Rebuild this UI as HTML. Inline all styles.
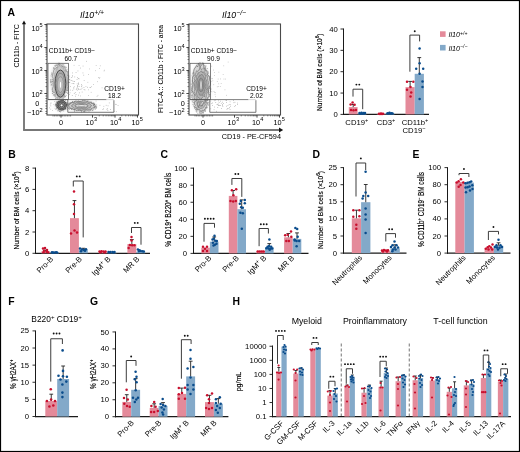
<!DOCTYPE html>
<html><head><meta charset="utf-8"><style>
html,body{margin:0;padding:0;background:#fff;}
svg{display:block;will-change:transform;}
text{font-family:"Liberation Sans", sans-serif;}
</style></head><body>
<svg width="520" height="452" viewBox="0 0 520 452">
<defs><filter id="blur1" x="-50%" y="-50%" width="200%" height="200%"><feGaussianBlur stdDeviation="1.4"/></filter></defs>
<rect x="0" y="0" width="520" height="452" fill="#fff"/>
<text x="7.60" y="16.20" font-size="10.4" text-anchor="start" font-weight="bold" font-style="normal" fill="#000" >A</text>
<line x1="24.00" y1="130.00" x2="24.00" y2="23.50" stroke="#777" stroke-width="1.9" />
<polygon points="24,20.6 21.9,24.2 26.1,24.2" fill="#111"/>
<line x1="23.10" y1="130.00" x2="279.50" y2="130.00" stroke="#777" stroke-width="1.9" />
<polygon points="283.2,130 279,127.5 279,132.5" fill="#111"/>
<text x="18.70" y="45.80" font-size="7.4" font-weight="normal" text-anchor="middle" fill="#000" stroke="#000" stroke-width="0" transform="rotate(-90 18.70 45.80)" textLength="43.5" lengthAdjust="spacingAndGlyphs">CD11b - FITC</text>
<text x="163.30" y="69.00" font-size="7.4" font-weight="normal" text-anchor="middle" fill="#000" stroke="#000" stroke-width="0.05" transform="rotate(-90 163.30 69.00)" textLength="88" lengthAdjust="spacingAndGlyphs">FITC-A :: CD11b : FITC - area</text>
<text x="281.00" y="139.20" font-size="7.3" text-anchor="end" font-weight="normal" font-style="normal" fill="#000" >CD19 - PE-CF594</text>
<rect x="47" y="24.0" width="91.5" height="91.0" fill="none" stroke="#4a4a4a" stroke-width="1.1"/>
<line x1="44.40" y1="24.50" x2="47.00" y2="24.50" stroke="#333" stroke-width="0.9" />
<line x1="45.50" y1="40.58" x2="47.00" y2="40.58" stroke="#333" stroke-width="0.6" />
<line x1="45.50" y1="36.53" x2="47.00" y2="36.53" stroke="#333" stroke-width="0.6" />
<line x1="45.50" y1="33.65" x2="47.00" y2="33.65" stroke="#333" stroke-width="0.6" />
<line x1="45.50" y1="31.42" x2="47.00" y2="31.42" stroke="#333" stroke-width="0.6" />
<line x1="45.50" y1="29.60" x2="47.00" y2="29.60" stroke="#333" stroke-width="0.6" />
<line x1="45.50" y1="28.06" x2="47.00" y2="28.06" stroke="#333" stroke-width="0.6" />
<line x1="45.50" y1="26.73" x2="47.00" y2="26.73" stroke="#333" stroke-width="0.6" />
<line x1="45.50" y1="25.55" x2="47.00" y2="25.55" stroke="#333" stroke-width="0.6" />
<line x1="44.40" y1="47.50" x2="47.00" y2="47.50" stroke="#333" stroke-width="0.9" />
<line x1="45.50" y1="63.58" x2="47.00" y2="63.58" stroke="#333" stroke-width="0.6" />
<line x1="45.50" y1="59.53" x2="47.00" y2="59.53" stroke="#333" stroke-width="0.6" />
<line x1="45.50" y1="56.65" x2="47.00" y2="56.65" stroke="#333" stroke-width="0.6" />
<line x1="45.50" y1="54.42" x2="47.00" y2="54.42" stroke="#333" stroke-width="0.6" />
<line x1="45.50" y1="52.60" x2="47.00" y2="52.60" stroke="#333" stroke-width="0.6" />
<line x1="45.50" y1="51.06" x2="47.00" y2="51.06" stroke="#333" stroke-width="0.6" />
<line x1="45.50" y1="49.73" x2="47.00" y2="49.73" stroke="#333" stroke-width="0.6" />
<line x1="45.50" y1="48.55" x2="47.00" y2="48.55" stroke="#333" stroke-width="0.6" />
<line x1="44.40" y1="70.50" x2="47.00" y2="70.50" stroke="#333" stroke-width="0.9" />
<line x1="45.50" y1="86.58" x2="47.00" y2="86.58" stroke="#333" stroke-width="0.6" />
<line x1="45.50" y1="82.53" x2="47.00" y2="82.53" stroke="#333" stroke-width="0.6" />
<line x1="45.50" y1="79.65" x2="47.00" y2="79.65" stroke="#333" stroke-width="0.6" />
<line x1="45.50" y1="77.42" x2="47.00" y2="77.42" stroke="#333" stroke-width="0.6" />
<line x1="45.50" y1="75.60" x2="47.00" y2="75.60" stroke="#333" stroke-width="0.6" />
<line x1="45.50" y1="74.06" x2="47.00" y2="74.06" stroke="#333" stroke-width="0.6" />
<line x1="45.50" y1="72.73" x2="47.00" y2="72.73" stroke="#333" stroke-width="0.6" />
<line x1="45.50" y1="71.55" x2="47.00" y2="71.55" stroke="#333" stroke-width="0.6" />
<line x1="44.40" y1="93.50" x2="47.00" y2="93.50" stroke="#333" stroke-width="0.9" />
<line x1="45.40" y1="96.00" x2="47.00" y2="96.00" stroke="#333" stroke-width="0.6" />
<line x1="45.40" y1="98.50" x2="47.00" y2="98.50" stroke="#333" stroke-width="0.6" />
<line x1="45.40" y1="101.00" x2="47.00" y2="101.00" stroke="#333" stroke-width="0.6" />
<line x1="45.40" y1="103.50" x2="47.00" y2="103.50" stroke="#333" stroke-width="0.6" />
<line x1="45.40" y1="106.00" x2="47.00" y2="106.00" stroke="#333" stroke-width="0.6" />
<line x1="45.40" y1="108.50" x2="47.00" y2="108.50" stroke="#333" stroke-width="0.6" />
<line x1="45.40" y1="111.50" x2="47.00" y2="111.50" stroke="#333" stroke-width="0.6" />
<line x1="45.40" y1="113.50" x2="47.00" y2="113.50" stroke="#333" stroke-width="0.6" />
<text x="31.4" y="30.5" font-size="7.3" fill="#000">10</text>
<text x="39.4" y="27.299999999999997" font-size="5.6" fill="#000">5</text>
<text x="31.4" y="50.7" font-size="7.3" fill="#000">10</text>
<text x="39.4" y="47.5" font-size="5.6" fill="#000">4</text>
<text x="31.4" y="73.8" font-size="7.3" fill="#000">10</text>
<text x="39.4" y="70.60000000000001" font-size="5.6" fill="#000">3</text>
<text x="31.4" y="96.89999999999999" font-size="7.3" fill="#000">10</text>
<text x="39.4" y="93.7" font-size="5.6" fill="#000">2</text>
<text x="37.4" y="106.19999999999999" font-size="7.3" text-anchor="middle" fill="#000">0</text>
<text x="31.4" y="115.0" font-size="7.3" fill="#000">10</text>
<text x="31.2" y="115.0" font-size="7.3" text-anchor="end" fill="#000">−</text>
<text x="39.4" y="111.80000000000001" font-size="5.6" fill="#000">2</text>
<line x1="61.00" y1="115.00" x2="61.00" y2="117.60" stroke="#333" stroke-width="0.9" />
<line x1="92.50" y1="115.00" x2="92.50" y2="117.60" stroke="#333" stroke-width="0.9" />
<line x1="115.00" y1="115.00" x2="115.00" y2="117.60" stroke="#333" stroke-width="0.9" />
<line x1="137.50" y1="115.00" x2="137.50" y2="117.60" stroke="#333" stroke-width="0.9" />
<line x1="53.00" y1="115.00" x2="53.00" y2="116.50" stroke="#333" stroke-width="0.55" />
<line x1="54.60" y1="115.00" x2="54.60" y2="116.50" stroke="#333" stroke-width="0.55" />
<line x1="56.20" y1="115.00" x2="56.20" y2="116.50" stroke="#333" stroke-width="0.55" />
<line x1="57.80" y1="115.00" x2="57.80" y2="116.50" stroke="#333" stroke-width="0.55" />
<line x1="59.40" y1="115.00" x2="59.40" y2="116.50" stroke="#333" stroke-width="0.55" />
<line x1="61.00" y1="115.00" x2="61.00" y2="116.50" stroke="#333" stroke-width="0.55" />
<line x1="62.60" y1="115.00" x2="62.60" y2="116.50" stroke="#333" stroke-width="0.55" />
<line x1="64.20" y1="115.00" x2="64.20" y2="116.50" stroke="#333" stroke-width="0.55" />
<line x1="65.80" y1="115.00" x2="65.80" y2="116.50" stroke="#333" stroke-width="0.55" />
<line x1="67.40" y1="115.00" x2="67.40" y2="116.50" stroke="#333" stroke-width="0.55" />
<line x1="69.00" y1="115.00" x2="69.00" y2="116.50" stroke="#333" stroke-width="0.55" />
<line x1="70.60" y1="115.00" x2="70.60" y2="116.50" stroke="#333" stroke-width="0.55" />
<line x1="99.27" y1="115.00" x2="99.27" y2="116.40" stroke="#333" stroke-width="0.55" />
<line x1="103.24" y1="115.00" x2="103.24" y2="116.40" stroke="#333" stroke-width="0.55" />
<line x1="106.05" y1="115.00" x2="106.05" y2="116.40" stroke="#333" stroke-width="0.55" />
<line x1="108.23" y1="115.00" x2="108.23" y2="116.40" stroke="#333" stroke-width="0.55" />
<line x1="110.01" y1="115.00" x2="110.01" y2="116.40" stroke="#333" stroke-width="0.55" />
<line x1="111.51" y1="115.00" x2="111.51" y2="116.40" stroke="#333" stroke-width="0.55" />
<line x1="112.82" y1="115.00" x2="112.82" y2="116.40" stroke="#333" stroke-width="0.55" />
<line x1="113.97" y1="115.00" x2="113.97" y2="116.40" stroke="#333" stroke-width="0.55" />
<line x1="121.77" y1="115.00" x2="121.77" y2="116.40" stroke="#333" stroke-width="0.55" />
<line x1="125.74" y1="115.00" x2="125.74" y2="116.40" stroke="#333" stroke-width="0.55" />
<line x1="128.55" y1="115.00" x2="128.55" y2="116.40" stroke="#333" stroke-width="0.55" />
<line x1="130.73" y1="115.00" x2="130.73" y2="116.40" stroke="#333" stroke-width="0.55" />
<line x1="132.51" y1="115.00" x2="132.51" y2="116.40" stroke="#333" stroke-width="0.55" />
<line x1="134.01" y1="115.00" x2="134.01" y2="116.40" stroke="#333" stroke-width="0.55" />
<line x1="135.32" y1="115.00" x2="135.32" y2="116.40" stroke="#333" stroke-width="0.55" />
<line x1="136.47" y1="115.00" x2="136.47" y2="116.40" stroke="#333" stroke-width="0.55" />
<text x="61" y="124.8" font-size="7.3" text-anchor="middle" fill="#000">0</text>
<text x="85.6" y="124.8" font-size="7.3" fill="#000">10</text>
<text x="93.89999999999999" y="121.3" font-size="5.6" fill="#000">3</text>
<text x="110" y="124.8" font-size="7.3" fill="#000">10</text>
<text x="118.3" y="121.3" font-size="5.6" fill="#000">4</text>
<text x="131.4" y="124.8" font-size="7.3" fill="#000">10</text>
<text x="139.70000000000002" y="121.3" font-size="5.6" fill="#000">5</text>
<text x="80" y="18.3" font-size="8.8" font-style="italic" fill="#000">Il10<tspan font-size="6.8" dy="-3.2">+/+</tspan></text>
<rect x="189" y="24.0" width="91.5" height="91.0" fill="none" stroke="#4a4a4a" stroke-width="1.1"/>
<line x1="186.40" y1="24.50" x2="189.00" y2="24.50" stroke="#333" stroke-width="0.9" />
<line x1="187.50" y1="40.58" x2="189.00" y2="40.58" stroke="#333" stroke-width="0.6" />
<line x1="187.50" y1="36.53" x2="189.00" y2="36.53" stroke="#333" stroke-width="0.6" />
<line x1="187.50" y1="33.65" x2="189.00" y2="33.65" stroke="#333" stroke-width="0.6" />
<line x1="187.50" y1="31.42" x2="189.00" y2="31.42" stroke="#333" stroke-width="0.6" />
<line x1="187.50" y1="29.60" x2="189.00" y2="29.60" stroke="#333" stroke-width="0.6" />
<line x1="187.50" y1="28.06" x2="189.00" y2="28.06" stroke="#333" stroke-width="0.6" />
<line x1="187.50" y1="26.73" x2="189.00" y2="26.73" stroke="#333" stroke-width="0.6" />
<line x1="187.50" y1="25.55" x2="189.00" y2="25.55" stroke="#333" stroke-width="0.6" />
<line x1="186.40" y1="47.50" x2="189.00" y2="47.50" stroke="#333" stroke-width="0.9" />
<line x1="187.50" y1="63.58" x2="189.00" y2="63.58" stroke="#333" stroke-width="0.6" />
<line x1="187.50" y1="59.53" x2="189.00" y2="59.53" stroke="#333" stroke-width="0.6" />
<line x1="187.50" y1="56.65" x2="189.00" y2="56.65" stroke="#333" stroke-width="0.6" />
<line x1="187.50" y1="54.42" x2="189.00" y2="54.42" stroke="#333" stroke-width="0.6" />
<line x1="187.50" y1="52.60" x2="189.00" y2="52.60" stroke="#333" stroke-width="0.6" />
<line x1="187.50" y1="51.06" x2="189.00" y2="51.06" stroke="#333" stroke-width="0.6" />
<line x1="187.50" y1="49.73" x2="189.00" y2="49.73" stroke="#333" stroke-width="0.6" />
<line x1="187.50" y1="48.55" x2="189.00" y2="48.55" stroke="#333" stroke-width="0.6" />
<line x1="186.40" y1="70.50" x2="189.00" y2="70.50" stroke="#333" stroke-width="0.9" />
<line x1="187.50" y1="86.58" x2="189.00" y2="86.58" stroke="#333" stroke-width="0.6" />
<line x1="187.50" y1="82.53" x2="189.00" y2="82.53" stroke="#333" stroke-width="0.6" />
<line x1="187.50" y1="79.65" x2="189.00" y2="79.65" stroke="#333" stroke-width="0.6" />
<line x1="187.50" y1="77.42" x2="189.00" y2="77.42" stroke="#333" stroke-width="0.6" />
<line x1="187.50" y1="75.60" x2="189.00" y2="75.60" stroke="#333" stroke-width="0.6" />
<line x1="187.50" y1="74.06" x2="189.00" y2="74.06" stroke="#333" stroke-width="0.6" />
<line x1="187.50" y1="72.73" x2="189.00" y2="72.73" stroke="#333" stroke-width="0.6" />
<line x1="187.50" y1="71.55" x2="189.00" y2="71.55" stroke="#333" stroke-width="0.6" />
<line x1="186.40" y1="93.50" x2="189.00" y2="93.50" stroke="#333" stroke-width="0.9" />
<line x1="187.40" y1="96.00" x2="189.00" y2="96.00" stroke="#333" stroke-width="0.6" />
<line x1="187.40" y1="98.50" x2="189.00" y2="98.50" stroke="#333" stroke-width="0.6" />
<line x1="187.40" y1="101.00" x2="189.00" y2="101.00" stroke="#333" stroke-width="0.6" />
<line x1="187.40" y1="103.50" x2="189.00" y2="103.50" stroke="#333" stroke-width="0.6" />
<line x1="187.40" y1="106.00" x2="189.00" y2="106.00" stroke="#333" stroke-width="0.6" />
<line x1="187.40" y1="108.50" x2="189.00" y2="108.50" stroke="#333" stroke-width="0.6" />
<line x1="187.40" y1="111.50" x2="189.00" y2="111.50" stroke="#333" stroke-width="0.6" />
<line x1="187.40" y1="113.50" x2="189.00" y2="113.50" stroke="#333" stroke-width="0.6" />
<text x="173.4" y="30.5" font-size="7.3" fill="#000">10</text>
<text x="181.4" y="27.299999999999997" font-size="5.6" fill="#000">5</text>
<text x="173.4" y="50.7" font-size="7.3" fill="#000">10</text>
<text x="181.4" y="47.5" font-size="5.6" fill="#000">4</text>
<text x="173.4" y="73.8" font-size="7.3" fill="#000">10</text>
<text x="181.4" y="70.60000000000001" font-size="5.6" fill="#000">3</text>
<text x="173.4" y="96.89999999999999" font-size="7.3" fill="#000">10</text>
<text x="181.4" y="93.7" font-size="5.6" fill="#000">2</text>
<text x="182.8" y="106.19999999999999" font-size="7.3" text-anchor="middle" fill="#000">0</text>
<text x="173.4" y="115.0" font-size="7.3" fill="#000">10</text>
<text x="173.2" y="115.0" font-size="7.3" text-anchor="end" fill="#000">−</text>
<text x="181.4" y="111.80000000000001" font-size="5.6" fill="#000">2</text>
<line x1="203.00" y1="115.00" x2="203.00" y2="117.60" stroke="#333" stroke-width="0.9" />
<line x1="234.50" y1="115.00" x2="234.50" y2="117.60" stroke="#333" stroke-width="0.9" />
<line x1="257.00" y1="115.00" x2="257.00" y2="117.60" stroke="#333" stroke-width="0.9" />
<line x1="279.50" y1="115.00" x2="279.50" y2="117.60" stroke="#333" stroke-width="0.9" />
<line x1="195.00" y1="115.00" x2="195.00" y2="116.50" stroke="#333" stroke-width="0.55" />
<line x1="196.60" y1="115.00" x2="196.60" y2="116.50" stroke="#333" stroke-width="0.55" />
<line x1="198.20" y1="115.00" x2="198.20" y2="116.50" stroke="#333" stroke-width="0.55" />
<line x1="199.80" y1="115.00" x2="199.80" y2="116.50" stroke="#333" stroke-width="0.55" />
<line x1="201.40" y1="115.00" x2="201.40" y2="116.50" stroke="#333" stroke-width="0.55" />
<line x1="203.00" y1="115.00" x2="203.00" y2="116.50" stroke="#333" stroke-width="0.55" />
<line x1="204.60" y1="115.00" x2="204.60" y2="116.50" stroke="#333" stroke-width="0.55" />
<line x1="206.20" y1="115.00" x2="206.20" y2="116.50" stroke="#333" stroke-width="0.55" />
<line x1="207.80" y1="115.00" x2="207.80" y2="116.50" stroke="#333" stroke-width="0.55" />
<line x1="209.40" y1="115.00" x2="209.40" y2="116.50" stroke="#333" stroke-width="0.55" />
<line x1="211.00" y1="115.00" x2="211.00" y2="116.50" stroke="#333" stroke-width="0.55" />
<line x1="212.60" y1="115.00" x2="212.60" y2="116.50" stroke="#333" stroke-width="0.55" />
<line x1="241.27" y1="115.00" x2="241.27" y2="116.40" stroke="#333" stroke-width="0.55" />
<line x1="245.24" y1="115.00" x2="245.24" y2="116.40" stroke="#333" stroke-width="0.55" />
<line x1="248.05" y1="115.00" x2="248.05" y2="116.40" stroke="#333" stroke-width="0.55" />
<line x1="250.23" y1="115.00" x2="250.23" y2="116.40" stroke="#333" stroke-width="0.55" />
<line x1="252.01" y1="115.00" x2="252.01" y2="116.40" stroke="#333" stroke-width="0.55" />
<line x1="253.51" y1="115.00" x2="253.51" y2="116.40" stroke="#333" stroke-width="0.55" />
<line x1="254.82" y1="115.00" x2="254.82" y2="116.40" stroke="#333" stroke-width="0.55" />
<line x1="255.97" y1="115.00" x2="255.97" y2="116.40" stroke="#333" stroke-width="0.55" />
<line x1="263.77" y1="115.00" x2="263.77" y2="116.40" stroke="#333" stroke-width="0.55" />
<line x1="267.74" y1="115.00" x2="267.74" y2="116.40" stroke="#333" stroke-width="0.55" />
<line x1="270.55" y1="115.00" x2="270.55" y2="116.40" stroke="#333" stroke-width="0.55" />
<line x1="272.73" y1="115.00" x2="272.73" y2="116.40" stroke="#333" stroke-width="0.55" />
<line x1="274.51" y1="115.00" x2="274.51" y2="116.40" stroke="#333" stroke-width="0.55" />
<line x1="276.01" y1="115.00" x2="276.01" y2="116.40" stroke="#333" stroke-width="0.55" />
<line x1="277.32" y1="115.00" x2="277.32" y2="116.40" stroke="#333" stroke-width="0.55" />
<line x1="278.47" y1="115.00" x2="278.47" y2="116.40" stroke="#333" stroke-width="0.55" />
<text x="203" y="124.8" font-size="7.3" text-anchor="middle" fill="#000">0</text>
<text x="227.6" y="124.8" font-size="7.3" fill="#000">10</text>
<text x="235.9" y="121.3" font-size="5.6" fill="#000">3</text>
<text x="252" y="124.8" font-size="7.3" fill="#000">10</text>
<text x="260.3" y="121.3" font-size="5.6" fill="#000">4</text>
<text x="273.4" y="124.8" font-size="7.3" fill="#000">10</text>
<text x="281.7" y="121.3" font-size="5.6" fill="#000">5</text>
<text x="222" y="18.3" font-size="8.8" font-style="italic" fill="#000">Il10<tspan font-size="6.8" dy="-3.2">−/−</tspan></text>
<rect x="73.5" y="88.6" width="0.7" height="0.7" fill="#9a9a9a"/>
<rect x="73.6" y="81.2" width="0.7" height="0.7" fill="#9a9a9a"/>
<rect x="69.4" y="82.1" width="0.7" height="0.7" fill="#9a9a9a"/>
<rect x="81.7" y="87.8" width="0.7" height="0.7" fill="#9a9a9a"/>
<rect x="81.2" y="86.2" width="0.7" height="0.7" fill="#9a9a9a"/>
<rect x="77.4" y="85.7" width="0.7" height="0.7" fill="#9a9a9a"/>
<rect x="78.0" y="88.5" width="0.7" height="0.7" fill="#9a9a9a"/>
<rect x="69.7" y="79.8" width="0.7" height="0.7" fill="#9a9a9a"/>
<rect x="76.8" y="83.6" width="0.7" height="0.7" fill="#9a9a9a"/>
<rect x="78.1" y="78.2" width="0.7" height="0.7" fill="#9a9a9a"/>
<rect x="76.9" y="87.5" width="0.7" height="0.7" fill="#9a9a9a"/>
<rect x="78.3" y="94.8" width="0.7" height="0.7" fill="#9a9a9a"/>
<rect x="71.3" y="77.3" width="0.7" height="0.7" fill="#9a9a9a"/>
<rect x="72.9" y="83.0" width="0.7" height="0.7" fill="#9a9a9a"/>
<rect x="78.8" y="86.2" width="0.7" height="0.7" fill="#9a9a9a"/>
<rect x="72.3" y="75.4" width="0.7" height="0.7" fill="#9a9a9a"/>
<rect x="71.9" y="95.0" width="0.7" height="0.7" fill="#9a9a9a"/>
<rect x="70.2" y="86.2" width="0.7" height="0.7" fill="#9a9a9a"/>
<rect x="77.6" y="70.6" width="0.7" height="0.7" fill="#9a9a9a"/>
<rect x="75.3" y="95.8" width="0.7" height="0.7" fill="#9a9a9a"/>
<rect x="74.4" y="76.6" width="0.7" height="0.7" fill="#9a9a9a"/>
<rect x="78.0" y="83.4" width="0.7" height="0.7" fill="#9a9a9a"/>
<rect x="79.0" y="92.5" width="0.7" height="0.7" fill="#9a9a9a"/>
<rect x="83.6" y="87.3" width="0.7" height="0.7" fill="#9a9a9a"/>
<rect x="75.7" y="72.3" width="0.7" height="0.7" fill="#9a9a9a"/>
<rect x="78.7" y="78.5" width="0.7" height="0.7" fill="#9a9a9a"/>
<rect x="72.3" y="72.6" width="0.7" height="0.7" fill="#9a9a9a"/>
<rect x="69.2" y="79.2" width="0.7" height="0.7" fill="#9a9a9a"/>
<rect x="82.7" y="65.7" width="0.7" height="0.7" fill="#9a9a9a"/>
<rect x="83.7" y="89.2" width="0.7" height="0.7" fill="#9a9a9a"/>
<rect x="77.1" y="77.4" width="0.7" height="0.7" fill="#9a9a9a"/>
<rect x="81.6" y="85.4" width="0.7" height="0.7" fill="#9a9a9a"/>
<rect x="76.5" y="87.9" width="0.7" height="0.7" fill="#9a9a9a"/>
<rect x="84.6" y="89.6" width="0.7" height="0.7" fill="#9a9a9a"/>
<rect x="78.1" y="88.9" width="0.7" height="0.7" fill="#9a9a9a"/>
<rect x="80.7" y="88.8" width="0.7" height="0.7" fill="#9a9a9a"/>
<rect x="80.1" y="67.7" width="0.7" height="0.7" fill="#9a9a9a"/>
<rect x="73.9" y="93.2" width="0.7" height="0.7" fill="#9a9a9a"/>
<rect x="78.3" y="82.6" width="0.7" height="0.7" fill="#9a9a9a"/>
<rect x="76.9" y="89.8" width="0.7" height="0.7" fill="#9a9a9a"/>
<rect x="75.7" y="94.3" width="0.7" height="0.7" fill="#9a9a9a"/>
<rect x="71.0" y="80.3" width="0.7" height="0.7" fill="#9a9a9a"/>
<rect x="81.3" y="84.2" width="0.7" height="0.7" fill="#9a9a9a"/>
<rect x="69.7" y="92.5" width="0.7" height="0.7" fill="#9a9a9a"/>
<rect x="83.8" y="80.0" width="0.7" height="0.7" fill="#9a9a9a"/>
<rect x="74.1" y="81.3" width="0.7" height="0.7" fill="#9a9a9a"/>
<rect x="83.4" y="74.8" width="0.7" height="0.7" fill="#9a9a9a"/>
<rect x="82.6" y="72.6" width="0.7" height="0.7" fill="#9a9a9a"/>
<rect x="70.3" y="89.7" width="0.7" height="0.7" fill="#9a9a9a"/>
<rect x="81.8" y="91.7" width="0.7" height="0.7" fill="#9a9a9a"/>
<rect x="77.1" y="85.3" width="0.7" height="0.7" fill="#9a9a9a"/>
<rect x="75.9" y="89.2" width="0.7" height="0.7" fill="#9a9a9a"/>
<rect x="73.9" y="86.5" width="0.7" height="0.7" fill="#9a9a9a"/>
<rect x="78.4" y="84.0" width="0.7" height="0.7" fill="#9a9a9a"/>
<rect x="79.6" y="89.1" width="0.7" height="0.7" fill="#9a9a9a"/>
<rect x="87.1" y="86.9" width="0.7" height="0.7" fill="#9a9a9a"/>
<rect x="72.4" y="80.6" width="0.7" height="0.7" fill="#9a9a9a"/>
<rect x="74.9" y="92.3" width="0.7" height="0.7" fill="#9a9a9a"/>
<rect x="73.0" y="87.5" width="0.7" height="0.7" fill="#9a9a9a"/>
<rect x="86.0" y="60.9" width="0.7" height="0.7" fill="#9a9a9a"/>
<rect x="77.4" y="86.1" width="0.7" height="0.7" fill="#9a9a9a"/>
<rect x="72.4" y="89.9" width="0.7" height="0.7" fill="#9a9a9a"/>
<rect x="76.7" y="79.3" width="0.7" height="0.7" fill="#9a9a9a"/>
<rect x="89.6" y="87.2" width="0.7" height="0.7" fill="#9a9a9a"/>
<rect x="71.7" y="83.1" width="0.7" height="0.7" fill="#9a9a9a"/>
<rect x="73.6" y="83.4" width="0.7" height="0.7" fill="#9a9a9a"/>
<rect x="99.1" y="68.3" width="0.7" height="0.7" fill="#a5a5a5"/>
<rect x="88.3" y="89.5" width="0.7" height="0.7" fill="#a5a5a5"/>
<rect x="97.6" y="94.9" width="0.7" height="0.7" fill="#a5a5a5"/>
<rect x="72.0" y="76.5" width="0.7" height="0.7" fill="#a5a5a5"/>
<rect x="85.6" y="86.2" width="0.7" height="0.7" fill="#a5a5a5"/>
<rect x="99.9" y="65.5" width="0.7" height="0.7" fill="#a5a5a5"/>
<rect x="95.8" y="65.1" width="0.7" height="0.7" fill="#a5a5a5"/>
<rect x="90.8" y="91.9" width="0.7" height="0.7" fill="#a5a5a5"/>
<rect x="87.5" y="81.9" width="0.7" height="0.7" fill="#a5a5a5"/>
<rect x="97.0" y="81.4" width="0.7" height="0.7" fill="#a5a5a5"/>
<rect x="88.1" y="95.3" width="0.7" height="0.7" fill="#a5a5a5"/>
<rect x="99.5" y="77.1" width="0.7" height="0.7" fill="#a5a5a5"/>
<rect x="98.1" y="77.3" width="0.7" height="0.7" fill="#a5a5a5"/>
<rect x="90.3" y="87.1" width="0.7" height="0.7" fill="#a5a5a5"/>
<rect x="91.2" y="86.4" width="0.7" height="0.7" fill="#a5a5a5"/>
<rect x="73.7" y="64.9" width="0.7" height="0.7" fill="#a5a5a5"/>
<rect x="95.1" y="70.4" width="0.7" height="0.7" fill="#a5a5a5"/>
<rect x="78.7" y="65.3" width="0.7" height="0.7" fill="#a5a5a5"/>
<rect x="101.7" y="87.5" width="0.7" height="0.7" fill="#a5a5a5"/>
<rect x="103.7" y="70.6" width="0.7" height="0.7" fill="#a5a5a5"/>
<rect x="89.0" y="68.6" width="0.7" height="0.7" fill="#a5a5a5"/>
<rect x="96.7" y="95.9" width="0.7" height="0.7" fill="#a5a5a5"/>
<rect x="80.1" y="95.6" width="0.7" height="0.7" fill="#a5a5a5"/>
<rect x="98.9" y="78.2" width="0.7" height="0.7" fill="#a5a5a5"/>
<rect x="69.3" y="94.1" width="0.7" height="0.7" fill="#a5a5a5"/>
<rect x="88.0" y="74.0" width="0.7" height="0.7" fill="#a5a5a5"/>
<rect x="93.0" y="84.1" width="0.7" height="0.7" fill="#a5a5a5"/>
<rect x="104.0" y="69.8" width="0.7" height="0.7" fill="#a5a5a5"/>
<rect x="113.8" y="110.9" width="0.7" height="0.7" fill="#999"/>
<rect x="115.7" y="104.3" width="0.7" height="0.7" fill="#999"/>
<rect x="102.5" y="109.1" width="0.7" height="0.7" fill="#999"/>
<rect x="107.7" y="105.5" width="0.7" height="0.7" fill="#999"/>
<rect x="115.5" y="103.9" width="0.7" height="0.7" fill="#999"/>
<rect x="93.2" y="103.5" width="0.7" height="0.7" fill="#999"/>
<rect x="95.9" y="108.3" width="0.7" height="0.7" fill="#999"/>
<rect x="108.9" y="102.6" width="0.7" height="0.7" fill="#999"/>
<rect x="106.9" y="108.3" width="0.7" height="0.7" fill="#999"/>
<rect x="107.5" y="110.3" width="0.7" height="0.7" fill="#999"/>
<rect x="106.6" y="109.2" width="0.7" height="0.7" fill="#999"/>
<rect x="115.9" y="111.4" width="0.7" height="0.7" fill="#999"/>
<rect x="103.0" y="108.5" width="0.7" height="0.7" fill="#999"/>
<rect x="95.7" y="100.7" width="0.7" height="0.7" fill="#999"/>
<rect x="95.2" y="109.3" width="0.7" height="0.7" fill="#999"/>
<rect x="99.6" y="104.9" width="0.7" height="0.7" fill="#999"/>
<rect x="105.8" y="104.9" width="0.7" height="0.7" fill="#999"/>
<rect x="103.5" y="105.9" width="0.7" height="0.7" fill="#999"/>
<rect x="117.7" y="105.2" width="0.7" height="0.7" fill="#999"/>
<rect x="110.2" y="109.0" width="0.7" height="0.7" fill="#999"/>
<rect x="54.0" y="101.0" width="0.7" height="0.7" fill="#aaa"/>
<rect x="52.2" y="110.3" width="0.7" height="0.7" fill="#aaa"/>
<rect x="60.0" y="109.2" width="0.7" height="0.7" fill="#aaa"/>
<rect x="55.0" y="109.2" width="0.7" height="0.7" fill="#aaa"/>
<rect x="55.8" y="101.3" width="0.7" height="0.7" fill="#aaa"/>
<rect x="59.6" y="103.7" width="0.7" height="0.7" fill="#aaa"/>
<rect x="50.5" y="102.9" width="0.7" height="0.7" fill="#aaa"/>
<rect x="49.1" y="107.5" width="0.7" height="0.7" fill="#aaa"/>
<rect x="58.6" y="104.9" width="0.7" height="0.7" fill="#aaa"/>
<rect x="56.5" y="104.2" width="0.7" height="0.7" fill="#aaa"/>
<rect x="58.9" y="109.0" width="0.7" height="0.7" fill="#aaa"/>
<rect x="58.3" y="107.3" width="0.7" height="0.7" fill="#aaa"/>
<rect x="61.7" y="108.6" width="0.7" height="0.7" fill="#aaa"/>
<rect x="59.5" y="111.2" width="0.7" height="0.7" fill="#aaa"/>
<rect x="53.5" y="104.1" width="0.7" height="0.7" fill="#aaa"/>
<rect x="50.4" y="108.8" width="0.7" height="0.7" fill="#aaa"/>
<rect x="64.4" y="105.5" width="0.7" height="0.7" fill="#aaa"/>
<rect x="57.8" y="109.6" width="0.7" height="0.7" fill="#aaa"/>
<rect x="50.5" y="105.6" width="0.7" height="0.7" fill="#aaa"/>
<rect x="56.5" y="109.3" width="0.7" height="0.7" fill="#aaa"/>
<rect x="54.8" y="105.2" width="0.7" height="0.7" fill="#aaa"/>
<rect x="49.9" y="104.6" width="0.7" height="0.7" fill="#aaa"/>
<rect x="59.5" y="106.4" width="0.7" height="0.7" fill="#aaa"/>
<rect x="50.7" y="102.6" width="0.7" height="0.7" fill="#aaa"/>
<rect x="58.1" y="107.9" width="0.7" height="0.7" fill="#aaa"/>
<rect x="63.4" y="107.7" width="0.7" height="0.7" fill="#aaa"/>
<rect x="54.7" y="108.1" width="0.7" height="0.7" fill="#aaa"/>
<rect x="56.6" y="103.2" width="0.7" height="0.7" fill="#aaa"/>
<ellipse cx="59.5" cy="81.5" rx="9.20" ry="18.00" fill="#dedede" filter="url(#blur1)"/>
<rect x="65.0" y="96.1" width="0.75" height="0.75" fill="#8c8c8c"/>
<rect x="52.2" y="74.7" width="0.75" height="0.75" fill="#8c8c8c"/>
<rect x="61.5" y="83.9" width="0.75" height="0.75" fill="#8c8c8c"/>
<rect x="57.1" y="70.1" width="0.75" height="0.75" fill="#8c8c8c"/>
<rect x="67.9" y="89.5" width="0.75" height="0.75" fill="#8c8c8c"/>
<rect x="53.8" y="68.8" width="0.75" height="0.75" fill="#8c8c8c"/>
<rect x="67.2" y="90.3" width="0.75" height="0.75" fill="#8c8c8c"/>
<rect x="67.7" y="88.6" width="0.75" height="0.75" fill="#8c8c8c"/>
<rect x="54.1" y="84.7" width="0.75" height="0.75" fill="#8c8c8c"/>
<rect x="50.7" y="75.5" width="0.75" height="0.75" fill="#8c8c8c"/>
<rect x="59.1" y="88.3" width="0.75" height="0.75" fill="#8c8c8c"/>
<rect x="54.9" y="79.9" width="0.75" height="0.75" fill="#8c8c8c"/>
<rect x="62.5" y="86.3" width="0.75" height="0.75" fill="#8c8c8c"/>
<rect x="63.6" y="84.1" width="0.75" height="0.75" fill="#8c8c8c"/>
<rect x="57.5" y="91.2" width="0.75" height="0.75" fill="#8c8c8c"/>
<rect x="59.8" y="71.3" width="0.75" height="0.75" fill="#8c8c8c"/>
<rect x="55.4" y="81.5" width="0.75" height="0.75" fill="#8c8c8c"/>
<rect x="58.8" y="83.6" width="0.75" height="0.75" fill="#8c8c8c"/>
<rect x="59.5" y="83.8" width="0.75" height="0.75" fill="#8c8c8c"/>
<rect x="58.7" y="67.5" width="0.75" height="0.75" fill="#8c8c8c"/>
<rect x="62.0" y="93.6" width="0.75" height="0.75" fill="#8c8c8c"/>
<rect x="62.4" y="79.0" width="0.75" height="0.75" fill="#8c8c8c"/>
<rect x="62.2" y="70.2" width="0.75" height="0.75" fill="#8c8c8c"/>
<rect x="50.7" y="82.0" width="0.75" height="0.75" fill="#8c8c8c"/>
<rect x="54.1" y="89.9" width="0.75" height="0.75" fill="#8c8c8c"/>
<rect x="55.8" y="64.2" width="0.75" height="0.75" fill="#8c8c8c"/>
<rect x="54.7" y="95.9" width="0.75" height="0.75" fill="#8c8c8c"/>
<rect x="57.4" y="67.0" width="0.75" height="0.75" fill="#8c8c8c"/>
<rect x="54.8" y="87.8" width="0.75" height="0.75" fill="#8c8c8c"/>
<rect x="62.8" y="83.8" width="0.75" height="0.75" fill="#8c8c8c"/>
<rect x="67.0" y="88.5" width="0.75" height="0.75" fill="#8c8c8c"/>
<rect x="59.4" y="89.1" width="0.75" height="0.75" fill="#8c8c8c"/>
<rect x="67.1" y="90.3" width="0.75" height="0.75" fill="#8c8c8c"/>
<rect x="64.9" y="70.3" width="0.75" height="0.75" fill="#8c8c8c"/>
<rect x="58.6" y="90.6" width="0.75" height="0.75" fill="#8c8c8c"/>
<rect x="57.8" y="93.8" width="0.75" height="0.75" fill="#8c8c8c"/>
<rect x="63.0" y="92.0" width="0.75" height="0.75" fill="#8c8c8c"/>
<rect x="58.7" y="100.0" width="0.75" height="0.75" fill="#8c8c8c"/>
<rect x="66.5" y="79.1" width="0.75" height="0.75" fill="#8c8c8c"/>
<rect x="59.8" y="100.1" width="0.75" height="0.75" fill="#8c8c8c"/>
<rect x="57.4" y="92.0" width="0.75" height="0.75" fill="#8c8c8c"/>
<rect x="65.5" y="81.6" width="0.75" height="0.75" fill="#8c8c8c"/>
<rect x="52.7" y="83.6" width="0.75" height="0.75" fill="#8c8c8c"/>
<rect x="61.6" y="94.3" width="0.75" height="0.75" fill="#8c8c8c"/>
<rect x="64.5" y="81.8" width="0.75" height="0.75" fill="#8c8c8c"/>
<rect x="64.7" y="87.9" width="0.75" height="0.75" fill="#8c8c8c"/>
<rect x="60.9" y="82.2" width="0.75" height="0.75" fill="#8c8c8c"/>
<rect x="57.9" y="90.1" width="0.75" height="0.75" fill="#8c8c8c"/>
<rect x="53.5" y="74.5" width="0.75" height="0.75" fill="#8c8c8c"/>
<rect x="59.5" y="66.2" width="0.75" height="0.75" fill="#8c8c8c"/>
<rect x="57.6" y="64.2" width="0.75" height="0.75" fill="#8c8c8c"/>
<rect x="55.3" y="88.4" width="0.75" height="0.75" fill="#8c8c8c"/>
<rect x="63.2" y="80.8" width="0.75" height="0.75" fill="#8c8c8c"/>
<rect x="58.2" y="66.5" width="0.75" height="0.75" fill="#8c8c8c"/>
<rect x="68.0" y="86.2" width="0.75" height="0.75" fill="#8c8c8c"/>
<rect x="65.5" y="72.1" width="0.75" height="0.75" fill="#8c8c8c"/>
<rect x="58.6" y="64.6" width="0.75" height="0.75" fill="#8c8c8c"/>
<rect x="64.0" y="92.0" width="0.75" height="0.75" fill="#8c8c8c"/>
<rect x="50.7" y="81.0" width="0.75" height="0.75" fill="#8c8c8c"/>
<rect x="62.5" y="65.3" width="0.75" height="0.75" fill="#8c8c8c"/>
<rect x="51.6" y="72.5" width="0.75" height="0.75" fill="#8c8c8c"/>
<rect x="56.2" y="67.1" width="0.75" height="0.75" fill="#8c8c8c"/>
<rect x="59.7" y="84.8" width="0.75" height="0.75" fill="#8c8c8c"/>
<rect x="63.4" y="89.9" width="0.75" height="0.75" fill="#8c8c8c"/>
<rect x="66.5" y="92.1" width="0.75" height="0.75" fill="#8c8c8c"/>
<rect x="52.4" y="76.1" width="0.75" height="0.75" fill="#8c8c8c"/>
<rect x="53.9" y="70.4" width="0.75" height="0.75" fill="#8c8c8c"/>
<rect x="58.9" y="81.6" width="0.75" height="0.75" fill="#8c8c8c"/>
<rect x="62.0" y="65.9" width="0.75" height="0.75" fill="#8c8c8c"/>
<rect x="52.4" y="81.2" width="0.75" height="0.75" fill="#8c8c8c"/>
<rect x="58.2" y="77.4" width="0.75" height="0.75" fill="#8c8c8c"/>
<rect x="59.1" y="72.0" width="0.75" height="0.75" fill="#8c8c8c"/>
<rect x="63.9" y="85.9" width="0.75" height="0.75" fill="#8c8c8c"/>
<rect x="58.9" y="73.0" width="0.75" height="0.75" fill="#8c8c8c"/>
<rect x="58.9" y="62.9" width="0.75" height="0.75" fill="#8c8c8c"/>
<rect x="53.5" y="81.9" width="0.75" height="0.75" fill="#8c8c8c"/>
<rect x="51.6" y="83.6" width="0.75" height="0.75" fill="#8c8c8c"/>
<rect x="60.3" y="66.7" width="0.75" height="0.75" fill="#8c8c8c"/>
<rect x="57.8" y="77.4" width="0.75" height="0.75" fill="#8c8c8c"/>
<rect x="62.4" y="89.1" width="0.75" height="0.75" fill="#8c8c8c"/>
<rect x="59.3" y="71.1" width="0.75" height="0.75" fill="#8c8c8c"/>
<rect x="58.5" y="80.6" width="0.75" height="0.75" fill="#8c8c8c"/>
<rect x="64.1" y="85.1" width="0.75" height="0.75" fill="#8c8c8c"/>
<rect x="55.7" y="67.6" width="0.75" height="0.75" fill="#8c8c8c"/>
<rect x="57.2" y="72.4" width="0.75" height="0.75" fill="#8c8c8c"/>
<rect x="53.0" y="80.2" width="0.75" height="0.75" fill="#8c8c8c"/>
<rect x="56.2" y="82.9" width="0.75" height="0.75" fill="#8c8c8c"/>
<rect x="62.9" y="76.3" width="0.75" height="0.75" fill="#8c8c8c"/>
<rect x="68.8" y="79.0" width="0.75" height="0.75" fill="#8c8c8c"/>
<rect x="66.0" y="82.9" width="0.75" height="0.75" fill="#8c8c8c"/>
<rect x="63.5" y="64.7" width="0.75" height="0.75" fill="#8c8c8c"/>
<rect x="54.7" y="84.6" width="0.75" height="0.75" fill="#8c8c8c"/>
<rect x="61.8" y="99.3" width="0.75" height="0.75" fill="#8c8c8c"/>
<rect x="61.3" y="95.5" width="0.75" height="0.75" fill="#8c8c8c"/>
<rect x="63.9" y="92.1" width="0.75" height="0.75" fill="#8c8c8c"/>
<rect x="62.9" y="79.5" width="0.75" height="0.75" fill="#8c8c8c"/>
<rect x="62.4" y="69.3" width="0.75" height="0.75" fill="#8c8c8c"/>
<rect x="65.6" y="71.2" width="0.75" height="0.75" fill="#8c8c8c"/>
<rect x="60.6" y="99.3" width="0.75" height="0.75" fill="#8c8c8c"/>
<rect x="58.0" y="81.8" width="0.75" height="0.75" fill="#8c8c8c"/>
<rect x="66.3" y="81.8" width="0.75" height="0.75" fill="#8c8c8c"/>
<rect x="54.4" y="84.7" width="0.75" height="0.75" fill="#8c8c8c"/>
<rect x="63.1" y="90.1" width="0.75" height="0.75" fill="#8c8c8c"/>
<rect x="55.9" y="97.4" width="0.75" height="0.75" fill="#8c8c8c"/>
<rect x="67.9" y="81.7" width="0.75" height="0.75" fill="#8c8c8c"/>
<rect x="61.3" y="76.0" width="0.75" height="0.75" fill="#8c8c8c"/>
<rect x="66.8" y="74.4" width="0.75" height="0.75" fill="#8c8c8c"/>
<rect x="63.7" y="75.6" width="0.75" height="0.75" fill="#8c8c8c"/>
<rect x="55.3" y="90.0" width="0.75" height="0.75" fill="#8c8c8c"/>
<rect x="66.9" y="81.4" width="0.75" height="0.75" fill="#8c8c8c"/>
<rect x="55.4" y="91.0" width="0.75" height="0.75" fill="#8c8c8c"/>
<rect x="59.2" y="85.6" width="0.75" height="0.75" fill="#8c8c8c"/>
<rect x="66.6" y="91.8" width="0.75" height="0.75" fill="#8c8c8c"/>
<rect x="57.4" y="99.3" width="0.75" height="0.75" fill="#8c8c8c"/>
<rect x="59.5" y="91.2" width="0.75" height="0.75" fill="#8c8c8c"/>
<rect x="55.3" y="80.9" width="0.75" height="0.75" fill="#8c8c8c"/>
<rect x="52.9" y="94.7" width="0.75" height="0.75" fill="#8c8c8c"/>
<rect x="66.0" y="70.2" width="0.75" height="0.75" fill="#8c8c8c"/>
<rect x="53.2" y="68.3" width="0.75" height="0.75" fill="#8c8c8c"/>
<rect x="66.2" y="76.4" width="0.75" height="0.75" fill="#8c8c8c"/>
<rect x="59.1" y="77.4" width="0.75" height="0.75" fill="#8c8c8c"/>
<rect x="58.8" y="68.9" width="0.75" height="0.75" fill="#8c8c8c"/>
<rect x="59.6" y="66.3" width="0.75" height="0.75" fill="#8c8c8c"/>
<rect x="59.0" y="85.6" width="0.75" height="0.75" fill="#8c8c8c"/>
<rect x="62.6" y="78.5" width="0.75" height="0.75" fill="#8c8c8c"/>
<rect x="53.9" y="83.4" width="0.75" height="0.75" fill="#8c8c8c"/>
<rect x="57.0" y="97.0" width="0.75" height="0.75" fill="#8c8c8c"/>
<rect x="64.4" y="80.1" width="0.75" height="0.75" fill="#8c8c8c"/>
<rect x="56.5" y="72.9" width="0.75" height="0.75" fill="#8c8c8c"/>
<rect x="53.8" y="77.3" width="0.75" height="0.75" fill="#8c8c8c"/>
<rect x="61.4" y="88.1" width="0.75" height="0.75" fill="#8c8c8c"/>
<rect x="61.9" y="98.9" width="0.75" height="0.75" fill="#8c8c8c"/>
<rect x="55.0" y="81.7" width="0.75" height="0.75" fill="#8c8c8c"/>
<rect x="67.5" y="71.0" width="0.75" height="0.75" fill="#8c8c8c"/>
<rect x="56.1" y="83.7" width="0.75" height="0.75" fill="#8c8c8c"/>
<rect x="60.5" y="86.8" width="0.75" height="0.75" fill="#8c8c8c"/>
<rect x="57.9" y="86.3" width="0.75" height="0.75" fill="#8c8c8c"/>
<rect x="59.8" y="91.1" width="0.75" height="0.75" fill="#8c8c8c"/>
<rect x="51.3" y="74.0" width="0.75" height="0.75" fill="#8c8c8c"/>
<rect x="59.5" y="69.4" width="0.75" height="0.75" fill="#8c8c8c"/>
<rect x="53.5" y="88.5" width="0.75" height="0.75" fill="#8c8c8c"/>
<rect x="55.5" y="89.2" width="0.75" height="0.75" fill="#8c8c8c"/>
<rect x="64.2" y="85.3" width="0.75" height="0.75" fill="#8c8c8c"/>
<rect x="62.9" y="80.1" width="0.75" height="0.75" fill="#8c8c8c"/>
<rect x="51.8" y="81.2" width="0.75" height="0.75" fill="#8c8c8c"/>
<rect x="62.4" y="74.8" width="0.75" height="0.75" fill="#8c8c8c"/>
<rect x="58.9" y="90.8" width="0.75" height="0.75" fill="#8c8c8c"/>
<rect x="54.3" y="88.9" width="0.75" height="0.75" fill="#8c8c8c"/>
<rect x="68.0" y="76.5" width="0.75" height="0.75" fill="#8c8c8c"/>
<rect x="60.5" y="79.5" width="0.75" height="0.75" fill="#8c8c8c"/>
<rect x="67.5" y="84.7" width="0.75" height="0.75" fill="#8c8c8c"/>
<rect x="64.8" y="73.6" width="0.75" height="0.75" fill="#8c8c8c"/>
<rect x="59.4" y="81.4" width="0.75" height="0.75" fill="#8c8c8c"/>
<rect x="52.3" y="93.0" width="0.75" height="0.75" fill="#8c8c8c"/>
<rect x="63.6" y="66.0" width="0.75" height="0.75" fill="#8c8c8c"/>
<rect x="64.2" y="79.9" width="0.75" height="0.75" fill="#8c8c8c"/>
<rect x="62.4" y="86.2" width="0.75" height="0.75" fill="#8c8c8c"/>
<rect x="51.6" y="79.3" width="0.75" height="0.75" fill="#8c8c8c"/>
<rect x="67.2" y="75.7" width="0.75" height="0.75" fill="#8c8c8c"/>
<rect x="54.4" y="68.3" width="0.75" height="0.75" fill="#8c8c8c"/>
<rect x="52.6" y="85.2" width="0.75" height="0.75" fill="#8c8c8c"/>
<rect x="67.8" y="85.6" width="0.75" height="0.75" fill="#8c8c8c"/>
<rect x="60.5" y="99.5" width="0.75" height="0.75" fill="#8c8c8c"/>
<rect x="56.3" y="73.2" width="0.75" height="0.75" fill="#8c8c8c"/>
<rect x="62.9" y="88.3" width="0.75" height="0.75" fill="#8c8c8c"/>
<rect x="54.2" y="69.6" width="0.75" height="0.75" fill="#8c8c8c"/>
<rect x="61.5" y="84.7" width="0.75" height="0.75" fill="#8c8c8c"/>
<rect x="52.2" y="79.3" width="0.75" height="0.75" fill="#8c8c8c"/>
<rect x="56.0" y="87.3" width="0.75" height="0.75" fill="#8c8c8c"/>
<rect x="58.7" y="80.4" width="0.75" height="0.75" fill="#8c8c8c"/>
<rect x="57.4" y="93.7" width="0.75" height="0.75" fill="#8c8c8c"/>
<rect x="67.0" y="77.6" width="0.75" height="0.75" fill="#8c8c8c"/>
<rect x="64.5" y="72.8" width="0.75" height="0.75" fill="#8c8c8c"/>
<rect x="60.0" y="90.9" width="0.75" height="0.75" fill="#8c8c8c"/>
<rect x="67.4" y="77.6" width="0.75" height="0.75" fill="#8c8c8c"/>
<rect x="59.0" y="84.1" width="0.75" height="0.75" fill="#8c8c8c"/>
<rect x="51.6" y="81.7" width="0.75" height="0.75" fill="#8c8c8c"/>
<rect x="55.2" y="86.1" width="0.75" height="0.75" fill="#8c8c8c"/>
<rect x="54.9" y="65.7" width="0.75" height="0.75" fill="#8c8c8c"/>
<rect x="59.8" y="85.0" width="0.75" height="0.75" fill="#8c8c8c"/>
<rect x="56.2" y="91.9" width="0.75" height="0.75" fill="#8c8c8c"/>
<rect x="57.7" y="73.8" width="0.75" height="0.75" fill="#8c8c8c"/>
<rect x="61.9" y="66.0" width="0.75" height="0.75" fill="#8c8c8c"/>
<rect x="55.1" y="81.2" width="0.75" height="0.75" fill="#8c8c8c"/>
<rect x="64.8" y="79.5" width="0.75" height="0.75" fill="#8c8c8c"/>
<rect x="61.5" y="73.3" width="0.75" height="0.75" fill="#8c8c8c"/>
<rect x="61.0" y="97.7" width="0.75" height="0.75" fill="#8c8c8c"/>
<rect x="56.9" y="99.2" width="0.75" height="0.75" fill="#8c8c8c"/>
<rect x="55.3" y="81.7" width="0.75" height="0.75" fill="#8c8c8c"/>
<rect x="60.5" y="93.5" width="0.75" height="0.75" fill="#8c8c8c"/>
<rect x="54.7" y="65.6" width="0.75" height="0.75" fill="#8c8c8c"/>
<rect x="63.2" y="90.9" width="0.75" height="0.75" fill="#8c8c8c"/>
<rect x="61.7" y="99.7" width="0.75" height="0.75" fill="#8c8c8c"/>
<rect x="60.9" y="84.8" width="0.75" height="0.75" fill="#8c8c8c"/>
<rect x="65.1" y="85.9" width="0.75" height="0.75" fill="#8c8c8c"/>
<rect x="66.8" y="70.9" width="0.75" height="0.75" fill="#8c8c8c"/>
<rect x="58.5" y="62.7" width="0.75" height="0.75" fill="#8c8c8c"/>
<rect x="64.5" y="77.0" width="0.75" height="0.75" fill="#8c8c8c"/>
<rect x="63.2" y="98.3" width="0.75" height="0.75" fill="#8c8c8c"/>
<rect x="59.5" y="78.1" width="0.75" height="0.75" fill="#8c8c8c"/>
<rect x="56.5" y="71.5" width="0.75" height="0.75" fill="#8c8c8c"/>
<rect x="55.6" y="89.3" width="0.75" height="0.75" fill="#8c8c8c"/>
<rect x="59.8" y="82.4" width="0.75" height="0.75" fill="#8c8c8c"/>
<rect x="58.4" y="92.5" width="0.75" height="0.75" fill="#8c8c8c"/>
<rect x="62.8" y="79.7" width="0.75" height="0.75" fill="#8c8c8c"/>
<rect x="63.8" y="79.6" width="0.75" height="0.75" fill="#8c8c8c"/>
<rect x="54.1" y="94.9" width="0.75" height="0.75" fill="#8c8c8c"/>
<rect x="62.3" y="70.3" width="0.75" height="0.75" fill="#8c8c8c"/>
<rect x="65.8" y="85.5" width="0.75" height="0.75" fill="#8c8c8c"/>
<rect x="53.0" y="94.5" width="0.75" height="0.75" fill="#8c8c8c"/>
<rect x="61.5" y="92.2" width="0.75" height="0.75" fill="#8c8c8c"/>
<rect x="60.8" y="79.5" width="0.75" height="0.75" fill="#8c8c8c"/>
<rect x="52.1" y="90.6" width="0.75" height="0.75" fill="#8c8c8c"/>
<rect x="59.7" y="77.7" width="0.75" height="0.75" fill="#8c8c8c"/>
<rect x="61.9" y="82.5" width="0.75" height="0.75" fill="#8c8c8c"/>
<rect x="63.8" y="76.9" width="0.75" height="0.75" fill="#8c8c8c"/>
<rect x="59.3" y="63.6" width="0.75" height="0.75" fill="#8c8c8c"/>
<rect x="56.8" y="89.9" width="0.75" height="0.75" fill="#8c8c8c"/>
<rect x="66.8" y="77.6" width="0.75" height="0.75" fill="#8c8c8c"/>
<rect x="58.9" y="97.5" width="0.75" height="0.75" fill="#8c8c8c"/>
<rect x="57.4" y="90.6" width="0.75" height="0.75" fill="#8c8c8c"/>
<rect x="67.9" y="81.9" width="0.75" height="0.75" fill="#8c8c8c"/>
<rect x="66.2" y="74.0" width="0.75" height="0.75" fill="#8c8c8c"/>
<rect x="60.9" y="80.5" width="0.75" height="0.75" fill="#8c8c8c"/>
<rect x="60.2" y="94.5" width="0.75" height="0.75" fill="#8c8c8c"/>
<rect x="68.6" y="76.5" width="0.75" height="0.75" fill="#8c8c8c"/>
<rect x="55.8" y="87.7" width="0.75" height="0.75" fill="#8c8c8c"/>
<rect x="53.4" y="87.2" width="0.75" height="0.75" fill="#8c8c8c"/>
<rect x="63.2" y="78.0" width="0.75" height="0.75" fill="#8c8c8c"/>
<rect x="62.2" y="66.1" width="0.75" height="0.75" fill="#8c8c8c"/>
<rect x="63.2" y="66.6" width="0.75" height="0.75" fill="#8c8c8c"/>
<rect x="55.2" y="74.7" width="0.75" height="0.75" fill="#8c8c8c"/>
<rect x="57.0" y="91.8" width="0.75" height="0.75" fill="#8c8c8c"/>
<rect x="60.0" y="76.3" width="0.75" height="0.75" fill="#8c8c8c"/>
<rect x="62.2" y="97.0" width="0.75" height="0.75" fill="#8c8c8c"/>
<rect x="59.5" y="86.3" width="0.75" height="0.75" fill="#8c8c8c"/>
<rect x="66.5" y="84.5" width="0.75" height="0.75" fill="#8c8c8c"/>
<rect x="55.1" y="98.1" width="0.75" height="0.75" fill="#8c8c8c"/>
<rect x="66.6" y="68.9" width="0.75" height="0.75" fill="#8c8c8c"/>
<rect x="59.2" y="87.0" width="0.75" height="0.75" fill="#8c8c8c"/>
<rect x="65.1" y="89.1" width="0.75" height="0.75" fill="#8c8c8c"/>
<rect x="57.9" y="69.3" width="0.75" height="0.75" fill="#8c8c8c"/>
<rect x="60.1" y="93.6" width="0.75" height="0.75" fill="#8c8c8c"/>
<rect x="53.7" y="70.9" width="0.75" height="0.75" fill="#8c8c8c"/>
<rect x="59.4" y="64.1" width="0.75" height="0.75" fill="#8c8c8c"/>
<rect x="57.8" y="75.8" width="0.75" height="0.75" fill="#8c8c8c"/>
<rect x="62.3" y="72.9" width="0.75" height="0.75" fill="#8c8c8c"/>
<rect x="54.1" y="76.8" width="0.75" height="0.75" fill="#8c8c8c"/>
<rect x="59.2" y="73.1" width="0.75" height="0.75" fill="#8c8c8c"/>
<rect x="59.6" y="90.9" width="0.75" height="0.75" fill="#8c8c8c"/>
<rect x="64.7" y="96.1" width="0.75" height="0.75" fill="#8c8c8c"/>
<rect x="54.6" y="76.4" width="0.75" height="0.75" fill="#8c8c8c"/>
<rect x="51.9" y="92.9" width="0.75" height="0.75" fill="#8c8c8c"/>
<rect x="54.9" y="81.1" width="0.75" height="0.75" fill="#8c8c8c"/>
<rect x="62.3" y="67.2" width="0.75" height="0.75" fill="#8c8c8c"/>
<rect x="62.6" y="81.2" width="0.75" height="0.75" fill="#8c8c8c"/>
<rect x="50.9" y="84.2" width="0.75" height="0.75" fill="#8c8c8c"/>
<rect x="64.5" y="66.3" width="0.75" height="0.75" fill="#8c8c8c"/>
<rect x="64.6" y="84.1" width="0.75" height="0.75" fill="#8c8c8c"/>
<rect x="62.6" y="87.1" width="0.75" height="0.75" fill="#8c8c8c"/>
<rect x="66.8" y="79.1" width="0.75" height="0.75" fill="#8c8c8c"/>
<rect x="64.8" y="76.6" width="0.75" height="0.75" fill="#8c8c8c"/>
<rect x="63.8" y="72.1" width="0.75" height="0.75" fill="#8c8c8c"/>
<rect x="59.0" y="98.1" width="0.75" height="0.75" fill="#8c8c8c"/>
<rect x="62.5" y="79.4" width="0.75" height="0.75" fill="#8c8c8c"/>
<rect x="53.2" y="73.0" width="0.75" height="0.75" fill="#8c8c8c"/>
<rect x="60.7" y="92.7" width="0.75" height="0.75" fill="#8c8c8c"/>
<rect x="62.3" y="88.1" width="0.75" height="0.75" fill="#8c8c8c"/>
<rect x="59.3" y="96.1" width="0.75" height="0.75" fill="#8c8c8c"/>
<rect x="57.0" y="74.6" width="0.75" height="0.75" fill="#8c8c8c"/>
<rect x="65.0" y="82.3" width="0.75" height="0.75" fill="#8c8c8c"/>
<rect x="57.7" y="74.2" width="0.75" height="0.75" fill="#8c8c8c"/>
<rect x="57.8" y="89.4" width="0.75" height="0.75" fill="#8c8c8c"/>
<rect x="61.5" y="68.1" width="0.75" height="0.75" fill="#8c8c8c"/>
<rect x="62.3" y="83.8" width="0.75" height="0.75" fill="#8c8c8c"/>
<rect x="53.8" y="90.1" width="0.75" height="0.75" fill="#8c8c8c"/>
<rect x="57.6" y="77.1" width="0.75" height="0.75" fill="#8c8c8c"/>
<rect x="63.7" y="95.0" width="0.75" height="0.75" fill="#8c8c8c"/>
<rect x="55.2" y="86.9" width="0.75" height="0.75" fill="#8c8c8c"/>
<rect x="56.2" y="98.8" width="0.75" height="0.75" fill="#8c8c8c"/>
<rect x="56.7" y="94.6" width="0.75" height="0.75" fill="#8c8c8c"/>
<rect x="55.6" y="91.0" width="0.75" height="0.75" fill="#8c8c8c"/>
<rect x="65.8" y="67.3" width="0.75" height="0.75" fill="#8c8c8c"/>
<rect x="56.7" y="87.8" width="0.75" height="0.75" fill="#8c8c8c"/>
<rect x="58.9" y="73.1" width="0.75" height="0.75" fill="#8c8c8c"/>
<rect x="68.7" y="82.2" width="0.75" height="0.75" fill="#8c8c8c"/>
<rect x="51.7" y="89.4" width="0.75" height="0.75" fill="#8c8c8c"/>
<rect x="52.0" y="91.4" width="0.75" height="0.75" fill="#8c8c8c"/>
<rect x="55.7" y="83.4" width="0.75" height="0.75" fill="#8c8c8c"/>
<rect x="66.6" y="82.8" width="0.75" height="0.75" fill="#8c8c8c"/>
<rect x="53.7" y="67.6" width="0.75" height="0.75" fill="#8c8c8c"/>
<rect x="66.0" y="89.4" width="0.75" height="0.75" fill="#8c8c8c"/>
<rect x="54.8" y="91.2" width="0.75" height="0.75" fill="#8c8c8c"/>
<rect x="62.6" y="89.5" width="0.75" height="0.75" fill="#8c8c8c"/>
<rect x="50.3" y="79.1" width="0.75" height="0.75" fill="#8c8c8c"/>
<rect x="64.7" y="89.9" width="0.75" height="0.75" fill="#8c8c8c"/>
<rect x="62.7" y="64.0" width="0.75" height="0.75" fill="#8c8c8c"/>
<rect x="60.6" y="87.9" width="0.75" height="0.75" fill="#8c8c8c"/>
<rect x="68.4" y="75.0" width="0.75" height="0.75" fill="#8c8c8c"/>
<rect x="57.3" y="82.0" width="0.75" height="0.75" fill="#8c8c8c"/>
<rect x="64.9" y="76.2" width="0.75" height="0.75" fill="#8c8c8c"/>
<rect x="65.8" y="73.1" width="0.75" height="0.75" fill="#8c8c8c"/>
<rect x="61.2" y="74.7" width="0.75" height="0.75" fill="#8c8c8c"/>
<rect x="60.5" y="72.8" width="0.75" height="0.75" fill="#8c8c8c"/>
<rect x="52.2" y="91.3" width="0.75" height="0.75" fill="#8c8c8c"/>
<rect x="61.5" y="74.4" width="0.75" height="0.75" fill="#8c8c8c"/>
<rect x="60.7" y="93.2" width="0.75" height="0.75" fill="#8c8c8c"/>
<rect x="53.6" y="80.2" width="0.75" height="0.75" fill="#8c8c8c"/>
<rect x="62.9" y="88.1" width="0.75" height="0.75" fill="#8c8c8c"/>
<rect x="58.1" y="63.8" width="0.75" height="0.75" fill="#8c8c8c"/>
<rect x="66.5" y="85.1" width="0.75" height="0.75" fill="#8c8c8c"/>
<rect x="59.6" y="77.8" width="0.75" height="0.75" fill="#8c8c8c"/>
<rect x="61.2" y="76.0" width="0.75" height="0.75" fill="#8c8c8c"/>
<rect x="53.7" y="73.3" width="0.75" height="0.75" fill="#8c8c8c"/>
<rect x="55.8" y="74.0" width="0.75" height="0.75" fill="#8c8c8c"/>
<rect x="53.0" y="88.4" width="0.75" height="0.75" fill="#8c8c8c"/>
<rect x="52.5" y="88.4" width="0.75" height="0.75" fill="#8c8c8c"/>
<rect x="53.5" y="85.6" width="0.75" height="0.75" fill="#8c8c8c"/>
<rect x="67.0" y="83.7" width="0.75" height="0.75" fill="#8c8c8c"/>
<rect x="54.8" y="82.1" width="0.75" height="0.75" fill="#8c8c8c"/>
<rect x="60.2" y="64.9" width="0.75" height="0.75" fill="#8c8c8c"/>
<rect x="55.5" y="83.6" width="0.75" height="0.75" fill="#8c8c8c"/>
<rect x="56.4" y="82.5" width="0.75" height="0.75" fill="#8c8c8c"/>
<rect x="63.9" y="90.5" width="0.75" height="0.75" fill="#8c8c8c"/>
<rect x="64.9" y="88.3" width="0.75" height="0.75" fill="#8c8c8c"/>
<rect x="57.6" y="81.3" width="0.75" height="0.75" fill="#8c8c8c"/>
<rect x="57.7" y="77.4" width="0.75" height="0.75" fill="#8c8c8c"/>
<rect x="58.6" y="64.9" width="0.75" height="0.75" fill="#8c8c8c"/>
<rect x="57.3" y="81.2" width="0.75" height="0.75" fill="#8c8c8c"/>
<rect x="53.6" y="81.2" width="0.75" height="0.75" fill="#8c8c8c"/>
<rect x="62.9" y="79.4" width="0.75" height="0.75" fill="#8c8c8c"/>
<rect x="65.5" y="66.7" width="0.75" height="0.75" fill="#8c8c8c"/>
<rect x="58.5" y="64.5" width="0.75" height="0.75" fill="#8c8c8c"/>
<rect x="62.8" y="99.1" width="0.75" height="0.75" fill="#8c8c8c"/>
<rect x="50.1" y="82.4" width="0.75" height="0.75" fill="#8c8c8c"/>
<rect x="62.9" y="77.6" width="0.75" height="0.75" fill="#8c8c8c"/>
<rect x="61.7" y="63.8" width="0.75" height="0.75" fill="#8c8c8c"/>
<rect x="64.7" y="86.0" width="0.75" height="0.75" fill="#8c8c8c"/>
<rect x="59.6" y="74.0" width="0.75" height="0.75" fill="#8c8c8c"/>
<rect x="63.5" y="75.5" width="0.75" height="0.75" fill="#8c8c8c"/>
<rect x="61.0" y="74.9" width="0.75" height="0.75" fill="#8c8c8c"/>
<rect x="50.2" y="81.2" width="0.75" height="0.75" fill="#8c8c8c"/>
<rect x="60.8" y="90.9" width="0.75" height="0.75" fill="#8c8c8c"/>
<rect x="54.0" y="81.1" width="0.75" height="0.75" fill="#8c8c8c"/>
<rect x="63.5" y="83.3" width="0.75" height="0.75" fill="#8c8c8c"/>
<rect x="64.4" y="97.0" width="0.75" height="0.75" fill="#8c8c8c"/>
<rect x="55.6" y="65.3" width="0.75" height="0.75" fill="#8c8c8c"/>
<rect x="63.7" y="96.1" width="0.75" height="0.75" fill="#8c8c8c"/>
<rect x="64.8" y="90.6" width="0.75" height="0.75" fill="#8c8c8c"/>
<rect x="55.7" y="72.9" width="0.75" height="0.75" fill="#8c8c8c"/>
<rect x="64.5" y="71.4" width="0.75" height="0.75" fill="#8c8c8c"/>
<rect x="51.5" y="72.9" width="0.75" height="0.75" fill="#8c8c8c"/>
<rect x="67.1" y="93.0" width="0.75" height="0.75" fill="#8c8c8c"/>
<rect x="55.3" y="72.9" width="0.75" height="0.75" fill="#8c8c8c"/>
<rect x="61.0" y="72.2" width="0.75" height="0.75" fill="#8c8c8c"/>
<rect x="66.8" y="80.6" width="0.75" height="0.75" fill="#8c8c8c"/>
<rect x="54.1" y="94.2" width="0.75" height="0.75" fill="#8c8c8c"/>
<rect x="55.7" y="84.3" width="0.75" height="0.75" fill="#8c8c8c"/>
<rect x="59.4" y="77.4" width="0.75" height="0.75" fill="#8c8c8c"/>
<rect x="61.6" y="72.9" width="0.75" height="0.75" fill="#8c8c8c"/>
<rect x="53.4" y="67.1" width="0.75" height="0.75" fill="#8c8c8c"/>
<rect x="52.7" y="73.6" width="0.75" height="0.75" fill="#8c8c8c"/>
<rect x="59.3" y="82.2" width="0.75" height="0.75" fill="#8c8c8c"/>
<rect x="63.1" y="83.0" width="0.75" height="0.75" fill="#8c8c8c"/>
<rect x="54.8" y="73.2" width="0.75" height="0.75" fill="#8c8c8c"/>
<rect x="50.4" y="80.1" width="0.75" height="0.75" fill="#8c8c8c"/>
<rect x="62.6" y="88.1" width="0.75" height="0.75" fill="#8c8c8c"/>
<rect x="58.7" y="79.2" width="0.75" height="0.75" fill="#8c8c8c"/>
<rect x="65.3" y="81.7" width="0.75" height="0.75" fill="#8c8c8c"/>
<rect x="64.0" y="88.5" width="0.75" height="0.75" fill="#8c8c8c"/>
<rect x="60.7" y="95.7" width="0.75" height="0.75" fill="#8c8c8c"/>
<rect x="55.8" y="77.0" width="0.75" height="0.75" fill="#8c8c8c"/>
<rect x="54.8" y="72.4" width="0.75" height="0.75" fill="#8c8c8c"/>
<rect x="65.7" y="95.2" width="0.75" height="0.75" fill="#8c8c8c"/>
<rect x="59.7" y="88.8" width="0.75" height="0.75" fill="#8c8c8c"/>
<rect x="65.9" y="90.0" width="0.75" height="0.75" fill="#8c8c8c"/>
<rect x="65.4" y="69.4" width="0.75" height="0.75" fill="#8c8c8c"/>
<rect x="55.4" y="87.1" width="0.75" height="0.75" fill="#8c8c8c"/>
<rect x="67.2" y="82.6" width="0.75" height="0.75" fill="#8c8c8c"/>
<rect x="54.2" y="77.2" width="0.75" height="0.75" fill="#8c8c8c"/>
<rect x="55.6" y="71.5" width="0.75" height="0.75" fill="#8c8c8c"/>
<rect x="67.1" y="75.3" width="0.75" height="0.75" fill="#8c8c8c"/>
<rect x="59.6" y="99.5" width="0.75" height="0.75" fill="#8c8c8c"/>
<rect x="66.3" y="85.3" width="0.75" height="0.75" fill="#8c8c8c"/>
<rect x="55.6" y="86.6" width="0.75" height="0.75" fill="#8c8c8c"/>
<rect x="67.5" y="87.5" width="0.75" height="0.75" fill="#8c8c8c"/>
<rect x="66.6" y="82.6" width="0.75" height="0.75" fill="#8c8c8c"/>
<rect x="62.9" y="78.9" width="0.75" height="0.75" fill="#8c8c8c"/>
<rect x="61.8" y="95.5" width="0.75" height="0.75" fill="#8c8c8c"/>
<rect x="51.8" y="80.8" width="0.75" height="0.75" fill="#8c8c8c"/>
<rect x="61.1" y="74.2" width="0.75" height="0.75" fill="#8c8c8c"/>
<rect x="57.6" y="91.1" width="0.75" height="0.75" fill="#8c8c8c"/>
<rect x="68.2" y="86.8" width="0.75" height="0.75" fill="#8c8c8c"/>
<rect x="61.2" y="65.9" width="0.75" height="0.75" fill="#8c8c8c"/>
<rect x="68.4" y="82.2" width="0.75" height="0.75" fill="#8c8c8c"/>
<rect x="59.3" y="68.6" width="0.75" height="0.75" fill="#8c8c8c"/>
<rect x="59.2" y="68.8" width="0.75" height="0.75" fill="#8c8c8c"/>
<rect x="60.0" y="87.6" width="0.75" height="0.75" fill="#8c8c8c"/>
<rect x="59.7" y="85.2" width="0.75" height="0.75" fill="#8c8c8c"/>
<rect x="55.2" y="95.6" width="0.75" height="0.75" fill="#8c8c8c"/>
<rect x="56.5" y="65.1" width="0.75" height="0.75" fill="#8c8c8c"/>
<rect x="58.3" y="72.0" width="0.75" height="0.75" fill="#8c8c8c"/>
<rect x="53.5" y="77.4" width="0.75" height="0.75" fill="#8c8c8c"/>
<rect x="61.2" y="68.2" width="0.75" height="0.75" fill="#8c8c8c"/>
<rect x="58.8" y="96.6" width="0.75" height="0.75" fill="#8c8c8c"/>
<rect x="63.9" y="79.6" width="0.75" height="0.75" fill="#8c8c8c"/>
<rect x="60.4" y="79.9" width="0.75" height="0.75" fill="#8c8c8c"/>
<rect x="59.2" y="90.7" width="0.75" height="0.75" fill="#8c8c8c"/>
<rect x="59.1" y="63.1" width="0.75" height="0.75" fill="#8c8c8c"/>
<rect x="59.4" y="70.7" width="0.75" height="0.75" fill="#8c8c8c"/>
<rect x="63.5" y="74.1" width="0.75" height="0.75" fill="#8c8c8c"/>
<rect x="60.1" y="99.5" width="0.75" height="0.75" fill="#8c8c8c"/>
<rect x="54.0" y="70.0" width="0.75" height="0.75" fill="#8c8c8c"/>
<rect x="54.6" y="65.4" width="0.75" height="0.75" fill="#8c8c8c"/>
<rect x="50.8" y="84.8" width="0.75" height="0.75" fill="#8c8c8c"/>
<rect x="56.6" y="64.9" width="0.75" height="0.75" fill="#8c8c8c"/>
<rect x="51.9" y="87.7" width="0.75" height="0.75" fill="#8c8c8c"/>
<rect x="54.7" y="77.0" width="0.75" height="0.75" fill="#8c8c8c"/>
<rect x="61.3" y="96.0" width="0.75" height="0.75" fill="#8c8c8c"/>
<rect x="67.6" y="90.0" width="0.75" height="0.75" fill="#8c8c8c"/>
<polygon points="67.15,81.50 66.88,83.49 66.85,85.53 67.94,88.76 66.54,89.78 65.71,91.07 64.97,92.29 64.32,93.64 64.18,97.08 63.20,97.90 62.26,98.90 61.25,99.52 60.20,96.91 59.19,98.92 58.30,97.57 57.07,98.60 56.11,97.54 55.14,96.43 55.39,92.40 53.64,92.89 52.96,90.96 52.43,88.78 53.55,85.53 53.20,83.59 53.31,81.50 53.51,79.51 52.25,76.68 52.65,74.42 53.41,72.62 53.70,70.21 54.66,68.95 55.81,68.55 56.76,68.03 57.57,67.14 58.11,63.86 59.28,65.65 60.20,65.05 61.17,64.76 61.94,66.80 62.94,66.54 63.80,67.38 65.07,67.15 65.40,69.72 65.97,71.48 67.51,71.94 67.23,74.91 68.16,76.67 67.95,79.19" fill="#d4d4d4" stroke="#8a8a8a" stroke-width="0.6"/>
<polygon points="66.40,82.30 66.75,84.31 66.61,86.30 66.66,88.53 65.88,89.91 65.71,92.11 65.00,93.40 64.14,94.12 63.79,96.59 62.66,95.77 62.10,98.14 61.12,96.95 60.30,96.66 59.48,97.03 58.52,98.00 57.58,97.81 57.26,94.74 56.29,94.66 55.64,93.32 54.82,92.25 54.87,89.71 54.21,88.26 54.08,86.24 53.41,84.44 53.95,82.30 53.29,80.12 54.15,78.40 54.48,76.60 54.40,74.25 55.07,72.81 55.92,71.96 56.19,69.65 57.22,69.70 57.66,67.22 58.54,66.76 59.40,66.12 60.30,66.38 61.14,67.19 61.98,67.47 62.78,68.13 63.81,67.95 64.05,70.74 65.26,70.58 65.14,73.52 65.75,74.87 66.17,76.56 67.08,78.00 66.84,80.26" fill="#c8c8c8" stroke="#999" stroke-width="0.5"/>
<ellipse cx="60.4" cy="83.6" rx="5.4" ry="13.6" fill="#a9a9a9" stroke="#3c3c3c" stroke-width="0.9"/>
<polygon points="64.55,84.00 64.72,85.46 64.35,86.72 64.27,88.12 64.05,89.42 63.82,90.74 63.44,91.83 62.99,92.69 62.47,93.21 61.98,93.80 61.45,94.07 60.97,95.07 60.40,94.98 59.84,94.97 59.35,94.09 58.80,93.92 58.24,93.61 57.82,92.64 57.54,91.35 57.08,90.55 56.62,89.61 56.62,88.02 56.47,86.71 56.32,85.38 56.11,84.00 56.09,82.54 56.48,81.30 56.65,80.01 56.85,78.74 57.13,77.54 57.42,76.35 57.93,75.72 58.34,74.81 58.84,74.33 59.26,73.07 59.84,73.05 60.40,73.63 60.97,72.80 61.44,73.98 61.99,74.14 62.60,74.19 63.03,75.18 63.44,76.19 63.71,77.47 63.93,78.76 64.33,79.81 64.30,81.31 64.44,82.63" fill="#b0b0b0" stroke="#6f6f6f" stroke-width="0.5"/>
<polygon points="63.37,84.50 63.24,85.47 63.27,86.50 63.25,87.57 63.05,88.48 62.78,89.25 62.55,90.09 62.22,90.67 61.85,91.01 61.56,91.78 61.17,91.96 60.80,92.42 60.40,92.62 60.01,92.18 59.62,92.09 59.22,91.89 58.91,91.20 58.62,90.52 58.23,90.14 57.93,89.43 57.73,88.51 57.57,87.54 57.40,86.59 57.37,85.54 57.36,84.50 57.44,83.49 57.56,82.52 57.59,81.48 57.91,80.76 58.04,79.79 58.22,78.83 58.53,78.18 58.88,77.66 59.28,77.47 59.63,77.02 60.01,76.80 60.40,76.61 60.79,76.84 61.19,76.83 61.60,76.98 61.85,77.96 62.25,78.22 62.58,78.83 62.75,79.80 63.00,80.60 63.30,81.37 63.16,82.57 63.39,83.48" fill="#bdbdbd" stroke="#777" stroke-width="0.5"/>
<ellipse cx="60.5" cy="85" rx="0.65" ry="3.2" fill="#fff"/>
<ellipse cx="81.5" cy="105.8" rx="14.50" ry="5.60" fill="#dedede" filter="url(#blur1)"/>
<rect x="88.7" y="110.2" width="0.75" height="0.75" fill="#8c8c8c"/>
<rect x="91.7" y="104.3" width="0.75" height="0.75" fill="#8c8c8c"/>
<rect x="90.8" y="108.4" width="0.75" height="0.75" fill="#8c8c8c"/>
<rect x="69.0" y="104.5" width="0.75" height="0.75" fill="#8c8c8c"/>
<rect x="69.4" y="105.4" width="0.75" height="0.75" fill="#8c8c8c"/>
<rect x="86.7" y="102.1" width="0.75" height="0.75" fill="#8c8c8c"/>
<rect x="69.0" y="108.9" width="0.75" height="0.75" fill="#8c8c8c"/>
<rect x="84.6" y="110.5" width="0.75" height="0.75" fill="#8c8c8c"/>
<rect x="71.1" y="109.0" width="0.75" height="0.75" fill="#8c8c8c"/>
<rect x="92.4" y="109.9" width="0.75" height="0.75" fill="#8c8c8c"/>
<rect x="79.3" y="106.9" width="0.75" height="0.75" fill="#8c8c8c"/>
<rect x="80.0" y="109.5" width="0.75" height="0.75" fill="#8c8c8c"/>
<rect x="91.3" y="106.1" width="0.75" height="0.75" fill="#8c8c8c"/>
<rect x="70.3" y="108.2" width="0.75" height="0.75" fill="#8c8c8c"/>
<rect x="76.8" y="108.2" width="0.75" height="0.75" fill="#8c8c8c"/>
<rect x="83.6" y="110.8" width="0.75" height="0.75" fill="#8c8c8c"/>
<rect x="91.8" y="104.2" width="0.75" height="0.75" fill="#8c8c8c"/>
<rect x="84.1" y="111.0" width="0.75" height="0.75" fill="#8c8c8c"/>
<rect x="76.0" y="107.5" width="0.75" height="0.75" fill="#8c8c8c"/>
<rect x="90.7" y="109.6" width="0.75" height="0.75" fill="#8c8c8c"/>
<rect x="85.9" y="101.4" width="0.75" height="0.75" fill="#8c8c8c"/>
<rect x="70.3" y="106.6" width="0.75" height="0.75" fill="#8c8c8c"/>
<rect x="83.7" y="111.5" width="0.75" height="0.75" fill="#8c8c8c"/>
<rect x="74.2" y="109.5" width="0.75" height="0.75" fill="#8c8c8c"/>
<rect x="87.3" y="101.0" width="0.75" height="0.75" fill="#8c8c8c"/>
<rect x="73.4" y="106.4" width="0.75" height="0.75" fill="#8c8c8c"/>
<rect x="76.4" y="105.2" width="0.75" height="0.75" fill="#8c8c8c"/>
<rect x="86.1" y="102.8" width="0.75" height="0.75" fill="#8c8c8c"/>
<rect x="86.2" y="103.3" width="0.75" height="0.75" fill="#8c8c8c"/>
<rect x="76.0" y="107.9" width="0.75" height="0.75" fill="#8c8c8c"/>
<rect x="75.6" y="106.9" width="0.75" height="0.75" fill="#8c8c8c"/>
<rect x="94.4" y="105.9" width="0.75" height="0.75" fill="#8c8c8c"/>
<rect x="80.0" y="108.7" width="0.75" height="0.75" fill="#8c8c8c"/>
<rect x="78.1" y="109.7" width="0.75" height="0.75" fill="#8c8c8c"/>
<rect x="70.6" y="107.8" width="0.75" height="0.75" fill="#8c8c8c"/>
<rect x="76.6" y="102.8" width="0.75" height="0.75" fill="#8c8c8c"/>
<rect x="94.2" y="103.4" width="0.75" height="0.75" fill="#8c8c8c"/>
<rect x="94.5" y="107.7" width="0.75" height="0.75" fill="#8c8c8c"/>
<rect x="92.7" y="102.9" width="0.75" height="0.75" fill="#8c8c8c"/>
<rect x="90.3" y="109.9" width="0.75" height="0.75" fill="#8c8c8c"/>
<rect x="80.3" y="105.3" width="0.75" height="0.75" fill="#8c8c8c"/>
<rect x="96.3" y="106.2" width="0.75" height="0.75" fill="#8c8c8c"/>
<rect x="77.3" y="103.4" width="0.75" height="0.75" fill="#8c8c8c"/>
<rect x="86.1" y="107.1" width="0.75" height="0.75" fill="#8c8c8c"/>
<rect x="82.9" y="111.0" width="0.75" height="0.75" fill="#8c8c8c"/>
<rect x="78.1" y="107.7" width="0.75" height="0.75" fill="#8c8c8c"/>
<rect x="92.7" y="102.8" width="0.75" height="0.75" fill="#8c8c8c"/>
<rect x="88.6" y="110.6" width="0.75" height="0.75" fill="#8c8c8c"/>
<rect x="71.0" y="102.5" width="0.75" height="0.75" fill="#8c8c8c"/>
<rect x="74.4" y="101.0" width="0.75" height="0.75" fill="#8c8c8c"/>
<rect x="84.8" y="100.6" width="0.75" height="0.75" fill="#8c8c8c"/>
<rect x="85.6" y="110.4" width="0.75" height="0.75" fill="#8c8c8c"/>
<rect x="68.6" y="104.8" width="0.75" height="0.75" fill="#8c8c8c"/>
<rect x="68.2" y="107.9" width="0.75" height="0.75" fill="#8c8c8c"/>
<rect x="74.1" y="104.8" width="0.75" height="0.75" fill="#8c8c8c"/>
<rect x="82.1" y="108.0" width="0.75" height="0.75" fill="#8c8c8c"/>
<rect x="77.8" y="105.9" width="0.75" height="0.75" fill="#8c8c8c"/>
<rect x="75.8" y="106.3" width="0.75" height="0.75" fill="#8c8c8c"/>
<rect x="70.8" y="106.0" width="0.75" height="0.75" fill="#8c8c8c"/>
<rect x="67.8" y="104.5" width="0.75" height="0.75" fill="#8c8c8c"/>
<rect x="95.4" y="106.0" width="0.75" height="0.75" fill="#8c8c8c"/>
<rect x="70.3" y="106.7" width="0.75" height="0.75" fill="#8c8c8c"/>
<rect x="74.4" y="101.2" width="0.75" height="0.75" fill="#8c8c8c"/>
<rect x="74.5" y="108.5" width="0.75" height="0.75" fill="#8c8c8c"/>
<rect x="85.6" y="105.4" width="0.75" height="0.75" fill="#8c8c8c"/>
<rect x="73.6" y="102.2" width="0.75" height="0.75" fill="#8c8c8c"/>
<rect x="93.2" y="106.6" width="0.75" height="0.75" fill="#8c8c8c"/>
<rect x="75.5" y="100.6" width="0.75" height="0.75" fill="#8c8c8c"/>
<rect x="74.2" y="110.9" width="0.75" height="0.75" fill="#8c8c8c"/>
<rect x="70.9" y="105.5" width="0.75" height="0.75" fill="#8c8c8c"/>
<rect x="83.7" y="105.2" width="0.75" height="0.75" fill="#8c8c8c"/>
<rect x="79.1" y="101.2" width="0.75" height="0.75" fill="#8c8c8c"/>
<rect x="74.0" y="110.4" width="0.75" height="0.75" fill="#8c8c8c"/>
<rect x="74.5" y="108.8" width="0.75" height="0.75" fill="#8c8c8c"/>
<rect x="68.3" y="105.0" width="0.75" height="0.75" fill="#8c8c8c"/>
<rect x="84.0" y="109.6" width="0.75" height="0.75" fill="#8c8c8c"/>
<rect x="71.5" y="107.9" width="0.75" height="0.75" fill="#8c8c8c"/>
<rect x="85.3" y="103.0" width="0.75" height="0.75" fill="#8c8c8c"/>
<rect x="86.0" y="102.5" width="0.75" height="0.75" fill="#8c8c8c"/>
<rect x="73.6" y="105.7" width="0.75" height="0.75" fill="#8c8c8c"/>
<rect x="66.5" y="105.6" width="0.75" height="0.75" fill="#8c8c8c"/>
<rect x="73.9" y="101.5" width="0.75" height="0.75" fill="#8c8c8c"/>
<rect x="77.3" y="108.7" width="0.75" height="0.75" fill="#8c8c8c"/>
<rect x="78.0" y="110.1" width="0.75" height="0.75" fill="#8c8c8c"/>
<rect x="72.6" y="101.9" width="0.75" height="0.75" fill="#8c8c8c"/>
<rect x="94.0" y="107.0" width="0.75" height="0.75" fill="#8c8c8c"/>
<rect x="90.0" y="102.9" width="0.75" height="0.75" fill="#8c8c8c"/>
<rect x="89.4" y="106.8" width="0.75" height="0.75" fill="#8c8c8c"/>
<rect x="88.1" y="105.9" width="0.75" height="0.75" fill="#8c8c8c"/>
<rect x="92.0" y="103.6" width="0.75" height="0.75" fill="#8c8c8c"/>
<rect x="74.1" y="101.4" width="0.75" height="0.75" fill="#8c8c8c"/>
<rect x="91.5" y="103.3" width="0.75" height="0.75" fill="#8c8c8c"/>
<rect x="72.5" y="102.7" width="0.75" height="0.75" fill="#8c8c8c"/>
<rect x="77.6" y="101.5" width="0.75" height="0.75" fill="#8c8c8c"/>
<rect x="78.6" y="103.3" width="0.75" height="0.75" fill="#8c8c8c"/>
<rect x="76.4" y="102.4" width="0.75" height="0.75" fill="#8c8c8c"/>
<rect x="81.9" y="103.9" width="0.75" height="0.75" fill="#8c8c8c"/>
<rect x="82.7" y="106.8" width="0.75" height="0.75" fill="#8c8c8c"/>
<rect x="83.7" y="100.2" width="0.75" height="0.75" fill="#8c8c8c"/>
<rect x="76.3" y="102.8" width="0.75" height="0.75" fill="#8c8c8c"/>
<rect x="87.4" y="101.1" width="0.75" height="0.75" fill="#8c8c8c"/>
<rect x="74.3" y="104.7" width="0.75" height="0.75" fill="#8c8c8c"/>
<rect x="78.3" y="109.4" width="0.75" height="0.75" fill="#8c8c8c"/>
<rect x="77.3" y="109.3" width="0.75" height="0.75" fill="#8c8c8c"/>
<rect x="72.2" y="101.4" width="0.75" height="0.75" fill="#8c8c8c"/>
<rect x="92.3" y="107.3" width="0.75" height="0.75" fill="#8c8c8c"/>
<rect x="86.6" y="106.3" width="0.75" height="0.75" fill="#8c8c8c"/>
<rect x="85.8" y="101.7" width="0.75" height="0.75" fill="#8c8c8c"/>
<rect x="90.4" y="103.9" width="0.75" height="0.75" fill="#8c8c8c"/>
<rect x="90.9" y="106.1" width="0.75" height="0.75" fill="#8c8c8c"/>
<rect x="69.2" y="102.7" width="0.75" height="0.75" fill="#8c8c8c"/>
<rect x="91.9" y="105.3" width="0.75" height="0.75" fill="#8c8c8c"/>
<rect x="77.4" y="106.8" width="0.75" height="0.75" fill="#8c8c8c"/>
<rect x="77.2" y="103.7" width="0.75" height="0.75" fill="#8c8c8c"/>
<rect x="82.6" y="106.4" width="0.75" height="0.75" fill="#8c8c8c"/>
<rect x="94.1" y="105.9" width="0.75" height="0.75" fill="#8c8c8c"/>
<rect x="92.3" y="109.8" width="0.75" height="0.75" fill="#8c8c8c"/>
<rect x="93.6" y="108.7" width="0.75" height="0.75" fill="#8c8c8c"/>
<rect x="82.9" y="106.4" width="0.75" height="0.75" fill="#8c8c8c"/>
<rect x="80.1" y="103.0" width="0.75" height="0.75" fill="#8c8c8c"/>
<rect x="80.8" y="103.3" width="0.75" height="0.75" fill="#8c8c8c"/>
<rect x="94.2" y="107.4" width="0.75" height="0.75" fill="#8c8c8c"/>
<rect x="78.3" y="100.5" width="0.75" height="0.75" fill="#8c8c8c"/>
<rect x="80.9" y="104.1" width="0.75" height="0.75" fill="#8c8c8c"/>
<rect x="72.6" y="102.2" width="0.75" height="0.75" fill="#8c8c8c"/>
<rect x="67.2" y="107.2" width="0.75" height="0.75" fill="#8c8c8c"/>
<rect x="81.1" y="111.6" width="0.75" height="0.75" fill="#8c8c8c"/>
<rect x="81.2" y="105.2" width="0.75" height="0.75" fill="#8c8c8c"/>
<rect x="93.7" y="106.2" width="0.75" height="0.75" fill="#8c8c8c"/>
<rect x="83.3" y="104.3" width="0.75" height="0.75" fill="#8c8c8c"/>
<rect x="76.6" y="110.5" width="0.75" height="0.75" fill="#8c8c8c"/>
<rect x="88.6" y="110.5" width="0.75" height="0.75" fill="#8c8c8c"/>
<rect x="77.8" y="105.9" width="0.75" height="0.75" fill="#8c8c8c"/>
<rect x="73.7" y="109.1" width="0.75" height="0.75" fill="#8c8c8c"/>
<rect x="69.9" y="107.6" width="0.75" height="0.75" fill="#8c8c8c"/>
<rect x="89.8" y="109.9" width="0.75" height="0.75" fill="#8c8c8c"/>
<rect x="73.5" y="109.4" width="0.75" height="0.75" fill="#8c8c8c"/>
<rect x="74.7" y="103.0" width="0.75" height="0.75" fill="#8c8c8c"/>
<rect x="71.3" y="109.2" width="0.75" height="0.75" fill="#8c8c8c"/>
<rect x="94.2" y="104.0" width="0.75" height="0.75" fill="#8c8c8c"/>
<rect x="74.0" y="104.5" width="0.75" height="0.75" fill="#8c8c8c"/>
<rect x="95.4" y="108.0" width="0.75" height="0.75" fill="#8c8c8c"/>
<rect x="77.5" y="100.7" width="0.75" height="0.75" fill="#8c8c8c"/>
<rect x="75.7" y="109.8" width="0.75" height="0.75" fill="#8c8c8c"/>
<rect x="95.2" y="105.0" width="0.75" height="0.75" fill="#8c8c8c"/>
<rect x="74.7" y="103.9" width="0.75" height="0.75" fill="#8c8c8c"/>
<rect x="68.6" y="108.2" width="0.75" height="0.75" fill="#8c8c8c"/>
<rect x="72.5" y="109.2" width="0.75" height="0.75" fill="#8c8c8c"/>
<rect x="69.9" y="102.5" width="0.75" height="0.75" fill="#8c8c8c"/>
<rect x="84.4" y="102.9" width="0.75" height="0.75" fill="#8c8c8c"/>
<rect x="89.3" y="105.8" width="0.75" height="0.75" fill="#8c8c8c"/>
<rect x="71.2" y="107.9" width="0.75" height="0.75" fill="#8c8c8c"/>
<rect x="87.3" y="100.7" width="0.75" height="0.75" fill="#8c8c8c"/>
<rect x="94.9" y="107.2" width="0.75" height="0.75" fill="#8c8c8c"/>
<rect x="86.9" y="100.7" width="0.75" height="0.75" fill="#8c8c8c"/>
<rect x="74.3" y="104.5" width="0.75" height="0.75" fill="#8c8c8c"/>
<rect x="89.6" y="101.5" width="0.75" height="0.75" fill="#8c8c8c"/>
<rect x="75.7" y="100.6" width="0.75" height="0.75" fill="#8c8c8c"/>
<rect x="79.0" y="107.2" width="0.75" height="0.75" fill="#8c8c8c"/>
<rect x="68.7" y="104.1" width="0.75" height="0.75" fill="#8c8c8c"/>
<rect x="85.5" y="110.6" width="0.75" height="0.75" fill="#8c8c8c"/>
<rect x="88.2" y="104.6" width="0.75" height="0.75" fill="#8c8c8c"/>
<rect x="71.7" y="102.8" width="0.75" height="0.75" fill="#8c8c8c"/>
<rect x="74.7" y="106.4" width="0.75" height="0.75" fill="#8c8c8c"/>
<rect x="81.1" y="110.9" width="0.75" height="0.75" fill="#8c8c8c"/>
<rect x="84.2" y="101.9" width="0.75" height="0.75" fill="#8c8c8c"/>
<rect x="93.1" y="108.6" width="0.75" height="0.75" fill="#8c8c8c"/>
<rect x="82.5" y="103.0" width="0.75" height="0.75" fill="#8c8c8c"/>
<rect x="68.8" y="103.1" width="0.75" height="0.75" fill="#8c8c8c"/>
<rect x="89.8" y="103.0" width="0.75" height="0.75" fill="#8c8c8c"/>
<rect x="69.9" y="106.5" width="0.75" height="0.75" fill="#8c8c8c"/>
<rect x="84.0" y="108.2" width="0.75" height="0.75" fill="#8c8c8c"/>
<rect x="86.9" y="110.3" width="0.75" height="0.75" fill="#8c8c8c"/>
<rect x="74.1" y="109.2" width="0.75" height="0.75" fill="#8c8c8c"/>
<rect x="72.5" y="108.2" width="0.75" height="0.75" fill="#8c8c8c"/>
<rect x="83.4" y="106.8" width="0.75" height="0.75" fill="#8c8c8c"/>
<rect x="90.8" y="105.7" width="0.75" height="0.75" fill="#8c8c8c"/>
<rect x="91.0" y="108.7" width="0.75" height="0.75" fill="#8c8c8c"/>
<rect x="82.9" y="103.5" width="0.75" height="0.75" fill="#8c8c8c"/>
<rect x="74.2" y="103.8" width="0.75" height="0.75" fill="#8c8c8c"/>
<rect x="79.3" y="105.7" width="0.75" height="0.75" fill="#8c8c8c"/>
<rect x="96.3" y="107.0" width="0.75" height="0.75" fill="#8c8c8c"/>
<rect x="88.6" y="102.7" width="0.75" height="0.75" fill="#8c8c8c"/>
<rect x="74.4" y="104.6" width="0.75" height="0.75" fill="#8c8c8c"/>
<rect x="83.3" y="102.0" width="0.75" height="0.75" fill="#8c8c8c"/>
<rect x="94.1" y="104.1" width="0.75" height="0.75" fill="#8c8c8c"/>
<rect x="87.8" y="100.6" width="0.75" height="0.75" fill="#8c8c8c"/>
<rect x="81.4" y="106.9" width="0.75" height="0.75" fill="#8c8c8c"/>
<rect x="83.5" y="108.2" width="0.75" height="0.75" fill="#8c8c8c"/>
<rect x="84.5" y="106.5" width="0.75" height="0.75" fill="#8c8c8c"/>
<rect x="68.2" y="103.9" width="0.75" height="0.75" fill="#8c8c8c"/>
<rect x="67.2" y="107.3" width="0.75" height="0.75" fill="#8c8c8c"/>
<rect x="84.8" y="105.0" width="0.75" height="0.75" fill="#8c8c8c"/>
<rect x="73.7" y="103.7" width="0.75" height="0.75" fill="#8c8c8c"/>
<rect x="92.4" y="109.7" width="0.75" height="0.75" fill="#8c8c8c"/>
<rect x="81.0" y="110.2" width="0.75" height="0.75" fill="#8c8c8c"/>
<rect x="72.1" y="101.4" width="0.75" height="0.75" fill="#8c8c8c"/>
<rect x="76.9" y="102.6" width="0.75" height="0.75" fill="#8c8c8c"/>
<rect x="75.7" y="106.5" width="0.75" height="0.75" fill="#8c8c8c"/>
<rect x="96.3" y="104.6" width="0.75" height="0.75" fill="#8c8c8c"/>
<rect x="82.0" y="106.9" width="0.75" height="0.75" fill="#8c8c8c"/>
<rect x="81.2" y="109.3" width="0.75" height="0.75" fill="#8c8c8c"/>
<rect x="93.4" y="102.6" width="0.75" height="0.75" fill="#8c8c8c"/>
<rect x="83.2" y="104.7" width="0.75" height="0.75" fill="#8c8c8c"/>
<rect x="84.4" y="101.0" width="0.75" height="0.75" fill="#8c8c8c"/>
<rect x="72.4" y="101.2" width="0.75" height="0.75" fill="#8c8c8c"/>
<rect x="86.9" y="106.6" width="0.75" height="0.75" fill="#8c8c8c"/>
<rect x="82.0" y="100.1" width="0.75" height="0.75" fill="#8c8c8c"/>
<rect x="77.8" y="102.9" width="0.75" height="0.75" fill="#8c8c8c"/>
<rect x="70.4" y="103.0" width="0.75" height="0.75" fill="#8c8c8c"/>
<rect x="88.3" y="107.9" width="0.75" height="0.75" fill="#8c8c8c"/>
<rect x="81.3" y="107.9" width="0.75" height="0.75" fill="#8c8c8c"/>
<rect x="75.3" y="106.1" width="0.75" height="0.75" fill="#8c8c8c"/>
<rect x="81.9" y="108.0" width="0.75" height="0.75" fill="#8c8c8c"/>
<rect x="80.7" y="105.2" width="0.75" height="0.75" fill="#8c8c8c"/>
<rect x="80.1" y="103.3" width="0.75" height="0.75" fill="#8c8c8c"/>
<rect x="95.8" y="107.1" width="0.75" height="0.75" fill="#8c8c8c"/>
<rect x="84.2" y="111.4" width="0.75" height="0.75" fill="#8c8c8c"/>
<rect x="91.1" y="101.7" width="0.75" height="0.75" fill="#8c8c8c"/>
<rect x="88.0" y="108.8" width="0.75" height="0.75" fill="#8c8c8c"/>
<polygon points="93.56,105.80 95.38,106.45 94.83,107.06 93.79,107.60 92.66,108.08 91.52,108.52 91.23,109.24 89.38,109.43 88.15,109.88 86.15,109.78 84.70,110.02 83.06,110.00 81.50,110.58 79.79,110.40 78.35,109.96 76.19,110.33 75.27,109.62 73.71,109.39 72.88,108.85 71.61,108.48 69.55,108.24 69.85,107.51 69.69,106.92 68.63,106.40 68.93,105.80 67.68,105.16 69.82,104.69 68.45,103.89 71.14,103.68 70.45,102.80 72.03,102.45 74.00,102.34 75.03,101.83 76.72,101.71 78.28,101.55 79.89,101.48 81.50,101.31 83.35,100.84 85.17,100.96 86.86,101.22 87.53,102.10 89.11,102.29 91.35,102.32 90.99,103.22 93.22,103.41 93.06,104.11 95.14,104.51 93.27,105.25" fill="#cfcfcf" stroke="#6a6a6a" stroke-width="0.7"/>
<polygon points="91.70,105.80 90.94,106.24 90.41,106.64 89.83,107.02 90.36,107.61 89.27,107.91 88.07,108.12 87.38,108.51 86.68,108.97 85.07,108.85 84.05,109.17 82.70,109.03 81.50,109.08 80.18,109.36 78.90,109.24 77.94,108.84 76.93,108.60 75.93,108.37 74.49,108.28 73.77,107.90 73.34,107.47 72.89,107.06 71.92,106.71 71.53,106.26 71.29,105.80 71.71,105.34 72.50,104.95 73.08,104.57 72.76,104.01 73.87,103.73 74.38,103.28 75.96,103.25 76.40,102.67 77.86,102.69 78.85,102.30 80.16,102.19 81.50,102.35 82.68,102.63 84.18,102.26 85.22,102.62 86.65,102.65 87.23,103.16 88.07,103.48 89.62,103.60 89.78,104.11 90.05,104.55 90.74,104.92 91.30,105.34" fill="#bdbdbd" stroke="#6a6a6a" stroke-width="0.6"/>
<polygon points="87.61,105.80 87.96,106.10 87.74,106.39 87.52,106.68 86.87,106.90 86.79,107.24 86.27,107.49 85.63,107.70 84.68,107.75 84.05,107.98 83.16,107.99 82.37,108.15 81.50,107.98 80.61,108.18 79.73,108.14 79.01,107.92 78.24,107.80 77.53,107.63 76.88,107.43 76.64,107.12 75.56,107.01 75.69,106.65 75.46,106.37 75.36,106.09 75.19,105.80 74.81,105.49 75.58,105.24 75.79,104.96 75.74,104.62 76.53,104.45 77.17,104.27 77.50,103.95 78.22,103.79 79.01,103.67 79.78,103.52 80.69,103.63 81.50,103.40 82.37,103.46 83.09,103.70 83.87,103.77 84.75,103.81 85.46,103.98 85.97,104.22 86.42,104.46 87.07,104.66 87.24,104.96 87.85,105.20 88.22,105.49" fill="#b0b0b0" stroke="#6a6a6a" stroke-width="0.6"/>
<polygon points="84.65,105.80 84.74,105.95 84.71,106.10 84.41,106.23 84.40,106.39 84.18,106.53 83.78,106.61 83.46,106.71 83.17,106.83 82.75,106.86 82.33,106.90 81.94,106.99 81.50,106.98 81.08,106.92 80.68,106.88 80.27,106.85 79.88,106.79 79.44,106.75 79.14,106.64 78.83,106.53 78.61,106.39 78.40,106.25 78.49,106.09 78.27,105.95 78.12,105.80 78.15,105.64 78.43,105.51 78.52,105.36 78.65,105.22 78.95,105.11 79.20,104.98 79.60,104.92 79.88,104.81 80.26,104.74 80.70,104.74 81.09,104.70 81.50,104.60 81.93,104.63 82.37,104.65 82.76,104.72 83.17,104.78 83.55,104.86 83.88,104.96 83.97,105.13 84.35,105.22 84.44,105.37 84.69,105.50 84.66,105.65" fill="#a0a0a0" stroke="#6a6a6a" stroke-width="0.6"/>
<ellipse cx="81.5" cy="105.8" rx="5.85" ry="0.55" fill="#fff"/>
<ellipse cx="61.6" cy="105.3" rx="6.40" ry="6.20" fill="#dedede" filter="url(#blur1)"/>
<rect x="55.4" y="103.7" width="0.75" height="0.75" fill="#8c8c8c"/>
<rect x="59.2" y="103.1" width="0.75" height="0.75" fill="#8c8c8c"/>
<rect x="57.2" y="104.8" width="0.75" height="0.75" fill="#8c8c8c"/>
<rect x="65.0" y="104.2" width="0.75" height="0.75" fill="#8c8c8c"/>
<rect x="59.8" y="110.2" width="0.75" height="0.75" fill="#8c8c8c"/>
<rect x="65.4" y="108.7" width="0.75" height="0.75" fill="#8c8c8c"/>
<rect x="66.2" y="104.0" width="0.75" height="0.75" fill="#8c8c8c"/>
<rect x="61.1" y="109.7" width="0.75" height="0.75" fill="#8c8c8c"/>
<rect x="59.1" y="104.8" width="0.75" height="0.75" fill="#8c8c8c"/>
<rect x="63.3" y="107.0" width="0.75" height="0.75" fill="#8c8c8c"/>
<rect x="60.4" y="109.3" width="0.75" height="0.75" fill="#8c8c8c"/>
<rect x="60.8" y="108.4" width="0.75" height="0.75" fill="#8c8c8c"/>
<rect x="65.8" y="107.8" width="0.75" height="0.75" fill="#8c8c8c"/>
<rect x="64.4" y="101.0" width="0.75" height="0.75" fill="#8c8c8c"/>
<rect x="56.7" y="103.1" width="0.75" height="0.75" fill="#8c8c8c"/>
<rect x="63.3" y="110.5" width="0.75" height="0.75" fill="#8c8c8c"/>
<rect x="56.8" y="106.5" width="0.75" height="0.75" fill="#8c8c8c"/>
<rect x="58.1" y="102.4" width="0.75" height="0.75" fill="#8c8c8c"/>
<rect x="60.4" y="108.3" width="0.75" height="0.75" fill="#8c8c8c"/>
<rect x="62.5" y="109.9" width="0.75" height="0.75" fill="#8c8c8c"/>
<rect x="57.8" y="108.6" width="0.75" height="0.75" fill="#8c8c8c"/>
<rect x="65.6" y="105.6" width="0.75" height="0.75" fill="#8c8c8c"/>
<rect x="63.7" y="102.9" width="0.75" height="0.75" fill="#8c8c8c"/>
<rect x="57.2" y="103.7" width="0.75" height="0.75" fill="#8c8c8c"/>
<rect x="60.2" y="111.6" width="0.75" height="0.75" fill="#8c8c8c"/>
<rect x="59.9" y="110.8" width="0.75" height="0.75" fill="#8c8c8c"/>
<rect x="62.5" y="106.7" width="0.75" height="0.75" fill="#8c8c8c"/>
<rect x="64.7" y="102.2" width="0.75" height="0.75" fill="#8c8c8c"/>
<rect x="65.5" y="106.8" width="0.75" height="0.75" fill="#8c8c8c"/>
<rect x="56.2" y="107.4" width="0.75" height="0.75" fill="#8c8c8c"/>
<rect x="64.1" y="107.3" width="0.75" height="0.75" fill="#8c8c8c"/>
<rect x="67.2" y="103.9" width="0.75" height="0.75" fill="#8c8c8c"/>
<rect x="63.8" y="108.4" width="0.75" height="0.75" fill="#8c8c8c"/>
<rect x="58.3" y="109.6" width="0.75" height="0.75" fill="#8c8c8c"/>
<rect x="57.0" y="101.3" width="0.75" height="0.75" fill="#8c8c8c"/>
<rect x="63.7" y="101.1" width="0.75" height="0.75" fill="#8c8c8c"/>
<rect x="61.2" y="99.7" width="0.75" height="0.75" fill="#8c8c8c"/>
<rect x="61.9" y="100.8" width="0.75" height="0.75" fill="#8c8c8c"/>
<rect x="62.8" y="100.0" width="0.75" height="0.75" fill="#8c8c8c"/>
<rect x="63.7" y="104.1" width="0.75" height="0.75" fill="#8c8c8c"/>
<rect x="61.9" y="105.0" width="0.75" height="0.75" fill="#8c8c8c"/>
<rect x="62.1" y="100.3" width="0.75" height="0.75" fill="#8c8c8c"/>
<rect x="55.0" y="105.4" width="0.75" height="0.75" fill="#8c8c8c"/>
<rect x="57.7" y="103.5" width="0.75" height="0.75" fill="#8c8c8c"/>
<rect x="62.9" y="99.4" width="0.75" height="0.75" fill="#8c8c8c"/>
<rect x="58.4" y="102.8" width="0.75" height="0.75" fill="#8c8c8c"/>
<rect x="57.3" y="106.6" width="0.75" height="0.75" fill="#8c8c8c"/>
<rect x="61.0" y="101.8" width="0.75" height="0.75" fill="#8c8c8c"/>
<rect x="57.7" y="108.4" width="0.75" height="0.75" fill="#8c8c8c"/>
<rect x="58.7" y="107.8" width="0.75" height="0.75" fill="#8c8c8c"/>
<rect x="63.0" y="99.5" width="0.75" height="0.75" fill="#8c8c8c"/>
<rect x="57.1" y="105.3" width="0.75" height="0.75" fill="#8c8c8c"/>
<rect x="63.1" y="108.6" width="0.75" height="0.75" fill="#8c8c8c"/>
<rect x="64.7" y="109.2" width="0.75" height="0.75" fill="#8c8c8c"/>
<rect x="59.9" y="104.4" width="0.75" height="0.75" fill="#8c8c8c"/>
<rect x="65.0" y="103.5" width="0.75" height="0.75" fill="#8c8c8c"/>
<rect x="65.0" y="100.3" width="0.75" height="0.75" fill="#8c8c8c"/>
<rect x="64.5" y="104.5" width="0.75" height="0.75" fill="#8c8c8c"/>
<rect x="55.9" y="108.1" width="0.75" height="0.75" fill="#8c8c8c"/>
<rect x="63.1" y="105.4" width="0.75" height="0.75" fill="#8c8c8c"/>
<rect x="57.2" y="103.5" width="0.75" height="0.75" fill="#8c8c8c"/>
<rect x="66.8" y="102.6" width="0.75" height="0.75" fill="#8c8c8c"/>
<rect x="55.1" y="103.7" width="0.75" height="0.75" fill="#8c8c8c"/>
<rect x="56.8" y="104.8" width="0.75" height="0.75" fill="#8c8c8c"/>
<rect x="59.9" y="101.6" width="0.75" height="0.75" fill="#8c8c8c"/>
<rect x="58.4" y="109.2" width="0.75" height="0.75" fill="#8c8c8c"/>
<rect x="57.7" y="110.4" width="0.75" height="0.75" fill="#8c8c8c"/>
<rect x="59.4" y="101.1" width="0.75" height="0.75" fill="#8c8c8c"/>
<rect x="64.9" y="107.6" width="0.75" height="0.75" fill="#8c8c8c"/>
<rect x="57.5" y="108.1" width="0.75" height="0.75" fill="#8c8c8c"/>
<rect x="56.0" y="102.6" width="0.75" height="0.75" fill="#8c8c8c"/>
<rect x="66.2" y="104.3" width="0.75" height="0.75" fill="#8c8c8c"/>
<rect x="56.7" y="107.2" width="0.75" height="0.75" fill="#8c8c8c"/>
<rect x="65.5" y="105.2" width="0.75" height="0.75" fill="#8c8c8c"/>
<rect x="55.6" y="104.2" width="0.75" height="0.75" fill="#8c8c8c"/>
<rect x="63.4" y="108.5" width="0.75" height="0.75" fill="#8c8c8c"/>
<rect x="67.7" y="104.5" width="0.75" height="0.75" fill="#8c8c8c"/>
<rect x="59.4" y="105.1" width="0.75" height="0.75" fill="#8c8c8c"/>
<rect x="66.0" y="102.0" width="0.75" height="0.75" fill="#8c8c8c"/>
<rect x="64.5" y="99.4" width="0.75" height="0.75" fill="#8c8c8c"/>
<rect x="64.9" y="102.6" width="0.75" height="0.75" fill="#8c8c8c"/>
<rect x="63.6" y="108.2" width="0.75" height="0.75" fill="#8c8c8c"/>
<rect x="56.8" y="105.0" width="0.75" height="0.75" fill="#8c8c8c"/>
<rect x="62.7" y="107.9" width="0.75" height="0.75" fill="#8c8c8c"/>
<rect x="58.0" y="101.6" width="0.75" height="0.75" fill="#8c8c8c"/>
<rect x="57.6" y="110.5" width="0.75" height="0.75" fill="#8c8c8c"/>
<rect x="60.7" y="104.3" width="0.75" height="0.75" fill="#8c8c8c"/>
<rect x="56.5" y="108.4" width="0.75" height="0.75" fill="#8c8c8c"/>
<rect x="59.7" y="110.4" width="0.75" height="0.75" fill="#8c8c8c"/>
<rect x="65.3" y="105.4" width="0.75" height="0.75" fill="#8c8c8c"/>
<rect x="64.4" y="101.1" width="0.75" height="0.75" fill="#8c8c8c"/>
<rect x="60.1" y="102.8" width="0.75" height="0.75" fill="#8c8c8c"/>
<rect x="56.6" y="105.4" width="0.75" height="0.75" fill="#8c8c8c"/>
<rect x="61.1" y="110.5" width="0.75" height="0.75" fill="#8c8c8c"/>
<rect x="55.0" y="104.0" width="0.75" height="0.75" fill="#8c8c8c"/>
<rect x="57.8" y="103.4" width="0.75" height="0.75" fill="#8c8c8c"/>
<rect x="63.5" y="107.1" width="0.75" height="0.75" fill="#8c8c8c"/>
<rect x="61.7" y="103.2" width="0.75" height="0.75" fill="#8c8c8c"/>
<rect x="63.8" y="106.9" width="0.75" height="0.75" fill="#8c8c8c"/>
<rect x="55.6" y="104.5" width="0.75" height="0.75" fill="#8c8c8c"/>
<rect x="57.0" y="101.5" width="0.75" height="0.75" fill="#8c8c8c"/>
<rect x="62.3" y="105.6" width="0.75" height="0.75" fill="#8c8c8c"/>
<rect x="62.1" y="101.6" width="0.75" height="0.75" fill="#8c8c8c"/>
<rect x="60.7" y="101.5" width="0.75" height="0.75" fill="#8c8c8c"/>
<rect x="63.3" y="108.2" width="0.75" height="0.75" fill="#8c8c8c"/>
<rect x="66.8" y="108.9" width="0.75" height="0.75" fill="#8c8c8c"/>
<rect x="58.1" y="103.4" width="0.75" height="0.75" fill="#8c8c8c"/>
<rect x="57.6" y="106.6" width="0.75" height="0.75" fill="#8c8c8c"/>
<rect x="67.6" y="107.4" width="0.75" height="0.75" fill="#8c8c8c"/>
<rect x="55.9" y="102.1" width="0.75" height="0.75" fill="#8c8c8c"/>
<rect x="56.7" y="107.2" width="0.75" height="0.75" fill="#8c8c8c"/>
<rect x="61.6" y="106.7" width="0.75" height="0.75" fill="#8c8c8c"/>
<rect x="67.2" y="102.8" width="0.75" height="0.75" fill="#8c8c8c"/>
<rect x="59.1" y="111.0" width="0.75" height="0.75" fill="#8c8c8c"/>
<rect x="63.1" y="102.0" width="0.75" height="0.75" fill="#8c8c8c"/>
<rect x="56.3" y="101.5" width="0.75" height="0.75" fill="#8c8c8c"/>
<rect x="55.1" y="105.5" width="0.75" height="0.75" fill="#8c8c8c"/>
<rect x="61.8" y="109.4" width="0.75" height="0.75" fill="#8c8c8c"/>
<rect x="61.0" y="102.3" width="0.75" height="0.75" fill="#8c8c8c"/>
<rect x="59.3" y="111.0" width="0.75" height="0.75" fill="#8c8c8c"/>
<polygon points="66.59,105.30 66.79,105.96 66.23,106.49 65.98,107.04 65.83,107.65 65.37,108.08 65.40,108.95 64.54,108.98 64.12,109.50 63.40,109.46 62.90,109.96 62.24,109.97 61.60,110.03 60.99,109.73 60.38,109.66 59.59,109.97 59.16,109.36 58.68,108.95 58.24,108.53 57.77,108.12 57.45,107.60 57.32,107.00 56.64,106.57 56.77,105.91 56.88,105.30 56.48,104.65 57.09,104.14 57.15,103.53 57.04,102.77 57.87,102.55 58.10,101.94 58.39,101.29 58.98,100.94 59.79,101.11 60.34,100.77 60.92,100.37 61.60,100.59 62.30,100.19 62.83,100.88 63.65,100.55 64.10,101.14 64.51,101.66 65.11,101.93 65.33,102.55 66.07,102.82 66.04,103.53 66.74,103.98 66.63,104.66" fill="#777" stroke="#333" stroke-width="0.7"/>
<polygon points="64.88,105.30 64.80,105.70 64.86,106.14 64.57,106.48 64.62,106.98 64.12,107.15 63.96,107.57 63.64,107.85 63.22,107.99 62.92,108.36 62.45,108.35 62.04,108.54 61.60,108.53 61.18,108.40 60.75,108.35 60.39,108.10 60.00,107.96 59.48,107.95 59.30,107.51 58.90,107.29 58.86,106.82 58.50,106.53 58.44,106.11 58.30,105.72 58.35,105.30 58.48,104.91 58.46,104.49 58.63,104.12 58.85,103.78 58.88,103.30 59.31,103.10 59.60,102.79 59.85,102.39 60.28,102.24 60.70,102.06 61.15,101.98 61.60,102.25 62.02,102.22 62.41,102.39 62.90,102.28 63.30,102.47 63.59,102.81 63.93,103.06 64.30,103.31 64.56,103.66 64.58,104.11 64.96,104.44 64.84,104.89" fill="#8a8a8a" stroke="#333" stroke-width="0.6"/>
<polygon points="63.29,105.30 63.20,105.50 63.15,105.70 63.20,105.94 63.07,106.12 62.95,106.29 62.73,106.38 62.57,106.51 62.41,106.64 62.22,106.74 62.02,106.82 61.82,106.87 61.60,106.83 61.39,106.86 61.16,106.87 60.98,106.73 60.74,106.73 60.58,106.58 60.40,106.45 60.31,106.25 60.17,106.10 60.03,105.92 60.01,105.71 60.02,105.50 59.88,105.30 59.90,105.09 60.02,104.89 60.13,104.71 60.11,104.47 60.26,104.32 60.47,104.22 60.61,104.06 60.80,103.96 60.94,103.78 61.18,103.80 61.37,103.65 61.60,103.66 61.81,103.77 62.04,103.73 62.23,103.84 62.45,103.88 62.65,103.99 62.75,104.19 62.87,104.36 63.10,104.47 63.13,104.69 63.27,104.87 63.28,105.09" fill="#9a9a9a" stroke="#333" stroke-width="0.6"/>
<circle cx="61.6" cy="105.3" r="0.9" fill="#fff"/>
<rect x="48" y="63.3" width="20.4" height="36.3" fill="none" stroke="#555" stroke-width="0.75"/>
<polyline points="113.9,100.2 113.9,112.3 67.8,112.3 67.8,99.6" fill="none" stroke="#555" stroke-width="0.8"/>
<line x1="48.00" y1="99.60" x2="106.50" y2="99.60" stroke="#555" stroke-width="0.75" />
<line x1="106.50" y1="99.60" x2="113.90" y2="99.60" stroke="#ccc" stroke-width="0.75" />
<text x="48.80" y="52.80" font-size="6.6" text-anchor="start" font-weight="normal" font-style="normal" fill="#000" >CD11b+ CD19−</text>
<text x="70.80" y="60.70" font-size="6.6" text-anchor="middle" font-weight="normal" font-style="normal" fill="#000" >60.7</text>
<text x="114.50" y="90.60" font-size="6.6" text-anchor="middle" font-weight="normal" font-style="normal" fill="#000" >CD19+</text>
<text x="114.50" y="97.70" font-size="6.6" text-anchor="middle" font-weight="normal" font-style="normal" fill="#000" >18.2</text>
<rect x="215.1" y="99.8" width="0.7" height="0.7" fill="#999"/>
<rect x="235.1" y="105.1" width="0.7" height="0.7" fill="#999"/>
<rect x="212.3" y="105.1" width="0.7" height="0.7" fill="#999"/>
<rect x="226.2" y="102.1" width="0.7" height="0.7" fill="#999"/>
<rect x="222.2" y="101.8" width="0.7" height="0.7" fill="#999"/>
<rect x="221.2" y="108.0" width="0.7" height="0.7" fill="#999"/>
<rect x="234.6" y="101.9" width="0.7" height="0.7" fill="#999"/>
<rect x="215.4" y="102.2" width="0.7" height="0.7" fill="#999"/>
<rect x="229.9" y="104.4" width="0.7" height="0.7" fill="#999"/>
<rect x="216.9" y="104.4" width="0.7" height="0.7" fill="#999"/>
<rect x="220.2" y="105.0" width="0.7" height="0.7" fill="#999"/>
<rect x="222.5" y="106.0" width="0.7" height="0.7" fill="#999"/>
<rect x="212.3" y="102.6" width="0.7" height="0.7" fill="#999"/>
<rect x="229.7" y="101.5" width="0.7" height="0.7" fill="#999"/>
<rect x="216.3" y="110.9" width="0.7" height="0.7" fill="#999"/>
<rect x="229.3" y="107.0" width="0.7" height="0.7" fill="#999"/>
<rect x="213.7" y="109.4" width="0.7" height="0.7" fill="#999"/>
<rect x="228.5" y="108.2" width="0.7" height="0.7" fill="#999"/>
<rect x="213.9" y="100.4" width="0.7" height="0.7" fill="#999"/>
<rect x="227.6" y="105.2" width="0.7" height="0.7" fill="#999"/>
<rect x="218.1" y="105.1" width="0.7" height="0.7" fill="#999"/>
<rect x="228.8" y="104.2" width="0.7" height="0.7" fill="#999"/>
<rect x="226.6" y="108.9" width="0.7" height="0.7" fill="#999"/>
<rect x="217.8" y="103.6" width="0.7" height="0.7" fill="#999"/>
<rect x="217.4" y="107.0" width="0.7" height="0.7" fill="#999"/>
<rect x="218.4" y="104.8" width="0.7" height="0.7" fill="#999"/>
<rect x="223.2" y="103.3" width="0.7" height="0.7" fill="#999"/>
<rect x="237.0" y="102.7" width="0.7" height="0.7" fill="#999"/>
<rect x="234.4" y="106.2" width="0.7" height="0.7" fill="#999"/>
<rect x="233.5" y="102.4" width="0.7" height="0.7" fill="#999"/>
<rect x="230.1" y="105.9" width="0.7" height="0.7" fill="#999"/>
<rect x="216.7" y="104.0" width="0.7" height="0.7" fill="#999"/>
<rect x="220.9" y="102.9" width="0.7" height="0.7" fill="#999"/>
<rect x="233.3" y="100.2" width="0.7" height="0.7" fill="#999"/>
<rect x="218.1" y="100.5" width="0.7" height="0.7" fill="#999"/>
<rect x="222.1" y="105.2" width="0.7" height="0.7" fill="#999"/>
<rect x="237.3" y="104.2" width="0.7" height="0.7" fill="#999"/>
<rect x="226.0" y="100.2" width="0.7" height="0.7" fill="#999"/>
<rect x="227.0" y="108.2" width="0.7" height="0.7" fill="#999"/>
<rect x="229.7" y="109.1" width="0.7" height="0.7" fill="#999"/>
<rect x="219.3" y="105.3" width="0.7" height="0.7" fill="#999"/>
<rect x="225.6" y="99.9" width="0.7" height="0.7" fill="#999"/>
<rect x="214.3" y="106.7" width="0.7" height="0.7" fill="#999"/>
<rect x="210.4" y="108.5" width="0.7" height="0.7" fill="#999"/>
<rect x="222.2" y="104.2" width="0.7" height="0.7" fill="#999"/>
<rect x="210.4" y="100.7" width="0.7" height="0.7" fill="#999"/>
<rect x="211.4" y="103.2" width="0.7" height="0.7" fill="#999"/>
<rect x="226.2" y="105.8" width="0.7" height="0.7" fill="#999"/>
<rect x="218.8" y="102.2" width="0.7" height="0.7" fill="#999"/>
<rect x="220.0" y="100.8" width="0.7" height="0.7" fill="#999"/>
<rect x="218.4" y="83.5" width="0.7" height="0.7" fill="#aaa"/>
<rect x="213.4" y="84.4" width="0.7" height="0.7" fill="#aaa"/>
<rect x="216.9" y="81.3" width="0.7" height="0.7" fill="#aaa"/>
<rect x="223.4" y="65.5" width="0.7" height="0.7" fill="#aaa"/>
<rect x="218.5" y="71.8" width="0.7" height="0.7" fill="#aaa"/>
<rect x="215.2" y="96.4" width="0.7" height="0.7" fill="#aaa"/>
<rect x="210.8" y="81.0" width="0.7" height="0.7" fill="#aaa"/>
<rect x="213.6" y="91.1" width="0.7" height="0.7" fill="#aaa"/>
<rect x="211.4" y="65.8" width="0.7" height="0.7" fill="#aaa"/>
<rect x="220.0" y="78.6" width="0.7" height="0.7" fill="#aaa"/>
<rect x="215.2" y="92.4" width="0.7" height="0.7" fill="#aaa"/>
<rect x="211.9" y="78.4" width="0.7" height="0.7" fill="#aaa"/>
<rect x="217.9" y="86.0" width="0.7" height="0.7" fill="#aaa"/>
<rect x="214.0" y="91.9" width="0.7" height="0.7" fill="#aaa"/>
<rect x="227.8" y="61.7" width="0.7" height="0.7" fill="#aaa"/>
<rect x="225.1" y="78.7" width="0.7" height="0.7" fill="#aaa"/>
<rect x="217.8" y="78.7" width="0.7" height="0.7" fill="#aaa"/>
<rect x="213.3" y="69.7" width="0.7" height="0.7" fill="#aaa"/>
<rect x="214.7" y="94.4" width="0.7" height="0.7" fill="#aaa"/>
<rect x="223.6" y="78.7" width="0.7" height="0.7" fill="#aaa"/>
<rect x="214.0" y="75.3" width="0.7" height="0.7" fill="#aaa"/>
<rect x="220.8" y="83.1" width="0.7" height="0.7" fill="#aaa"/>
<rect x="214.2" y="72.2" width="0.7" height="0.7" fill="#aaa"/>
<rect x="224.6" y="89.5" width="0.7" height="0.7" fill="#aaa"/>
<rect x="211.5" y="91.5" width="0.7" height="0.7" fill="#aaa"/>
<rect x="210.6" y="88.2" width="0.7" height="0.7" fill="#aaa"/>
<rect x="211.5" y="78.0" width="0.7" height="0.7" fill="#aaa"/>
<rect x="219.9" y="86.2" width="0.7" height="0.7" fill="#aaa"/>
<rect x="222.8" y="74.0" width="0.7" height="0.7" fill="#aaa"/>
<rect x="226.1" y="94.9" width="0.7" height="0.7" fill="#aaa"/>
<rect x="216.9" y="86.5" width="0.7" height="0.7" fill="#aaa"/>
<rect x="212.5" y="80.5" width="0.7" height="0.7" fill="#aaa"/>
<ellipse cx="200.5" cy="88" rx="9.60" ry="25.00" fill="#dedede" filter="url(#blur1)"/>
<rect x="193.0" y="89.3" width="0.75" height="0.75" fill="#999"/>
<rect x="201.6" y="107.7" width="0.75" height="0.75" fill="#999"/>
<rect x="206.0" y="100.3" width="0.75" height="0.75" fill="#999"/>
<rect x="198.1" y="84.1" width="0.75" height="0.75" fill="#999"/>
<rect x="198.2" y="91.9" width="0.75" height="0.75" fill="#999"/>
<rect x="191.8" y="97.0" width="0.75" height="0.75" fill="#999"/>
<rect x="192.4" y="81.1" width="0.75" height="0.75" fill="#999"/>
<rect x="200.6" y="79.1" width="0.75" height="0.75" fill="#999"/>
<rect x="209.0" y="86.7" width="0.75" height="0.75" fill="#999"/>
<rect x="207.9" y="102.3" width="0.75" height="0.75" fill="#999"/>
<rect x="197.3" y="94.8" width="0.75" height="0.75" fill="#999"/>
<rect x="207.8" y="83.1" width="0.75" height="0.75" fill="#999"/>
<rect x="201.1" y="78.4" width="0.75" height="0.75" fill="#999"/>
<rect x="200.9" y="81.8" width="0.75" height="0.75" fill="#999"/>
<rect x="201.0" y="104.0" width="0.75" height="0.75" fill="#999"/>
<rect x="208.2" y="89.9" width="0.75" height="0.75" fill="#999"/>
<rect x="201.8" y="102.0" width="0.75" height="0.75" fill="#999"/>
<rect x="198.8" y="71.5" width="0.75" height="0.75" fill="#999"/>
<rect x="206.6" y="74.7" width="0.75" height="0.75" fill="#999"/>
<rect x="205.8" y="73.8" width="0.75" height="0.75" fill="#999"/>
<rect x="208.7" y="75.9" width="0.75" height="0.75" fill="#999"/>
<rect x="204.8" y="107.7" width="0.75" height="0.75" fill="#999"/>
<rect x="195.7" y="107.3" width="0.75" height="0.75" fill="#999"/>
<rect x="196.6" y="66.4" width="0.75" height="0.75" fill="#999"/>
<rect x="204.9" y="99.2" width="0.75" height="0.75" fill="#999"/>
<rect x="199.7" y="62.5" width="0.75" height="0.75" fill="#999"/>
<rect x="200.1" y="82.6" width="0.75" height="0.75" fill="#999"/>
<rect x="198.0" y="83.0" width="0.75" height="0.75" fill="#999"/>
<rect x="191.9" y="80.9" width="0.75" height="0.75" fill="#999"/>
<rect x="207.9" y="104.5" width="0.75" height="0.75" fill="#999"/>
<rect x="198.2" y="76.2" width="0.75" height="0.75" fill="#999"/>
<rect x="202.9" y="104.4" width="0.75" height="0.75" fill="#999"/>
<rect x="204.5" y="71.0" width="0.75" height="0.75" fill="#999"/>
<rect x="201.6" y="90.5" width="0.75" height="0.75" fill="#999"/>
<rect x="207.4" y="103.0" width="0.75" height="0.75" fill="#999"/>
<rect x="203.5" y="105.9" width="0.75" height="0.75" fill="#999"/>
<rect x="198.4" y="109.1" width="0.75" height="0.75" fill="#999"/>
<rect x="197.7" y="94.8" width="0.75" height="0.75" fill="#999"/>
<rect x="205.7" y="74.4" width="0.75" height="0.75" fill="#999"/>
<rect x="197.1" y="66.1" width="0.75" height="0.75" fill="#999"/>
<rect x="201.6" y="87.0" width="0.75" height="0.75" fill="#999"/>
<rect x="198.4" y="96.5" width="0.75" height="0.75" fill="#999"/>
<rect x="191.1" y="87.7" width="0.75" height="0.75" fill="#999"/>
<rect x="201.1" y="83.3" width="0.75" height="0.75" fill="#999"/>
<rect x="204.3" y="109.6" width="0.75" height="0.75" fill="#999"/>
<rect x="197.8" y="73.1" width="0.75" height="0.75" fill="#999"/>
<rect x="196.5" y="89.6" width="0.75" height="0.75" fill="#999"/>
<rect x="204.1" y="74.4" width="0.75" height="0.75" fill="#999"/>
<rect x="206.0" y="73.3" width="0.75" height="0.75" fill="#999"/>
<rect x="205.6" y="94.9" width="0.75" height="0.75" fill="#999"/>
<rect x="202.5" y="112.3" width="0.75" height="0.75" fill="#999"/>
<rect x="198.7" y="85.1" width="0.75" height="0.75" fill="#999"/>
<rect x="203.4" y="101.8" width="0.75" height="0.75" fill="#999"/>
<rect x="193.0" y="92.0" width="0.75" height="0.75" fill="#999"/>
<rect x="195.9" y="98.1" width="0.75" height="0.75" fill="#999"/>
<rect x="208.2" y="88.8" width="0.75" height="0.75" fill="#999"/>
<rect x="199.8" y="91.3" width="0.75" height="0.75" fill="#999"/>
<rect x="190.8" y="94.6" width="0.75" height="0.75" fill="#999"/>
<rect x="204.2" y="90.8" width="0.75" height="0.75" fill="#999"/>
<rect x="198.0" y="75.9" width="0.75" height="0.75" fill="#999"/>
<rect x="199.5" y="106.4" width="0.75" height="0.75" fill="#999"/>
<rect x="199.9" y="107.7" width="0.75" height="0.75" fill="#999"/>
<rect x="190.8" y="83.5" width="0.75" height="0.75" fill="#999"/>
<rect x="202.4" y="87.8" width="0.75" height="0.75" fill="#999"/>
<rect x="192.3" y="79.4" width="0.75" height="0.75" fill="#999"/>
<rect x="206.7" y="71.4" width="0.75" height="0.75" fill="#999"/>
<rect x="195.1" y="72.5" width="0.75" height="0.75" fill="#999"/>
<rect x="197.0" y="98.6" width="0.75" height="0.75" fill="#999"/>
<rect x="203.1" y="64.5" width="0.75" height="0.75" fill="#999"/>
<rect x="208.2" y="79.9" width="0.75" height="0.75" fill="#999"/>
<rect x="197.6" y="109.6" width="0.75" height="0.75" fill="#999"/>
<rect x="200.0" y="69.3" width="0.75" height="0.75" fill="#999"/>
<rect x="196.6" y="76.3" width="0.75" height="0.75" fill="#999"/>
<rect x="194.4" y="82.8" width="0.75" height="0.75" fill="#999"/>
<rect x="205.9" y="93.7" width="0.75" height="0.75" fill="#999"/>
<rect x="196.1" y="111.4" width="0.75" height="0.75" fill="#999"/>
<rect x="194.4" y="89.8" width="0.75" height="0.75" fill="#999"/>
<rect x="200.7" y="100.7" width="0.75" height="0.75" fill="#999"/>
<rect x="198.3" y="95.8" width="0.75" height="0.75" fill="#999"/>
<rect x="209.9" y="89.1" width="0.75" height="0.75" fill="#999"/>
<rect x="194.1" y="93.1" width="0.75" height="0.75" fill="#999"/>
<rect x="195.5" y="82.0" width="0.75" height="0.75" fill="#999"/>
<rect x="201.8" y="93.9" width="0.75" height="0.75" fill="#999"/>
<rect x="198.7" y="101.8" width="0.75" height="0.75" fill="#999"/>
<rect x="199.4" y="68.7" width="0.75" height="0.75" fill="#999"/>
<rect x="205.9" y="82.1" width="0.75" height="0.75" fill="#999"/>
<rect x="207.3" y="78.5" width="0.75" height="0.75" fill="#999"/>
<rect x="204.2" y="93.3" width="0.75" height="0.75" fill="#999"/>
<rect x="191.7" y="75.4" width="0.75" height="0.75" fill="#999"/>
<rect x="195.0" y="106.1" width="0.75" height="0.75" fill="#999"/>
<rect x="192.0" y="98.7" width="0.75" height="0.75" fill="#999"/>
<rect x="206.9" y="95.5" width="0.75" height="0.75" fill="#999"/>
<rect x="204.8" y="79.8" width="0.75" height="0.75" fill="#999"/>
<rect x="200.4" y="92.0" width="0.75" height="0.75" fill="#999"/>
<rect x="203.2" y="99.7" width="0.75" height="0.75" fill="#999"/>
<rect x="199.2" y="76.2" width="0.75" height="0.75" fill="#999"/>
<rect x="196.9" y="94.9" width="0.75" height="0.75" fill="#999"/>
<rect x="193.0" y="73.3" width="0.75" height="0.75" fill="#999"/>
<rect x="197.8" y="78.7" width="0.75" height="0.75" fill="#999"/>
<rect x="199.5" y="62.4" width="0.75" height="0.75" fill="#999"/>
<rect x="198.2" y="83.6" width="0.75" height="0.75" fill="#999"/>
<rect x="203.9" y="65.1" width="0.75" height="0.75" fill="#999"/>
<rect x="198.5" y="96.2" width="0.75" height="0.75" fill="#999"/>
<rect x="203.3" y="105.8" width="0.75" height="0.75" fill="#999"/>
<rect x="206.2" y="73.2" width="0.75" height="0.75" fill="#999"/>
<rect x="204.6" y="82.4" width="0.75" height="0.75" fill="#999"/>
<rect x="196.5" y="108.1" width="0.75" height="0.75" fill="#999"/>
<rect x="196.7" y="74.5" width="0.75" height="0.75" fill="#999"/>
<rect x="198.0" y="74.2" width="0.75" height="0.75" fill="#999"/>
<rect x="206.6" y="94.0" width="0.75" height="0.75" fill="#999"/>
<rect x="208.2" y="93.9" width="0.75" height="0.75" fill="#999"/>
<rect x="196.9" y="103.9" width="0.75" height="0.75" fill="#999"/>
<rect x="196.3" y="80.3" width="0.75" height="0.75" fill="#999"/>
<rect x="199.4" y="88.7" width="0.75" height="0.75" fill="#999"/>
<rect x="207.3" y="79.1" width="0.75" height="0.75" fill="#999"/>
<rect x="202.9" y="87.5" width="0.75" height="0.75" fill="#999"/>
<rect x="194.0" y="73.3" width="0.75" height="0.75" fill="#999"/>
<rect x="199.0" y="95.1" width="0.75" height="0.75" fill="#999"/>
<rect x="202.6" y="96.2" width="0.75" height="0.75" fill="#999"/>
<rect x="200.8" y="80.2" width="0.75" height="0.75" fill="#999"/>
<rect x="203.1" y="72.3" width="0.75" height="0.75" fill="#999"/>
<rect x="193.0" y="83.2" width="0.75" height="0.75" fill="#999"/>
<rect x="192.8" y="80.8" width="0.75" height="0.75" fill="#999"/>
<rect x="195.8" y="79.0" width="0.75" height="0.75" fill="#999"/>
<rect x="200.2" y="74.7" width="0.75" height="0.75" fill="#999"/>
<rect x="198.4" y="65.7" width="0.75" height="0.75" fill="#999"/>
<rect x="201.4" y="73.6" width="0.75" height="0.75" fill="#999"/>
<rect x="201.9" y="62.3" width="0.75" height="0.75" fill="#999"/>
<rect x="195.4" y="92.0" width="0.75" height="0.75" fill="#999"/>
<rect x="190.8" y="84.3" width="0.75" height="0.75" fill="#999"/>
<rect x="201.1" y="89.8" width="0.75" height="0.75" fill="#999"/>
<rect x="192.4" y="91.2" width="0.75" height="0.75" fill="#999"/>
<rect x="201.4" y="72.4" width="0.75" height="0.75" fill="#999"/>
<rect x="205.3" y="87.2" width="0.75" height="0.75" fill="#999"/>
<rect x="200.6" y="80.1" width="0.75" height="0.75" fill="#999"/>
<rect x="204.1" y="89.7" width="0.75" height="0.75" fill="#999"/>
<rect x="207.1" y="94.9" width="0.75" height="0.75" fill="#999"/>
<rect x="196.5" y="84.2" width="0.75" height="0.75" fill="#999"/>
<rect x="206.2" y="82.1" width="0.75" height="0.75" fill="#999"/>
<rect x="203.0" y="96.9" width="0.75" height="0.75" fill="#999"/>
<rect x="199.8" y="62.9" width="0.75" height="0.75" fill="#999"/>
<rect x="201.4" y="91.8" width="0.75" height="0.75" fill="#999"/>
<rect x="201.4" y="75.3" width="0.75" height="0.75" fill="#999"/>
<rect x="207.6" y="85.9" width="0.75" height="0.75" fill="#999"/>
<rect x="196.6" y="76.4" width="0.75" height="0.75" fill="#999"/>
<rect x="202.6" y="71.1" width="0.75" height="0.75" fill="#999"/>
<rect x="196.2" y="110.3" width="0.75" height="0.75" fill="#999"/>
<rect x="207.2" y="102.1" width="0.75" height="0.75" fill="#999"/>
<rect x="207.9" y="96.4" width="0.75" height="0.75" fill="#999"/>
<rect x="192.9" y="102.1" width="0.75" height="0.75" fill="#999"/>
<rect x="207.5" y="95.3" width="0.75" height="0.75" fill="#999"/>
<rect x="192.3" y="101.5" width="0.75" height="0.75" fill="#999"/>
<rect x="208.0" y="81.0" width="0.75" height="0.75" fill="#999"/>
<rect x="201.3" y="101.0" width="0.75" height="0.75" fill="#999"/>
<rect x="200.0" y="105.2" width="0.75" height="0.75" fill="#999"/>
<rect x="201.0" y="99.8" width="0.75" height="0.75" fill="#999"/>
<rect x="201.0" y="67.0" width="0.75" height="0.75" fill="#999"/>
<rect x="197.5" y="113.0" width="0.75" height="0.75" fill="#999"/>
<rect x="202.1" y="107.4" width="0.75" height="0.75" fill="#999"/>
<rect x="205.7" y="108.3" width="0.75" height="0.75" fill="#999"/>
<rect x="204.0" y="78.1" width="0.75" height="0.75" fill="#999"/>
<rect x="200.6" y="64.2" width="0.75" height="0.75" fill="#999"/>
<rect x="199.3" y="102.8" width="0.75" height="0.75" fill="#999"/>
<rect x="191.0" y="90.2" width="0.75" height="0.75" fill="#999"/>
<rect x="204.9" y="106.4" width="0.75" height="0.75" fill="#999"/>
<rect x="195.0" y="77.8" width="0.75" height="0.75" fill="#999"/>
<rect x="192.2" y="76.2" width="0.75" height="0.75" fill="#999"/>
<rect x="202.9" y="111.9" width="0.75" height="0.75" fill="#999"/>
<rect x="194.8" y="105.8" width="0.75" height="0.75" fill="#999"/>
<rect x="203.3" y="79.5" width="0.75" height="0.75" fill="#999"/>
<rect x="207.1" y="68.2" width="0.75" height="0.75" fill="#999"/>
<rect x="200.0" y="91.9" width="0.75" height="0.75" fill="#999"/>
<rect x="208.1" y="104.7" width="0.75" height="0.75" fill="#999"/>
<rect x="210.1" y="89.5" width="0.75" height="0.75" fill="#999"/>
<rect x="205.5" y="106.3" width="0.75" height="0.75" fill="#999"/>
<rect x="203.9" y="94.2" width="0.75" height="0.75" fill="#999"/>
<rect x="199.3" y="80.8" width="0.75" height="0.75" fill="#999"/>
<rect x="195.3" y="109.3" width="0.75" height="0.75" fill="#999"/>
<rect x="198.5" y="63.9" width="0.75" height="0.75" fill="#999"/>
<rect x="202.3" y="87.4" width="0.75" height="0.75" fill="#999"/>
<rect x="201.4" y="111.3" width="0.75" height="0.75" fill="#999"/>
<rect x="199.8" y="83.3" width="0.75" height="0.75" fill="#999"/>
<rect x="195.7" y="87.6" width="0.75" height="0.75" fill="#999"/>
<rect x="197.5" y="91.6" width="0.75" height="0.75" fill="#999"/>
<rect x="210.5" y="91.3" width="0.75" height="0.75" fill="#999"/>
<rect x="196.7" y="110.5" width="0.75" height="0.75" fill="#999"/>
<rect x="205.6" y="100.6" width="0.75" height="0.75" fill="#999"/>
<rect x="204.8" y="100.9" width="0.75" height="0.75" fill="#999"/>
<rect x="204.1" y="107.6" width="0.75" height="0.75" fill="#999"/>
<rect x="205.7" y="106.1" width="0.75" height="0.75" fill="#999"/>
<rect x="197.1" y="88.0" width="0.75" height="0.75" fill="#999"/>
<rect x="196.2" y="102.7" width="0.75" height="0.75" fill="#999"/>
<rect x="205.7" y="80.4" width="0.75" height="0.75" fill="#999"/>
<rect x="202.7" y="113.2" width="0.75" height="0.75" fill="#999"/>
<rect x="206.9" y="73.0" width="0.75" height="0.75" fill="#999"/>
<rect x="199.9" y="98.9" width="0.75" height="0.75" fill="#999"/>
<rect x="200.3" y="94.9" width="0.75" height="0.75" fill="#999"/>
<rect x="207.4" y="93.0" width="0.75" height="0.75" fill="#999"/>
<rect x="194.2" y="98.7" width="0.75" height="0.75" fill="#999"/>
<rect x="199.8" y="90.1" width="0.75" height="0.75" fill="#999"/>
<rect x="197.4" y="68.4" width="0.75" height="0.75" fill="#999"/>
<rect x="193.3" y="82.7" width="0.75" height="0.75" fill="#999"/>
<rect x="196.8" y="63.8" width="0.75" height="0.75" fill="#999"/>
<rect x="206.5" y="72.2" width="0.75" height="0.75" fill="#999"/>
<rect x="195.9" y="96.8" width="0.75" height="0.75" fill="#999"/>
<rect x="191.8" y="100.6" width="0.75" height="0.75" fill="#999"/>
<rect x="195.8" y="98.6" width="0.75" height="0.75" fill="#999"/>
<rect x="197.3" y="93.3" width="0.75" height="0.75" fill="#999"/>
<rect x="201.2" y="88.0" width="0.75" height="0.75" fill="#999"/>
<rect x="192.9" y="72.2" width="0.75" height="0.75" fill="#999"/>
<rect x="200.3" y="108.5" width="0.75" height="0.75" fill="#999"/>
<rect x="197.0" y="97.0" width="0.75" height="0.75" fill="#999"/>
<rect x="201.6" y="96.5" width="0.75" height="0.75" fill="#999"/>
<rect x="205.4" y="68.6" width="0.75" height="0.75" fill="#999"/>
<rect x="202.4" y="84.8" width="0.75" height="0.75" fill="#999"/>
<rect x="198.5" y="74.0" width="0.75" height="0.75" fill="#999"/>
<rect x="196.0" y="72.5" width="0.75" height="0.75" fill="#999"/>
<rect x="196.5" y="111.7" width="0.75" height="0.75" fill="#999"/>
<rect x="209.2" y="88.1" width="0.75" height="0.75" fill="#999"/>
<rect x="204.9" y="73.1" width="0.75" height="0.75" fill="#999"/>
<rect x="192.1" y="73.7" width="0.75" height="0.75" fill="#999"/>
<rect x="201.3" y="108.7" width="0.75" height="0.75" fill="#999"/>
<rect x="200.2" y="71.9" width="0.75" height="0.75" fill="#999"/>
<rect x="199.0" y="72.0" width="0.75" height="0.75" fill="#999"/>
<rect x="192.7" y="84.6" width="0.75" height="0.75" fill="#999"/>
<rect x="198.0" y="74.6" width="0.75" height="0.75" fill="#999"/>
<rect x="195.4" y="74.0" width="0.75" height="0.75" fill="#999"/>
<rect x="201.8" y="108.3" width="0.75" height="0.75" fill="#999"/>
<rect x="199.6" y="112.9" width="0.75" height="0.75" fill="#999"/>
<rect x="192.1" y="91.7" width="0.75" height="0.75" fill="#999"/>
<rect x="193.6" y="85.5" width="0.75" height="0.75" fill="#999"/>
<rect x="201.2" y="97.7" width="0.75" height="0.75" fill="#999"/>
<rect x="207.1" y="79.6" width="0.75" height="0.75" fill="#999"/>
<rect x="193.3" y="85.1" width="0.75" height="0.75" fill="#999"/>
<rect x="202.4" y="76.2" width="0.75" height="0.75" fill="#999"/>
<rect x="204.8" y="109.0" width="0.75" height="0.75" fill="#999"/>
<rect x="192.7" y="93.2" width="0.75" height="0.75" fill="#999"/>
<rect x="205.0" y="66.1" width="0.75" height="0.75" fill="#999"/>
<rect x="201.9" y="84.0" width="0.75" height="0.75" fill="#999"/>
<rect x="193.7" y="104.3" width="0.75" height="0.75" fill="#999"/>
<rect x="202.0" y="79.6" width="0.75" height="0.75" fill="#999"/>
<rect x="203.4" y="98.8" width="0.75" height="0.75" fill="#999"/>
<rect x="205.3" y="97.4" width="0.75" height="0.75" fill="#999"/>
<rect x="202.9" y="70.1" width="0.75" height="0.75" fill="#999"/>
<rect x="197.6" y="90.3" width="0.75" height="0.75" fill="#999"/>
<rect x="192.5" y="104.0" width="0.75" height="0.75" fill="#999"/>
<rect x="198.2" y="71.4" width="0.75" height="0.75" fill="#999"/>
<rect x="191.6" y="91.2" width="0.75" height="0.75" fill="#999"/>
<rect x="200.7" y="77.9" width="0.75" height="0.75" fill="#999"/>
<rect x="197.9" y="73.6" width="0.75" height="0.75" fill="#999"/>
<rect x="195.6" y="86.3" width="0.75" height="0.75" fill="#999"/>
<rect x="196.5" y="99.1" width="0.75" height="0.75" fill="#999"/>
<rect x="199.5" y="90.4" width="0.75" height="0.75" fill="#999"/>
<rect x="202.8" y="106.9" width="0.75" height="0.75" fill="#999"/>
<rect x="204.5" y="91.9" width="0.75" height="0.75" fill="#999"/>
<rect x="199.5" y="74.5" width="0.75" height="0.75" fill="#999"/>
<rect x="198.3" y="99.5" width="0.75" height="0.75" fill="#999"/>
<rect x="202.0" y="81.2" width="0.75" height="0.75" fill="#999"/>
<rect x="194.4" y="69.6" width="0.75" height="0.75" fill="#999"/>
<rect x="202.5" y="104.3" width="0.75" height="0.75" fill="#999"/>
<rect x="202.6" y="68.1" width="0.75" height="0.75" fill="#999"/>
<rect x="199.0" y="92.0" width="0.75" height="0.75" fill="#999"/>
<rect x="194.8" y="93.6" width="0.75" height="0.75" fill="#999"/>
<rect x="199.2" y="74.1" width="0.75" height="0.75" fill="#999"/>
<rect x="193.7" y="99.6" width="0.75" height="0.75" fill="#999"/>
<rect x="202.7" y="73.5" width="0.75" height="0.75" fill="#999"/>
<rect x="194.7" y="101.2" width="0.75" height="0.75" fill="#999"/>
<rect x="204.4" y="82.8" width="0.75" height="0.75" fill="#999"/>
<rect x="208.9" y="84.0" width="0.75" height="0.75" fill="#999"/>
<rect x="194.8" y="103.4" width="0.75" height="0.75" fill="#999"/>
<rect x="199.2" y="94.1" width="0.75" height="0.75" fill="#999"/>
<rect x="200.7" y="71.8" width="0.75" height="0.75" fill="#999"/>
<rect x="193.5" y="85.0" width="0.75" height="0.75" fill="#999"/>
<rect x="207.6" y="74.7" width="0.75" height="0.75" fill="#999"/>
<rect x="208.2" y="91.2" width="0.75" height="0.75" fill="#999"/>
<rect x="193.8" y="92.2" width="0.75" height="0.75" fill="#999"/>
<rect x="204.0" y="73.7" width="0.75" height="0.75" fill="#999"/>
<rect x="191.1" y="92.1" width="0.75" height="0.75" fill="#999"/>
<rect x="193.9" y="94.8" width="0.75" height="0.75" fill="#999"/>
<rect x="191.4" y="86.2" width="0.75" height="0.75" fill="#999"/>
<rect x="196.3" y="68.2" width="0.75" height="0.75" fill="#999"/>
<rect x="198.8" y="91.1" width="0.75" height="0.75" fill="#999"/>
<rect x="197.3" y="70.3" width="0.75" height="0.75" fill="#999"/>
<rect x="201.6" y="65.1" width="0.75" height="0.75" fill="#999"/>
<rect x="204.0" y="96.3" width="0.75" height="0.75" fill="#999"/>
<rect x="208.6" y="99.1" width="0.75" height="0.75" fill="#999"/>
<rect x="202.9" y="92.7" width="0.75" height="0.75" fill="#999"/>
<rect x="200.7" y="68.3" width="0.75" height="0.75" fill="#999"/>
<rect x="208.3" y="95.3" width="0.75" height="0.75" fill="#999"/>
<rect x="198.8" y="70.3" width="0.75" height="0.75" fill="#999"/>
<rect x="208.4" y="95.4" width="0.75" height="0.75" fill="#999"/>
<rect x="193.8" y="97.9" width="0.75" height="0.75" fill="#999"/>
<rect x="209.6" y="87.7" width="0.75" height="0.75" fill="#999"/>
<rect x="203.2" y="80.8" width="0.75" height="0.75" fill="#999"/>
<rect x="196.8" y="104.3" width="0.75" height="0.75" fill="#999"/>
<rect x="210.5" y="89.0" width="0.75" height="0.75" fill="#999"/>
<rect x="199.7" y="101.3" width="0.75" height="0.75" fill="#999"/>
<rect x="198.5" y="100.2" width="0.75" height="0.75" fill="#999"/>
<rect x="205.2" y="72.8" width="0.75" height="0.75" fill="#999"/>
<rect x="194.0" y="86.8" width="0.75" height="0.75" fill="#999"/>
<rect x="205.8" y="92.6" width="0.75" height="0.75" fill="#999"/>
<rect x="206.5" y="70.5" width="0.75" height="0.75" fill="#999"/>
<rect x="203.7" y="77.6" width="0.75" height="0.75" fill="#999"/>
<rect x="201.2" y="93.7" width="0.75" height="0.75" fill="#999"/>
<rect x="194.5" y="84.3" width="0.75" height="0.75" fill="#999"/>
<rect x="193.6" y="92.1" width="0.75" height="0.75" fill="#999"/>
<rect x="195.2" y="80.0" width="0.75" height="0.75" fill="#999"/>
<rect x="201.9" y="76.9" width="0.75" height="0.75" fill="#999"/>
<rect x="207.1" y="78.5" width="0.75" height="0.75" fill="#999"/>
<rect x="205.9" y="92.6" width="0.75" height="0.75" fill="#999"/>
<rect x="194.2" y="84.5" width="0.75" height="0.75" fill="#999"/>
<rect x="195.2" y="82.1" width="0.75" height="0.75" fill="#999"/>
<rect x="199.2" y="111.2" width="0.75" height="0.75" fill="#999"/>
<rect x="198.3" y="109.4" width="0.75" height="0.75" fill="#999"/>
<rect x="203.0" y="68.9" width="0.75" height="0.75" fill="#999"/>
<rect x="191.1" y="95.1" width="0.75" height="0.75" fill="#999"/>
<rect x="191.6" y="96.3" width="0.75" height="0.75" fill="#999"/>
<rect x="206.7" y="94.1" width="0.75" height="0.75" fill="#999"/>
<rect x="199.1" y="83.5" width="0.75" height="0.75" fill="#999"/>
<rect x="202.3" y="82.7" width="0.75" height="0.75" fill="#999"/>
<rect x="197.0" y="81.7" width="0.75" height="0.75" fill="#999"/>
<rect x="207.2" y="78.8" width="0.75" height="0.75" fill="#999"/>
<rect x="202.7" y="70.4" width="0.75" height="0.75" fill="#999"/>
<rect x="196.7" y="68.9" width="0.75" height="0.75" fill="#999"/>
<rect x="199.2" y="99.6" width="0.75" height="0.75" fill="#999"/>
<rect x="202.5" y="79.5" width="0.75" height="0.75" fill="#999"/>
<rect x="204.5" y="82.1" width="0.75" height="0.75" fill="#999"/>
<rect x="203.0" y="92.8" width="0.75" height="0.75" fill="#999"/>
<rect x="202.6" y="63.0" width="0.75" height="0.75" fill="#999"/>
<rect x="193.5" y="98.9" width="0.75" height="0.75" fill="#999"/>
<rect x="200.0" y="113.0" width="0.75" height="0.75" fill="#999"/>
<rect x="198.9" y="78.5" width="0.75" height="0.75" fill="#999"/>
<rect x="208.4" y="95.6" width="0.75" height="0.75" fill="#999"/>
<rect x="209.4" y="94.2" width="0.75" height="0.75" fill="#999"/>
<rect x="199.2" y="100.2" width="0.75" height="0.75" fill="#999"/>
<rect x="195.5" y="80.7" width="0.75" height="0.75" fill="#999"/>
<rect x="196.8" y="84.2" width="0.75" height="0.75" fill="#999"/>
<rect x="205.4" y="80.1" width="0.75" height="0.75" fill="#999"/>
<rect x="202.6" y="79.4" width="0.75" height="0.75" fill="#999"/>
<rect x="203.5" y="63.3" width="0.75" height="0.75" fill="#999"/>
<rect x="199.1" y="91.0" width="0.75" height="0.75" fill="#999"/>
<rect x="194.6" y="102.4" width="0.75" height="0.75" fill="#999"/>
<rect x="201.7" y="107.1" width="0.75" height="0.75" fill="#999"/>
<rect x="206.2" y="97.9" width="0.75" height="0.75" fill="#999"/>
<rect x="199.6" y="71.0" width="0.75" height="0.75" fill="#999"/>
<rect x="199.0" y="80.0" width="0.75" height="0.75" fill="#999"/>
<rect x="202.2" y="79.9" width="0.75" height="0.75" fill="#999"/>
<rect x="209.4" y="75.9" width="0.75" height="0.75" fill="#999"/>
<rect x="207.3" y="80.9" width="0.75" height="0.75" fill="#999"/>
<rect x="199.0" y="103.0" width="0.75" height="0.75" fill="#999"/>
<rect x="200.5" y="69.5" width="0.75" height="0.75" fill="#999"/>
<rect x="203.3" y="84.6" width="0.75" height="0.75" fill="#999"/>
<rect x="191.2" y="90.3" width="0.75" height="0.75" fill="#999"/>
<rect x="194.4" y="76.9" width="0.75" height="0.75" fill="#999"/>
<rect x="203.7" y="93.2" width="0.75" height="0.75" fill="#999"/>
<rect x="199.2" y="112.6" width="0.75" height="0.75" fill="#999"/>
<rect x="203.2" y="77.7" width="0.75" height="0.75" fill="#999"/>
<rect x="202.1" y="85.8" width="0.75" height="0.75" fill="#999"/>
<rect x="192.4" y="73.0" width="0.75" height="0.75" fill="#999"/>
<rect x="195.0" y="109.2" width="0.75" height="0.75" fill="#999"/>
<rect x="199.3" y="83.1" width="0.75" height="0.75" fill="#999"/>
<rect x="197.1" y="103.3" width="0.75" height="0.75" fill="#999"/>
<rect x="200.6" y="110.6" width="0.75" height="0.75" fill="#999"/>
<rect x="204.4" y="109.0" width="0.75" height="0.75" fill="#999"/>
<rect x="199.7" y="94.6" width="0.75" height="0.75" fill="#999"/>
<rect x="197.6" y="85.1" width="0.75" height="0.75" fill="#999"/>
<rect x="192.0" y="80.6" width="0.75" height="0.75" fill="#999"/>
<rect x="194.9" y="77.9" width="0.75" height="0.75" fill="#999"/>
<rect x="207.6" y="92.0" width="0.75" height="0.75" fill="#999"/>
<rect x="207.1" y="100.1" width="0.75" height="0.75" fill="#999"/>
<rect x="205.7" y="102.7" width="0.75" height="0.75" fill="#999"/>
<rect x="196.8" y="100.8" width="0.75" height="0.75" fill="#999"/>
<rect x="198.4" y="78.9" width="0.75" height="0.75" fill="#999"/>
<rect x="205.2" y="110.3" width="0.75" height="0.75" fill="#999"/>
<rect x="196.0" y="109.0" width="0.75" height="0.75" fill="#999"/>
<rect x="205.4" y="75.0" width="0.75" height="0.75" fill="#999"/>
<rect x="202.3" y="94.5" width="0.75" height="0.75" fill="#999"/>
<rect x="203.0" y="81.8" width="0.75" height="0.75" fill="#999"/>
<rect x="193.1" y="88.5" width="0.75" height="0.75" fill="#999"/>
<rect x="205.6" y="100.1" width="0.75" height="0.75" fill="#999"/>
<rect x="204.3" y="104.5" width="0.75" height="0.75" fill="#999"/>
<rect x="194.4" y="87.3" width="0.75" height="0.75" fill="#999"/>
<rect x="202.6" y="103.8" width="0.75" height="0.75" fill="#999"/>
<rect x="201.5" y="97.0" width="0.75" height="0.75" fill="#999"/>
<rect x="201.1" y="112.5" width="0.75" height="0.75" fill="#999"/>
<rect x="191.0" y="87.7" width="0.75" height="0.75" fill="#999"/>
<rect x="210.2" y="90.4" width="0.75" height="0.75" fill="#999"/>
<rect x="191.6" y="89.7" width="0.75" height="0.75" fill="#999"/>
<rect x="192.9" y="78.7" width="0.75" height="0.75" fill="#999"/>
<rect x="201.6" y="110.5" width="0.75" height="0.75" fill="#999"/>
<rect x="203.4" y="99.1" width="0.75" height="0.75" fill="#999"/>
<rect x="206.7" y="91.2" width="0.75" height="0.75" fill="#999"/>
<rect x="195.1" y="86.4" width="0.75" height="0.75" fill="#999"/>
<rect x="202.8" y="83.2" width="0.75" height="0.75" fill="#999"/>
<rect x="196.2" y="82.0" width="0.75" height="0.75" fill="#999"/>
<rect x="193.1" y="74.9" width="0.75" height="0.75" fill="#999"/>
<rect x="199.9" y="81.7" width="0.75" height="0.75" fill="#999"/>
<rect x="200.7" y="108.3" width="0.75" height="0.75" fill="#999"/>
<rect x="202.5" y="87.4" width="0.75" height="0.75" fill="#999"/>
<rect x="194.3" y="73.2" width="0.75" height="0.75" fill="#999"/>
<rect x="202.8" y="73.9" width="0.75" height="0.75" fill="#999"/>
<rect x="203.0" y="71.4" width="0.75" height="0.75" fill="#999"/>
<rect x="201.4" y="86.7" width="0.75" height="0.75" fill="#999"/>
<rect x="206.5" y="81.8" width="0.75" height="0.75" fill="#999"/>
<rect x="198.0" y="92.3" width="0.75" height="0.75" fill="#999"/>
<rect x="200.8" y="110.5" width="0.75" height="0.75" fill="#999"/>
<rect x="198.8" y="78.8" width="0.75" height="0.75" fill="#999"/>
<rect x="198.4" y="96.2" width="0.75" height="0.75" fill="#999"/>
<rect x="202.0" y="99.7" width="0.75" height="0.75" fill="#999"/>
<rect x="195.6" y="110.6" width="0.75" height="0.75" fill="#999"/>
<rect x="209.5" y="87.6" width="0.75" height="0.75" fill="#999"/>
<rect x="193.4" y="90.4" width="0.75" height="0.75" fill="#999"/>
<rect x="202.3" y="63.4" width="0.75" height="0.75" fill="#999"/>
<rect x="200.6" y="67.1" width="0.75" height="0.75" fill="#999"/>
<rect x="203.0" y="107.7" width="0.75" height="0.75" fill="#999"/>
<rect x="205.6" y="68.8" width="0.75" height="0.75" fill="#999"/>
<rect x="207.6" y="100.2" width="0.75" height="0.75" fill="#999"/>
<rect x="198.1" y="96.6" width="0.75" height="0.75" fill="#999"/>
<rect x="208.6" y="83.4" width="0.75" height="0.75" fill="#999"/>
<rect x="200.4" y="78.4" width="0.75" height="0.75" fill="#999"/>
<rect x="205.1" y="65.6" width="0.75" height="0.75" fill="#999"/>
<rect x="207.7" y="75.2" width="0.75" height="0.75" fill="#999"/>
<rect x="205.0" y="67.6" width="0.75" height="0.75" fill="#999"/>
<rect x="194.9" y="78.7" width="0.75" height="0.75" fill="#999"/>
<rect x="204.6" y="67.3" width="0.75" height="0.75" fill="#999"/>
<rect x="204.3" y="77.6" width="0.75" height="0.75" fill="#999"/>
<rect x="207.6" y="83.3" width="0.75" height="0.75" fill="#999"/>
<rect x="203.7" y="85.0" width="0.75" height="0.75" fill="#999"/>
<rect x="209.3" y="83.4" width="0.75" height="0.75" fill="#999"/>
<rect x="200.4" y="112.0" width="0.75" height="0.75" fill="#999"/>
<rect x="201.0" y="99.6" width="0.75" height="0.75" fill="#999"/>
<rect x="195.8" y="91.3" width="0.75" height="0.75" fill="#999"/>
<rect x="190.9" y="89.2" width="0.75" height="0.75" fill="#999"/>
<rect x="197.1" y="67.7" width="0.75" height="0.75" fill="#999"/>
<rect x="193.6" y="102.6" width="0.75" height="0.75" fill="#999"/>
<rect x="202.8" y="67.1" width="0.75" height="0.75" fill="#999"/>
<rect x="209.1" y="79.5" width="0.75" height="0.75" fill="#999"/>
<rect x="198.0" y="92.3" width="0.75" height="0.75" fill="#999"/>
<rect x="195.2" y="68.4" width="0.75" height="0.75" fill="#999"/>
<rect x="196.4" y="105.1" width="0.75" height="0.75" fill="#999"/>
<rect x="205.1" y="68.0" width="0.75" height="0.75" fill="#999"/>
<rect x="207.5" y="88.5" width="0.75" height="0.75" fill="#999"/>
<rect x="203.8" y="88.9" width="0.75" height="0.75" fill="#999"/>
<rect x="203.0" y="72.3" width="0.75" height="0.75" fill="#999"/>
<rect x="195.1" y="77.1" width="0.75" height="0.75" fill="#999"/>
<rect x="198.1" y="98.4" width="0.75" height="0.75" fill="#999"/>
<rect x="194.9" y="107.2" width="0.75" height="0.75" fill="#999"/>
<rect x="196.5" y="78.3" width="0.75" height="0.75" fill="#999"/>
<rect x="205.0" y="95.2" width="0.75" height="0.75" fill="#999"/>
<rect x="198.5" y="71.4" width="0.75" height="0.75" fill="#999"/>
<rect x="195.7" y="68.0" width="0.75" height="0.75" fill="#999"/>
<rect x="206.5" y="102.9" width="0.75" height="0.75" fill="#999"/>
<rect x="209.3" y="94.1" width="0.75" height="0.75" fill="#999"/>
<rect x="202.6" y="100.5" width="0.75" height="0.75" fill="#999"/>
<rect x="206.4" y="83.9" width="0.75" height="0.75" fill="#999"/>
<rect x="202.0" y="112.4" width="0.75" height="0.75" fill="#999"/>
<rect x="193.2" y="72.2" width="0.75" height="0.75" fill="#999"/>
<rect x="194.9" y="99.4" width="0.75" height="0.75" fill="#999"/>
<rect x="207.4" y="82.9" width="0.75" height="0.75" fill="#999"/>
<rect x="204.9" y="87.2" width="0.75" height="0.75" fill="#999"/>
<rect x="202.5" y="78.8" width="0.75" height="0.75" fill="#999"/>
<rect x="200.3" y="87.9" width="0.75" height="0.75" fill="#999"/>
<rect x="204.9" y="110.8" width="0.75" height="0.75" fill="#999"/>
<rect x="191.8" y="94.6" width="0.75" height="0.75" fill="#999"/>
<rect x="200.5" y="103.6" width="0.75" height="0.75" fill="#999"/>
<rect x="206.5" y="99.6" width="0.75" height="0.75" fill="#999"/>
<rect x="205.2" y="73.7" width="0.75" height="0.75" fill="#999"/>
<rect x="193.6" y="105.7" width="0.75" height="0.75" fill="#999"/>
<rect x="207.0" y="74.7" width="0.75" height="0.75" fill="#999"/>
<rect x="207.6" y="97.5" width="0.75" height="0.75" fill="#999"/>
<rect x="191.2" y="96.8" width="0.75" height="0.75" fill="#999"/>
<rect x="195.2" y="104.3" width="0.75" height="0.75" fill="#999"/>
<rect x="196.3" y="76.1" width="0.75" height="0.75" fill="#999"/>
<rect x="192.3" y="85.0" width="0.75" height="0.75" fill="#999"/>
<rect x="206.4" y="77.8" width="0.75" height="0.75" fill="#999"/>
<rect x="194.0" y="107.6" width="0.75" height="0.75" fill="#999"/>
<rect x="209.1" y="96.4" width="0.75" height="0.75" fill="#999"/>
<rect x="197.4" y="70.1" width="0.75" height="0.75" fill="#999"/>
<rect x="192.2" y="95.3" width="0.75" height="0.75" fill="#999"/>
<rect x="207.2" y="73.8" width="0.75" height="0.75" fill="#999"/>
<rect x="200.5" y="83.1" width="0.75" height="0.75" fill="#999"/>
<rect x="198.8" y="96.7" width="0.75" height="0.75" fill="#999"/>
<rect x="209.6" y="80.8" width="0.75" height="0.75" fill="#999"/>
<rect x="205.3" y="103.9" width="0.75" height="0.75" fill="#999"/>
<rect x="198.6" y="85.4" width="0.75" height="0.75" fill="#999"/>
<rect x="193.7" y="102.2" width="0.75" height="0.75" fill="#999"/>
<rect x="197.1" y="77.2" width="0.75" height="0.75" fill="#999"/>
<rect x="200.9" y="73.9" width="0.75" height="0.75" fill="#999"/>
<rect x="194.2" y="83.3" width="0.75" height="0.75" fill="#999"/>
<rect x="208.5" y="85.1" width="0.75" height="0.75" fill="#999"/>
<rect x="203.3" y="67.7" width="0.75" height="0.75" fill="#999"/>
<rect x="193.3" y="105.6" width="0.75" height="0.75" fill="#999"/>
<rect x="198.4" y="66.9" width="0.75" height="0.75" fill="#999"/>
<rect x="199.8" y="98.4" width="0.75" height="0.75" fill="#999"/>
<rect x="192.3" y="77.1" width="0.75" height="0.75" fill="#999"/>
<rect x="202.1" y="73.1" width="0.75" height="0.75" fill="#999"/>
<rect x="205.1" y="102.5" width="0.75" height="0.75" fill="#999"/>
<rect x="203.4" y="80.6" width="0.75" height="0.75" fill="#999"/>
<rect x="200.2" y="77.2" width="0.75" height="0.75" fill="#999"/>
<rect x="199.6" y="93.6" width="0.75" height="0.75" fill="#999"/>
<rect x="198.7" y="103.5" width="0.75" height="0.75" fill="#999"/>
<rect x="210.2" y="82.7" width="0.75" height="0.75" fill="#999"/>
<rect x="202.7" y="101.5" width="0.75" height="0.75" fill="#999"/>
<rect x="204.7" y="84.0" width="0.75" height="0.75" fill="#999"/>
<rect x="197.6" y="103.7" width="0.75" height="0.75" fill="#999"/>
<rect x="204.5" y="96.4" width="0.75" height="0.75" fill="#999"/>
<rect x="195.6" y="98.1" width="0.75" height="0.75" fill="#999"/>
<rect x="205.6" y="84.9" width="0.75" height="0.75" fill="#999"/>
<rect x="203.2" y="112.0" width="0.75" height="0.75" fill="#999"/>
<rect x="191.7" y="95.4" width="0.75" height="0.75" fill="#999"/>
<rect x="194.7" y="70.4" width="0.75" height="0.75" fill="#999"/>
<rect x="198.9" y="97.4" width="0.75" height="0.75" fill="#999"/>
<rect x="200.8" y="70.0" width="0.75" height="0.75" fill="#999"/>
<rect x="192.8" y="80.2" width="0.75" height="0.75" fill="#999"/>
<rect x="200.6" y="74.2" width="0.75" height="0.75" fill="#999"/>
<rect x="194.2" y="107.1" width="0.75" height="0.75" fill="#999"/>
<rect x="195.2" y="85.4" width="0.75" height="0.75" fill="#999"/>
<rect x="197.0" y="78.2" width="0.75" height="0.75" fill="#999"/>
<rect x="200.8" y="82.7" width="0.75" height="0.75" fill="#999"/>
<rect x="204.0" y="70.5" width="0.75" height="0.75" fill="#999"/>
<rect x="194.6" y="108.2" width="0.75" height="0.75" fill="#999"/>
<rect x="200.0" y="100.9" width="0.75" height="0.75" fill="#999"/>
<rect x="207.3" y="96.3" width="0.75" height="0.75" fill="#999"/>
<rect x="200.7" y="66.4" width="0.75" height="0.75" fill="#999"/>
<rect x="192.8" y="100.3" width="0.75" height="0.75" fill="#999"/>
<rect x="204.8" y="97.4" width="0.75" height="0.75" fill="#999"/>
<rect x="194.4" y="67.6" width="0.75" height="0.75" fill="#999"/>
<rect x="194.9" y="71.7" width="0.75" height="0.75" fill="#999"/>
<rect x="201.5" y="71.7" width="0.75" height="0.75" fill="#999"/>
<rect x="208.6" y="79.7" width="0.75" height="0.75" fill="#999"/>
<rect x="197.1" y="101.8" width="0.75" height="0.75" fill="#999"/>
<rect x="202.5" y="73.4" width="0.75" height="0.75" fill="#999"/>
<rect x="204.2" y="110.5" width="0.75" height="0.75" fill="#999"/>
<rect x="193.4" y="84.2" width="0.75" height="0.75" fill="#999"/>
<rect x="195.9" y="66.2" width="0.75" height="0.75" fill="#999"/>
<rect x="204.4" y="99.4" width="0.75" height="0.75" fill="#999"/>
<rect x="206.4" y="94.8" width="0.75" height="0.75" fill="#999"/>
<rect x="191.2" y="87.7" width="0.75" height="0.75" fill="#999"/>
<rect x="196.7" y="70.6" width="0.75" height="0.75" fill="#999"/>
<rect x="194.2" y="99.3" width="0.75" height="0.75" fill="#999"/>
<rect x="199.1" y="111.9" width="0.75" height="0.75" fill="#999"/>
<rect x="202.7" y="64.7" width="0.75" height="0.75" fill="#999"/>
<rect x="205.3" y="105.5" width="0.75" height="0.75" fill="#999"/>
<rect x="200.7" y="69.4" width="0.75" height="0.75" fill="#999"/>
<rect x="208.2" y="73.2" width="0.75" height="0.75" fill="#999"/>
<rect x="200.1" y="64.2" width="0.75" height="0.75" fill="#999"/>
<rect x="194.9" y="68.2" width="0.75" height="0.75" fill="#999"/>
<rect x="206.2" y="104.2" width="0.75" height="0.75" fill="#999"/>
<rect x="198.2" y="68.3" width="0.75" height="0.75" fill="#999"/>
<rect x="200.1" y="94.7" width="0.75" height="0.75" fill="#999"/>
<rect x="193.2" y="73.6" width="0.75" height="0.75" fill="#999"/>
<rect x="199.8" y="100.0" width="0.75" height="0.75" fill="#999"/>
<rect x="201.0" y="95.9" width="0.75" height="0.75" fill="#999"/>
<rect x="196.0" y="64.8" width="0.75" height="0.75" fill="#999"/>
<rect x="202.4" y="73.1" width="0.75" height="0.75" fill="#999"/>
<rect x="199.7" y="81.3" width="0.75" height="0.75" fill="#999"/>
<rect x="203.5" y="75.3" width="0.75" height="0.75" fill="#999"/>
<rect x="208.5" y="88.4" width="0.75" height="0.75" fill="#999"/>
<rect x="203.9" y="98.5" width="0.75" height="0.75" fill="#999"/>
<rect x="206.8" y="94.4" width="0.75" height="0.75" fill="#999"/>
<rect x="192.0" y="80.0" width="0.75" height="0.75" fill="#999"/>
<rect x="209.4" y="93.9" width="0.75" height="0.75" fill="#999"/>
<rect x="204.2" y="96.0" width="0.75" height="0.75" fill="#999"/>
<rect x="196.5" y="76.9" width="0.75" height="0.75" fill="#999"/>
<rect x="196.8" y="105.3" width="0.75" height="0.75" fill="#999"/>
<rect x="202.3" y="110.9" width="0.75" height="0.75" fill="#999"/>
<rect x="202.9" y="111.3" width="0.75" height="0.75" fill="#999"/>
<rect x="203.2" y="70.1" width="0.75" height="0.75" fill="#999"/>
<rect x="209.2" y="92.4" width="0.75" height="0.75" fill="#999"/>
<rect x="207.5" y="91.3" width="0.75" height="0.75" fill="#999"/>
<rect x="198.3" y="91.0" width="0.75" height="0.75" fill="#999"/>
<rect x="194.6" y="71.7" width="0.75" height="0.75" fill="#999"/>
<rect x="195.0" y="79.6" width="0.75" height="0.75" fill="#999"/>
<rect x="192.8" y="86.5" width="0.75" height="0.75" fill="#999"/>
<rect x="201.9" y="112.2" width="0.75" height="0.75" fill="#999"/>
<rect x="209.5" y="87.4" width="0.75" height="0.75" fill="#999"/>
<rect x="206.1" y="84.4" width="0.75" height="0.75" fill="#999"/>
<rect x="203.2" y="87.4" width="0.75" height="0.75" fill="#999"/>
<rect x="196.8" y="89.3" width="0.75" height="0.75" fill="#999"/>
<rect x="192.5" y="94.2" width="0.75" height="0.75" fill="#999"/>
<rect x="198.7" y="70.9" width="0.75" height="0.75" fill="#999"/>
<rect x="198.1" y="97.6" width="0.75" height="0.75" fill="#999"/>
<rect x="196.1" y="96.0" width="0.75" height="0.75" fill="#999"/>
<rect x="203.5" y="109.2" width="0.75" height="0.75" fill="#999"/>
<rect x="193.9" y="86.2" width="0.75" height="0.75" fill="#999"/>
<rect x="203.2" y="108.8" width="0.75" height="0.75" fill="#999"/>
<rect x="202.2" y="100.8" width="0.75" height="0.75" fill="#999"/>
<rect x="192.7" y="79.9" width="0.75" height="0.75" fill="#999"/>
<rect x="209.1" y="84.2" width="0.75" height="0.75" fill="#999"/>
<rect x="209.7" y="80.0" width="0.75" height="0.75" fill="#999"/>
<rect x="199.0" y="66.1" width="0.75" height="0.75" fill="#999"/>
<rect x="204.7" y="92.6" width="0.75" height="0.75" fill="#999"/>
<rect x="209.8" y="90.0" width="0.75" height="0.75" fill="#999"/>
<rect x="199.1" y="67.5" width="0.75" height="0.75" fill="#999"/>
<rect x="200.0" y="103.6" width="0.75" height="0.75" fill="#999"/>
<rect x="204.6" y="105.9" width="0.75" height="0.75" fill="#999"/>
<rect x="206.1" y="87.2" width="0.75" height="0.75" fill="#999"/>
<rect x="204.6" y="91.0" width="0.75" height="0.75" fill="#999"/>
<rect x="194.6" y="107.6" width="0.75" height="0.75" fill="#999"/>
<rect x="202.8" y="71.3" width="0.75" height="0.75" fill="#999"/>
<rect x="203.1" y="93.1" width="0.75" height="0.75" fill="#999"/>
<rect x="205.5" y="107.1" width="0.75" height="0.75" fill="#999"/>
<rect x="190.6" y="92.7" width="0.75" height="0.75" fill="#999"/>
<rect x="208.1" y="75.7" width="0.75" height="0.75" fill="#999"/>
<rect x="191.5" y="91.5" width="0.75" height="0.75" fill="#999"/>
<rect x="202.8" y="94.3" width="0.75" height="0.75" fill="#999"/>
<rect x="193.9" y="80.7" width="0.75" height="0.75" fill="#999"/>
<rect x="201.8" y="100.7" width="0.75" height="0.75" fill="#999"/>
<rect x="210.0" y="91.3" width="0.75" height="0.75" fill="#999"/>
<rect x="198.1" y="63.3" width="0.75" height="0.75" fill="#999"/>
<rect x="207.1" y="85.9" width="0.75" height="0.75" fill="#999"/>
<rect x="199.8" y="71.8" width="0.75" height="0.75" fill="#999"/>
<rect x="204.0" y="65.7" width="0.75" height="0.75" fill="#999"/>
<rect x="201.3" y="90.2" width="0.75" height="0.75" fill="#999"/>
<rect x="202.2" y="107.6" width="0.75" height="0.75" fill="#999"/>
<rect x="199.8" y="89.7" width="0.75" height="0.75" fill="#999"/>
<rect x="204.8" y="67.6" width="0.75" height="0.75" fill="#999"/>
<rect x="198.5" y="89.2" width="0.75" height="0.75" fill="#999"/>
<rect x="206.1" y="75.7" width="0.75" height="0.75" fill="#999"/>
<rect x="205.7" y="94.4" width="0.75" height="0.75" fill="#999"/>
<rect x="193.8" y="70.6" width="0.75" height="0.75" fill="#999"/>
<rect x="192.5" y="90.0" width="0.75" height="0.75" fill="#999"/>
<rect x="201.9" y="100.5" width="0.75" height="0.75" fill="#999"/>
<rect x="205.7" y="78.9" width="0.75" height="0.75" fill="#999"/>
<rect x="206.7" y="100.3" width="0.75" height="0.75" fill="#999"/>
<rect x="203.7" y="96.4" width="0.75" height="0.75" fill="#999"/>
<rect x="193.1" y="93.4" width="0.75" height="0.75" fill="#999"/>
<rect x="195.0" y="71.3" width="0.75" height="0.75" fill="#999"/>
<rect x="198.1" y="90.5" width="0.75" height="0.75" fill="#999"/>
<rect x="200.1" y="82.0" width="0.75" height="0.75" fill="#999"/>
<rect x="194.2" y="91.0" width="0.75" height="0.75" fill="#999"/>
<rect x="196.5" y="68.4" width="0.75" height="0.75" fill="#999"/>
<rect x="201.0" y="109.1" width="0.75" height="0.75" fill="#999"/>
<rect x="198.0" y="71.2" width="0.75" height="0.75" fill="#999"/>
<rect x="206.5" y="107.5" width="0.75" height="0.75" fill="#999"/>
<rect x="198.4" y="84.2" width="0.75" height="0.75" fill="#999"/>
<rect x="201.2" y="114.0" width="0.75" height="0.75" fill="#999"/>
<rect x="201.3" y="104.3" width="0.75" height="0.75" fill="#999"/>
<rect x="202.7" y="64.9" width="0.75" height="0.75" fill="#999"/>
<rect x="194.7" y="71.1" width="0.75" height="0.75" fill="#999"/>
<rect x="203.5" y="89.9" width="0.75" height="0.75" fill="#999"/>
<rect x="209.4" y="84.5" width="0.75" height="0.75" fill="#999"/>
<rect x="202.7" y="89.4" width="0.75" height="0.75" fill="#999"/>
<rect x="201.1" y="113.3" width="0.75" height="0.75" fill="#999"/>
<rect x="202.1" y="109.1" width="0.75" height="0.75" fill="#999"/>
<rect x="207.8" y="79.1" width="0.75" height="0.75" fill="#999"/>
<rect x="205.0" y="81.5" width="0.75" height="0.75" fill="#999"/>
<rect x="201.3" y="90.9" width="0.75" height="0.75" fill="#999"/>
<rect x="200.6" y="79.6" width="0.75" height="0.75" fill="#999"/>
<rect x="208.9" y="84.3" width="0.75" height="0.75" fill="#999"/>
<rect x="204.0" y="109.8" width="0.75" height="0.75" fill="#999"/>
<rect x="204.3" y="104.0" width="0.75" height="0.75" fill="#999"/>
<rect x="207.5" y="102.4" width="0.75" height="0.75" fill="#999"/>
<rect x="207.9" y="71.9" width="0.75" height="0.75" fill="#999"/>
<rect x="209.8" y="88.3" width="0.75" height="0.75" fill="#999"/>
<rect x="191.9" y="79.8" width="0.75" height="0.75" fill="#999"/>
<rect x="192.6" y="87.7" width="0.75" height="0.75" fill="#999"/>
<rect x="193.0" y="74.9" width="0.75" height="0.75" fill="#999"/>
<rect x="202.6" y="90.9" width="0.75" height="0.75" fill="#999"/>
<rect x="195.3" y="84.0" width="0.75" height="0.75" fill="#999"/>
<rect x="199.8" y="89.4" width="0.75" height="0.75" fill="#999"/>
<rect x="200.5" y="83.9" width="0.75" height="0.75" fill="#999"/>
<rect x="204.9" y="67.3" width="0.75" height="0.75" fill="#999"/>
<rect x="197.1" y="90.4" width="0.75" height="0.75" fill="#999"/>
<rect x="197.8" y="78.3" width="0.75" height="0.75" fill="#999"/>
<rect x="197.5" y="91.8" width="0.75" height="0.75" fill="#999"/>
<rect x="207.9" y="85.1" width="0.75" height="0.75" fill="#999"/>
<rect x="198.6" y="94.4" width="0.75" height="0.75" fill="#999"/>
<rect x="199.3" y="64.0" width="0.75" height="0.75" fill="#999"/>
<rect x="202.4" y="81.2" width="0.75" height="0.75" fill="#999"/>
<rect x="196.8" y="98.7" width="0.75" height="0.75" fill="#999"/>
<rect x="200.8" y="77.9" width="0.75" height="0.75" fill="#999"/>
<rect x="192.7" y="71.9" width="0.75" height="0.75" fill="#999"/>
<rect x="200.6" y="85.8" width="0.75" height="0.75" fill="#999"/>
<rect x="203.5" y="92.0" width="0.75" height="0.75" fill="#999"/>
<rect x="197.7" y="69.0" width="0.75" height="0.75" fill="#999"/>
<rect x="193.8" y="85.8" width="0.75" height="0.75" fill="#999"/>
<rect x="193.9" y="99.3" width="0.75" height="0.75" fill="#999"/>
<rect x="194.8" y="67.8" width="0.75" height="0.75" fill="#999"/>
<rect x="199.5" y="64.7" width="0.75" height="0.75" fill="#999"/>
<rect x="208.4" y="75.5" width="0.75" height="0.75" fill="#999"/>
<rect x="200.1" y="83.5" width="0.75" height="0.75" fill="#999"/>
<rect x="196.6" y="66.0" width="0.75" height="0.75" fill="#999"/>
<rect x="191.9" y="98.4" width="0.75" height="0.75" fill="#999"/>
<rect x="204.7" y="111.0" width="0.75" height="0.75" fill="#999"/>
<rect x="192.6" y="95.9" width="0.75" height="0.75" fill="#999"/>
<rect x="200.4" y="102.4" width="0.75" height="0.75" fill="#999"/>
<rect x="197.2" y="100.2" width="0.75" height="0.75" fill="#999"/>
<rect x="206.1" y="97.8" width="0.75" height="0.75" fill="#999"/>
<rect x="208.6" y="85.5" width="0.75" height="0.75" fill="#999"/>
<rect x="208.5" y="78.5" width="0.75" height="0.75" fill="#999"/>
<rect x="205.7" y="65.6" width="0.75" height="0.75" fill="#999"/>
<rect x="200.6" y="74.3" width="0.75" height="0.75" fill="#999"/>
<rect x="200.5" y="104.9" width="0.75" height="0.75" fill="#999"/>
<rect x="205.3" y="89.7" width="0.75" height="0.75" fill="#999"/>
<rect x="207.8" y="71.5" width="0.75" height="0.75" fill="#999"/>
<rect x="196.3" y="108.3" width="0.75" height="0.75" fill="#999"/>
<rect x="202.0" y="63.5" width="0.75" height="0.75" fill="#999"/>
<rect x="202.5" y="69.6" width="0.75" height="0.75" fill="#999"/>
<rect x="207.7" y="102.6" width="0.75" height="0.75" fill="#999"/>
<polygon points="206.85,104.00 207.38,104.88 206.75,105.62 206.79,106.52 207.12,107.70 205.42,107.55 205.42,108.64 204.94,109.39 204.14,109.69 203.68,110.79 202.56,110.10 201.91,111.24 201.00,110.87 200.08,111.35 199.59,109.51 198.83,109.49 198.10,109.27 196.77,109.79 197.26,107.93 196.44,107.67 195.28,107.46 194.43,106.85 195.59,105.52 194.97,104.83 194.45,104.00 194.50,103.10 194.57,102.19 194.84,101.32 196.04,101.00 196.44,100.33 197.24,100.06 197.01,98.55 198.17,98.86 198.80,98.43 199.17,96.85 200.16,97.28 201.00,97.32 201.85,97.25 202.65,97.54 203.51,97.64 203.92,98.70 204.28,99.52 204.81,100.00 205.20,100.62 206.15,100.89 206.11,101.78 206.29,102.51 207.14,103.15" fill="#d2d2d2" stroke="#777" stroke-width="0.7"/>
<polygon points="205.56,104.00 205.27,104.59 204.79,105.07 205.05,105.76 204.33,106.01 203.99,106.41 203.80,106.93 203.47,107.37 203.15,107.91 202.56,107.95 202.12,108.40 201.49,107.91 201.00,108.75 200.48,108.15 199.85,108.49 199.58,107.59 198.78,108.02 198.64,107.23 197.85,107.30 197.50,106.81 197.29,106.25 197.37,105.58 197.44,105.00 197.18,104.53 196.50,104.00 197.21,103.48 196.87,102.84 197.11,102.31 197.29,101.76 197.95,101.55 198.31,101.18 198.71,100.87 198.71,99.85 199.46,100.10 199.89,99.67 200.45,99.64 201.00,99.93 201.49,100.12 201.96,100.26 202.70,99.69 202.90,100.55 203.77,100.21 203.84,101.03 204.44,101.23 204.29,102.01 205.06,102.24 204.77,102.94 204.98,103.45" fill="#c0c0c0" stroke="#777" stroke-width="0.6"/>
<polygon points="203.07,104.00 202.94,104.27 202.93,104.54 202.99,104.86 202.74,105.05 202.61,105.30 202.52,105.59 202.21,105.65 201.99,105.80 201.76,105.92 201.53,106.06 201.26,106.11 201.00,106.21 200.73,106.14 200.44,106.20 200.26,105.88 199.94,105.92 199.68,105.80 199.59,105.48 199.47,105.23 199.23,105.07 199.19,104.78 199.01,104.56 198.89,104.29 199.05,104.00 199.06,103.73 199.01,103.44 199.18,103.21 199.28,102.96 199.37,102.69 199.62,102.55 199.82,102.39 199.99,102.16 200.21,102.01 200.43,101.78 200.73,101.84 201.00,101.96 201.26,101.94 201.55,101.84 201.80,101.98 202.09,102.03 202.34,102.17 202.53,102.39 202.55,102.75 202.90,102.85 202.92,103.17 202.92,103.46 202.95,103.73" fill="#a8a8a8" stroke="#777" stroke-width="0.6"/>
<circle cx="201" cy="104" r="0.9" fill="#fff"/>
<polygon points="210.42,85.00 208.89,87.48 208.41,89.73 208.46,92.37 209.27,96.38 207.75,97.35 207.45,100.37 205.66,99.46 205.25,102.54 204.14,103.04 203.06,103.28 202.17,106.19 201.00,104.76 199.99,103.32 198.49,107.29 197.72,103.85 197.06,101.28 196.43,99.20 194.68,100.07 194.15,97.53 194.47,93.98 193.12,92.78 192.17,90.64 192.39,87.70 192.99,85.00 192.48,82.32 192.47,79.55 192.74,76.85 194.24,75.70 193.64,71.54 194.21,68.82 195.44,67.72 196.30,65.60 197.82,66.71 198.54,63.13 199.97,66.36 201.00,65.96 202.15,64.16 203.46,63.13 203.93,68.12 204.98,68.55 205.60,70.70 206.98,70.73 207.19,73.69 207.85,75.57 209.46,76.65 209.49,79.58 210.50,82.02" fill="#d6d6d6" stroke="#707070" stroke-width="0.7"/>
<polygon points="208.01,85.00 208.39,87.32 207.16,88.93 208.29,92.20 206.83,93.02 206.66,95.35 206.08,97.11 205.81,99.93 204.58,99.77 204.05,102.54 202.91,101.95 201.88,100.85 201.00,103.38 200.13,100.79 198.94,103.37 198.28,100.63 197.64,98.88 196.18,99.97 196.14,96.59 195.43,95.18 195.01,93.24 194.13,91.79 194.83,88.94 194.10,87.17 194.38,85.00 193.37,82.60 194.86,81.08 194.22,78.30 195.13,76.93 195.37,74.71 195.86,72.75 196.43,70.80 197.71,71.42 198.42,70.15 199.30,69.92 199.97,66.30 201.00,69.28 201.86,69.46 202.86,68.42 203.79,68.93 204.90,68.91 204.92,72.81 205.76,73.65 206.26,75.38 207.33,76.29 207.55,78.53 207.78,80.67 208.73,82.57" fill="#c6c6c6" stroke="#707070" stroke-width="0.6"/>
<polygon points="206.91,85.00 207.08,86.91 207.03,88.85 206.06,90.00 206.39,92.42 205.47,93.17 204.70,93.83 204.77,96.71 203.65,95.93 202.99,96.45 202.42,97.66 201.72,98.00 201.00,99.90 200.20,99.52 199.54,98.00 198.79,97.70 197.94,97.63 197.30,96.49 196.83,94.95 196.44,93.34 196.40,91.33 195.97,89.97 195.29,88.65 195.22,86.81 194.93,85.00 194.88,83.08 194.97,81.15 196.02,80.08 196.44,78.73 196.10,76.04 196.89,75.20 197.72,74.83 198.03,72.72 198.91,72.97 199.59,72.47 200.27,71.80 201.00,71.27 201.77,70.99 202.36,72.89 203.30,71.78 203.94,72.88 204.47,74.22 205.19,75.01 205.81,76.20 205.49,78.81 206.27,79.79 206.73,81.34 206.91,83.14" fill="#b4b4b4" stroke="#707070" stroke-width="0.6"/>
<polygon points="205.40,85.00 205.05,86.27 205.46,87.85 205.15,89.10 204.56,89.91 204.37,91.17 204.26,92.78 203.50,92.75 203.12,93.75 202.77,95.17 202.18,95.53 201.54,94.73 201.00,95.64 200.45,94.93 199.86,95.16 199.28,94.87 198.98,93.35 198.50,92.77 198.10,91.92 197.72,91.01 197.55,89.74 197.26,88.69 196.91,87.61 196.79,86.32 196.99,85.00 196.68,83.64 196.55,82.16 196.98,81.03 197.36,79.99 197.48,78.56 197.99,77.82 198.52,77.29 198.86,76.15 199.48,76.26 199.86,74.82 200.47,75.39 201.00,74.96 201.60,74.09 202.16,74.68 202.73,75.02 203.20,75.92 203.67,76.69 204.14,77.51 204.67,78.29 204.54,80.12 205.14,80.91 205.02,82.43 205.10,83.71" fill="#a2a2a2" stroke="#707070" stroke-width="0.6"/>
<polygon points="203.98,85.00 203.88,85.90 203.89,86.85 203.77,87.74 203.51,88.46 203.19,89.00 202.90,89.54 202.75,90.45 202.47,91.09 202.07,91.13 201.70,91.24 201.35,91.35 201.00,91.55 200.62,91.94 200.30,91.19 199.94,91.10 199.61,90.74 199.21,90.57 198.85,90.13 198.86,88.91 198.64,88.25 198.21,87.76 198.07,86.87 198.28,85.85 198.19,85.00 198.15,84.11 198.29,83.27 198.38,82.41 198.52,81.59 198.80,80.97 199.09,80.44 199.35,79.86 199.63,79.34 199.96,79.01 200.25,78.30 200.62,78.06 201.00,78.37 201.39,77.97 201.76,78.21 202.08,78.81 202.43,79.09 202.68,79.79 203.14,79.91 203.29,80.81 203.34,81.78 203.53,82.50 203.84,83.19 203.80,84.12" fill="#929292" stroke="#707070" stroke-width="0.6"/>
<polygon points="202.46,85.00 202.39,85.43 202.42,85.91 202.36,86.34 202.19,86.64 202.15,87.10 201.98,87.35 201.89,87.76 201.74,88.04 201.56,88.24 201.36,88.22 201.18,88.26 201.00,88.47 200.81,88.41 200.64,88.19 200.47,88.07 200.28,87.98 200.16,87.61 199.97,87.45 199.89,87.03 199.79,86.67 199.69,86.30 199.61,85.89 199.55,85.46 199.63,85.00 199.55,84.54 199.65,84.14 199.70,83.72 199.74,83.27 199.84,82.88 199.98,82.56 200.09,82.19 200.30,82.12 200.46,81.90 200.62,81.65 200.82,81.69 201.00,81.69 201.18,81.70 201.38,81.62 201.57,81.75 201.73,81.98 201.91,82.17 202.04,82.52 202.12,82.96 202.22,83.32 202.35,83.67 202.33,84.15 202.44,84.55" fill="#888" stroke="#707070" stroke-width="0.6"/>
<ellipse cx="201" cy="85" rx="0.6" ry="4.51" fill="#fff"/>
<rect x="190" y="63.3" width="20.4" height="36.3" fill="none" stroke="#555" stroke-width="0.75"/>
<polyline points="255.9,100.2 255.9,112.3 209.8,112.3 209.8,99.6" fill="none" stroke="#555" stroke-width="0.8"/>
<line x1="190.00" y1="99.60" x2="248.50" y2="99.60" stroke="#555" stroke-width="0.75" />
<line x1="248.50" y1="99.60" x2="255.90" y2="99.60" stroke="#ccc" stroke-width="0.75" />
<text x="190.80" y="52.80" font-size="6.6" text-anchor="start" font-weight="normal" font-style="normal" fill="#000" >CD11b+ CD19−</text>
<text x="213.50" y="60.70" font-size="6.6" text-anchor="middle" font-weight="normal" font-style="normal" fill="#000" >90.9</text>
<text x="256.50" y="90.60" font-size="6.6" text-anchor="middle" font-weight="normal" font-style="normal" fill="#000" >CD19+</text>
<text x="256.50" y="97.70" font-size="6.6" text-anchor="middle" font-weight="normal" font-style="normal" fill="#000" >2.02</text>
<line x1="343.50" y1="115.00" x2="343.50" y2="28.50" stroke="#1a1a1a" stroke-width="1.0" />
<line x1="340.50" y1="114.40" x2="343.50" y2="114.40" stroke="#1a1a1a" stroke-width="0.9" />
<text x="337.70" y="116.95" font-size="7.7" text-anchor="end" font-weight="normal" font-style="normal" fill="#000" >0</text>
<line x1="340.50" y1="93.05" x2="343.50" y2="93.05" stroke="#1a1a1a" stroke-width="0.9" />
<text x="337.70" y="95.60" font-size="7.7" text-anchor="end" font-weight="normal" font-style="normal" fill="#000" >10</text>
<line x1="340.50" y1="71.70" x2="343.50" y2="71.70" stroke="#1a1a1a" stroke-width="0.9" />
<text x="337.70" y="74.25" font-size="7.7" text-anchor="end" font-weight="normal" font-style="normal" fill="#000" >20</text>
<line x1="340.50" y1="50.35" x2="343.50" y2="50.35" stroke="#1a1a1a" stroke-width="0.9" />
<text x="337.70" y="52.90" font-size="7.7" text-anchor="end" font-weight="normal" font-style="normal" fill="#000" >30</text>
<line x1="340.50" y1="29.00" x2="343.50" y2="29.00" stroke="#1a1a1a" stroke-width="0.9" />
<text x="337.70" y="31.55" font-size="7.7" text-anchor="end" font-weight="normal" font-style="normal" fill="#000" >40</text>
<line x1="343.00" y1="114.40" x2="429.00" y2="114.40" stroke="#1a1a1a" stroke-width="1.25" />
<text x="322.20" y="72.20" font-size="7.9" font-weight="normal" text-anchor="middle" fill="#000" stroke="#000" stroke-width="0.15" transform="rotate(-90 322.20 72.20)" textLength="77.5" lengthAdjust="spacingAndGlyphs">Number of BM cells (×10<tspan font-size="5.6" dy="-3">6</tspan><tspan dy="3">)</tspan></text>
<rect x="348.80" y="107.10" width="8.80" height="7.30" fill="#e48a9a" />
<rect x="357.60" y="113.30" width="8.80" height="1.10" fill="#83a9c9" />
<line x1="353.20" y1="104.50" x2="353.20" y2="107.10" stroke="#222" stroke-width="0.9" />
<line x1="351.30" y1="104.50" x2="355.10" y2="104.50" stroke="#222" stroke-width="0.9" />
<circle cx="352.60" cy="102.40" r="1.25" fill="#c8102e"/>
<circle cx="350.60" cy="104.60" r="1.25" fill="#c8102e"/>
<circle cx="354.60" cy="104.80" r="1.25" fill="#c8102e"/>
<circle cx="351.00" cy="110.00" r="1.25" fill="#c8102e"/>
<circle cx="353.50" cy="110.20" r="1.25" fill="#c8102e"/>
<circle cx="356.00" cy="110.00" r="1.25" fill="#c8102e"/>
<circle cx="359.50" cy="113.00" r="1.25" fill="#0a4c8c"/>
<circle cx="361.50" cy="112.80" r="1.25" fill="#0a4c8c"/>
<circle cx="363.50" cy="113.10" r="1.25" fill="#0a4c8c"/>
<circle cx="365.00" cy="113.00" r="1.25" fill="#0a4c8c"/>
<circle cx="360.50" cy="113.80" r="1.25" fill="#0a4c8c"/>
<circle cx="362.50" cy="113.70" r="1.25" fill="#0a4c8c"/>
<circle cx="364.30" cy="113.60" r="1.25" fill="#0a4c8c"/>
<rect x="376.80" y="113.80" width="8.80" height="0.60" fill="#e48a9a" />
<rect x="385.60" y="113.20" width="8.80" height="1.20" fill="#83a9c9" />
<circle cx="379.00" cy="113.80" r="1.25" fill="#c8102e"/>
<circle cx="381.00" cy="113.60" r="1.25" fill="#c8102e"/>
<circle cx="383.00" cy="113.80" r="1.25" fill="#c8102e"/>
<circle cx="380.00" cy="114.00" r="1.25" fill="#c8102e"/>
<circle cx="382.00" cy="113.90" r="1.25" fill="#c8102e"/>
<circle cx="387.50" cy="113.20" r="1.25" fill="#0a4c8c"/>
<circle cx="389.50" cy="112.80" r="1.25" fill="#0a4c8c"/>
<circle cx="391.50" cy="113.20" r="1.25" fill="#0a4c8c"/>
<circle cx="388.50" cy="113.60" r="1.25" fill="#0a4c8c"/>
<circle cx="390.50" cy="113.50" r="1.25" fill="#0a4c8c"/>
<circle cx="392.50" cy="113.60" r="1.25" fill="#0a4c8c"/>
<rect x="405.50" y="87.10" width="9.20" height="27.30" fill="#e48a9a" />
<rect x="414.70" y="73.80" width="9.20" height="40.60" fill="#83a9c9" />
<line x1="410.10" y1="81.40" x2="410.10" y2="87.10" stroke="#222" stroke-width="0.9" />
<line x1="408.20" y1="81.40" x2="412.00" y2="81.40" stroke="#222" stroke-width="0.9" />
<line x1="419.30" y1="57.60" x2="419.30" y2="73.80" stroke="#222" stroke-width="0.9" />
<line x1="417.40" y1="57.60" x2="421.20" y2="57.60" stroke="#222" stroke-width="0.9" />
<circle cx="407.00" cy="81.80" r="1.25" fill="#c8102e"/>
<circle cx="413.30" cy="81.80" r="1.25" fill="#c8102e"/>
<circle cx="410.50" cy="87.10" r="1.25" fill="#c8102e"/>
<circle cx="407.00" cy="89.80" r="1.25" fill="#c8102e"/>
<circle cx="411.20" cy="92.40" r="1.25" fill="#c8102e"/>
<circle cx="410.50" cy="96.60" r="1.25" fill="#c8102e"/>
<circle cx="419.60" cy="48.60" r="1.25" fill="#0a4c8c"/>
<circle cx="419.60" cy="63.30" r="1.25" fill="#0a4c8c"/>
<circle cx="416.20" cy="68.80" r="1.25" fill="#0a4c8c"/>
<circle cx="423.20" cy="68.80" r="1.25" fill="#0a4c8c"/>
<circle cx="419.60" cy="73.80" r="1.25" fill="#0a4c8c"/>
<circle cx="422.50" cy="81.40" r="1.25" fill="#0a4c8c"/>
<circle cx="422.50" cy="87.10" r="1.25" fill="#0a4c8c"/>
<circle cx="419.60" cy="99.10" r="1.25" fill="#0a4c8c"/>
<polyline points="353.00,96.60 353.00,89.20 362.70,89.20 362.70,109.20" fill="none" stroke="#333" stroke-width="0.95"/>
<circle cx="356.40" cy="84.60" r="0.95" fill="#111"/>
<circle cx="359.30" cy="84.60" r="0.95" fill="#111"/>
<polyline points="409.90,71.70 409.90,35.10 419.60,35.10 419.60,41.40" fill="none" stroke="#333" stroke-width="0.95"/>
<circle cx="414.75" cy="31.30" r="0.95" fill="#111"/>
<text x="356.80" y="125.20" font-size="7.7" text-anchor="middle" font-weight="normal" font-style="normal" fill="#000" >CD19<tspan font-size="5.6" dy="-3">+</tspan><tspan dy="3"></tspan></text>
<text x="386.00" y="125.20" font-size="7.7" text-anchor="middle" font-weight="normal" font-style="normal" fill="#000" >CD3<tspan font-size="5.6" dy="-3">+</tspan><tspan dy="3"></tspan></text>
<text x="415.00" y="125.20" font-size="7.7" text-anchor="middle" font-weight="normal" font-style="normal" fill="#000" >CD11b<tspan font-size="5.6" dy="-3">+</tspan><tspan dy="3"></tspan></text>
<text x="414.00" y="133.20" font-size="7.7" text-anchor="middle" font-weight="normal" font-style="normal" fill="#000" >CD19<tspan font-size="5.6" dy="-3">−</tspan><tspan dy="3"></tspan></text>
<rect x="440.00" y="31.30" width="5.60" height="5.60" fill="#e48a9a" />
<rect x="440.00" y="44.90" width="5.60" height="5.60" fill="#83a9c9" />
<text x="448.50" y="37.30" font-size="7.2" text-anchor="start" font-weight="normal" font-style="italic" fill="#000" >Il10<tspan font-size="5" dy="-2.8">+/+</tspan></text>
<text x="448.50" y="50.90" font-size="7.2" text-anchor="start" font-weight="normal" font-style="italic" fill="#000" >Il10<tspan font-size="5" dy="-2.8">−/−</tspan></text>
<text x="8.20" y="157.80" font-size="10.4" text-anchor="start" font-weight="bold" font-style="normal" fill="#000" >B</text>
<line x1="35.50" y1="253.90" x2="35.50" y2="167.60" stroke="#1a1a1a" stroke-width="1.0" />
<line x1="32.50" y1="253.30" x2="35.50" y2="253.30" stroke="#1a1a1a" stroke-width="0.9" />
<text x="29.30" y="255.85" font-size="7.7" text-anchor="end" font-weight="normal" font-style="normal" fill="#000" >0</text>
<line x1="32.50" y1="232.00" x2="35.50" y2="232.00" stroke="#1a1a1a" stroke-width="0.9" />
<text x="29.30" y="234.55" font-size="7.7" text-anchor="end" font-weight="normal" font-style="normal" fill="#000" >2</text>
<line x1="32.50" y1="210.70" x2="35.50" y2="210.70" stroke="#1a1a1a" stroke-width="0.9" />
<text x="29.30" y="213.25" font-size="7.7" text-anchor="end" font-weight="normal" font-style="normal" fill="#000" >4</text>
<line x1="32.50" y1="189.40" x2="35.50" y2="189.40" stroke="#1a1a1a" stroke-width="0.9" />
<text x="29.30" y="191.95" font-size="7.7" text-anchor="end" font-weight="normal" font-style="normal" fill="#000" >6</text>
<line x1="32.50" y1="168.10" x2="35.50" y2="168.10" stroke="#1a1a1a" stroke-width="0.9" />
<text x="29.30" y="170.65" font-size="7.7" text-anchor="end" font-weight="normal" font-style="normal" fill="#000" >8</text>
<line x1="35.00" y1="253.30" x2="150.00" y2="253.30" stroke="#1a1a1a" stroke-width="1.25" />
<text x="19.10" y="210.40" font-size="7.9" font-weight="normal" text-anchor="middle" fill="#000" stroke="#000" stroke-width="0.15" transform="rotate(-90 19.10 210.40)" textLength="78" lengthAdjust="spacingAndGlyphs">Number of BM cells (×10<tspan font-size="5.6" dy="-3">6</tspan><tspan dy="3">)</tspan></text>
<rect x="41.30" y="251.38" width="8.90" height="1.92" fill="#e48a9a" />
<rect x="50.20" y="252.24" width="8.90" height="1.06" fill="#83a9c9" />
<line x1="45.75" y1="250.11" x2="45.75" y2="251.38" stroke="#222" stroke-width="0.9" />
<line x1="43.85" y1="250.11" x2="47.65" y2="250.11" stroke="#222" stroke-width="0.9" />
<circle cx="43.00" cy="248.51" r="1.25" fill="#c8102e"/>
<circle cx="45.00" cy="247.98" r="1.25" fill="#c8102e"/>
<circle cx="44.00" cy="250.64" r="1.25" fill="#c8102e"/>
<circle cx="46.50" cy="251.70" r="1.25" fill="#c8102e"/>
<circle cx="48.00" cy="252.24" r="1.25" fill="#c8102e"/>
<circle cx="43.50" cy="252.24" r="1.25" fill="#c8102e"/>
<circle cx="47.00" cy="250.11" r="1.25" fill="#c8102e"/>
<circle cx="52.00" cy="252.24" r="1.25" fill="#0a4c8c"/>
<circle cx="54.00" cy="252.45" r="1.25" fill="#0a4c8c"/>
<circle cx="56.00" cy="252.24" r="1.25" fill="#0a4c8c"/>
<circle cx="53.00" cy="252.77" r="1.25" fill="#0a4c8c"/>
<circle cx="57.00" cy="252.55" r="1.25" fill="#0a4c8c"/>
<rect x="70.00" y="218.16" width="8.90" height="35.14" fill="#e48a9a" />
<rect x="78.90" y="249.57" width="8.90" height="3.73" fill="#83a9c9" />
<line x1="74.45" y1="200.58" x2="74.45" y2="218.16" stroke="#222" stroke-width="0.9" />
<line x1="72.55" y1="200.58" x2="76.35" y2="200.58" stroke="#222" stroke-width="0.9" />
<line x1="83.35" y1="248.29" x2="83.35" y2="249.57" stroke="#222" stroke-width="0.9" />
<line x1="81.45" y1="248.29" x2="85.25" y2="248.29" stroke="#222" stroke-width="0.9" />
<circle cx="74.00" cy="191.53" r="1.25" fill="#c8102e"/>
<circle cx="74.00" cy="204.31" r="1.25" fill="#c8102e"/>
<circle cx="74.00" cy="213.90" r="1.25" fill="#c8102e"/>
<circle cx="71.00" cy="233.49" r="1.25" fill="#c8102e"/>
<circle cx="74.50" cy="230.51" r="1.25" fill="#c8102e"/>
<circle cx="77.00" cy="232.53" r="1.25" fill="#c8102e"/>
<circle cx="80.00" cy="248.51" r="1.25" fill="#0a4c8c"/>
<circle cx="82.00" cy="249.57" r="1.25" fill="#0a4c8c"/>
<circle cx="84.00" cy="250.11" r="1.25" fill="#0a4c8c"/>
<circle cx="86.00" cy="249.25" r="1.25" fill="#0a4c8c"/>
<circle cx="81.00" cy="251.17" r="1.25" fill="#0a4c8c"/>
<circle cx="85.00" cy="250.64" r="1.25" fill="#0a4c8c"/>
<rect x="98.70" y="252.30" width="8.90" height="1.00" fill="#e48a9a" />
<rect x="107.60" y="252.60" width="8.90" height="0.70" fill="#83a9c9" />
<circle cx="99.50" cy="251.60" r="1.25" fill="#c8102e"/>
<circle cx="101.50" cy="251.30" r="1.25" fill="#c8102e"/>
<circle cx="103.50" cy="251.60" r="1.25" fill="#c8102e"/>
<circle cx="105.50" cy="251.50" r="1.25" fill="#c8102e"/>
<circle cx="100.50" cy="252.30" r="1.25" fill="#c8102e"/>
<circle cx="104.50" cy="252.40" r="1.25" fill="#c8102e"/>
<circle cx="108.50" cy="252.00" r="1.25" fill="#0a4c8c"/>
<circle cx="110.50" cy="252.10" r="1.25" fill="#0a4c8c"/>
<circle cx="112.50" cy="252.00" r="1.25" fill="#0a4c8c"/>
<circle cx="114.50" cy="252.10" r="1.25" fill="#0a4c8c"/>
<circle cx="109.50" cy="252.60" r="1.25" fill="#0a4c8c"/>
<circle cx="113.50" cy="252.60" r="1.25" fill="#0a4c8c"/>
<rect x="127.40" y="244.10" width="8.90" height="9.20" fill="#e48a9a" />
<rect x="136.30" y="251.80" width="8.90" height="1.50" fill="#83a9c9" />
<line x1="131.85" y1="239.60" x2="131.85" y2="244.10" stroke="#222" stroke-width="0.9" />
<line x1="129.95" y1="239.60" x2="133.75" y2="239.60" stroke="#222" stroke-width="0.9" />
<circle cx="131.50" cy="236.90" r="1.25" fill="#c8102e"/>
<circle cx="131.50" cy="240.60" r="1.25" fill="#c8102e"/>
<circle cx="129.90" cy="244.90" r="1.25" fill="#c8102e"/>
<circle cx="132.20" cy="245.20" r="1.25" fill="#c8102e"/>
<circle cx="134.40" cy="245.20" r="1.25" fill="#c8102e"/>
<circle cx="128.60" cy="248.00" r="1.25" fill="#c8102e"/>
<circle cx="137.90" cy="249.60" r="1.25" fill="#0a4c8c"/>
<circle cx="138.90" cy="251.20" r="1.25" fill="#0a4c8c"/>
<circle cx="140.60" cy="251.00" r="1.25" fill="#0a4c8c"/>
<circle cx="142.30" cy="251.20" r="1.25" fill="#0a4c8c"/>
<circle cx="143.80" cy="251.40" r="1.25" fill="#0a4c8c"/>
<circle cx="139.50" cy="250.30" r="1.25" fill="#0a4c8c"/>
<polyline points="73.30,186.50 73.30,181.00 83.20,181.00 83.20,237.40" fill="none" stroke="#333" stroke-width="0.95"/>
<circle cx="76.80" cy="176.40" r="0.95" fill="#111"/>
<circle cx="79.70" cy="176.40" r="0.95" fill="#111"/>
<polyline points="131.50,233.00 131.50,227.50 141.00,227.50 141.00,244.70" fill="none" stroke="#333" stroke-width="0.95"/>
<circle cx="134.80" cy="222.90" r="0.95" fill="#111"/>
<circle cx="137.70" cy="222.90" r="0.95" fill="#111"/>
<text x="53.70" y="259.70" font-size="7.7" text-anchor="end" font-weight="normal" font-style="normal" fill="#000" transform="rotate(-45 53.70 259.70)" >Pro-B</text>
<text x="82.40" y="259.70" font-size="7.7" text-anchor="end" font-weight="normal" font-style="normal" fill="#000" transform="rotate(-45 82.40 259.70)" >Pre-B</text>
<text x="111.10" y="259.70" font-size="7.7" text-anchor="end" font-weight="normal" font-style="normal" fill="#000" transform="rotate(-45 111.10 259.70)" >IgM<tspan font-size="5.4" dy="-2.8">+</tspan><tspan dy="2.8"> B</tspan></text>
<text x="139.80" y="259.70" font-size="7.7" text-anchor="end" font-weight="normal" font-style="normal" fill="#000" transform="rotate(-45 139.80 259.70)" >MR B</text>
<text x="160.40" y="157.80" font-size="10.4" text-anchor="start" font-weight="bold" font-style="normal" fill="#000" >C</text>
<line x1="193.50" y1="254.00" x2="193.50" y2="167.60" stroke="#1a1a1a" stroke-width="1.0" />
<line x1="190.50" y1="253.40" x2="193.50" y2="253.40" stroke="#1a1a1a" stroke-width="0.9" />
<text x="187.10" y="255.95" font-size="7.7" text-anchor="end" font-weight="normal" font-style="normal" fill="#000" >0</text>
<line x1="190.50" y1="236.35" x2="193.50" y2="236.35" stroke="#1a1a1a" stroke-width="0.9" />
<text x="187.10" y="238.90" font-size="7.7" text-anchor="end" font-weight="normal" font-style="normal" fill="#000" >20</text>
<line x1="190.50" y1="219.30" x2="193.50" y2="219.30" stroke="#1a1a1a" stroke-width="0.9" />
<text x="187.10" y="221.85" font-size="7.7" text-anchor="end" font-weight="normal" font-style="normal" fill="#000" >40</text>
<line x1="190.50" y1="202.25" x2="193.50" y2="202.25" stroke="#1a1a1a" stroke-width="0.9" />
<text x="187.10" y="204.80" font-size="7.7" text-anchor="end" font-weight="normal" font-style="normal" fill="#000" >60</text>
<line x1="190.50" y1="185.20" x2="193.50" y2="185.20" stroke="#1a1a1a" stroke-width="0.9" />
<text x="187.10" y="187.75" font-size="7.7" text-anchor="end" font-weight="normal" font-style="normal" fill="#000" >80</text>
<line x1="190.50" y1="168.15" x2="193.50" y2="168.15" stroke="#1a1a1a" stroke-width="0.9" />
<text x="187.10" y="170.70" font-size="7.7" text-anchor="end" font-weight="normal" font-style="normal" fill="#000" >100</text>
<line x1="193.00" y1="253.40" x2="308.50" y2="253.40" stroke="#1a1a1a" stroke-width="1.25" />
<text x="171.20" y="209.80" font-size="8.6" font-weight="normal" text-anchor="middle" fill="#000" stroke="#000" stroke-width="0.15" transform="rotate(-90 171.20 209.80)" textLength="74" lengthAdjust="spacingAndGlyphs">% CD19<tspan font-size="5.6" dy="-3">+</tspan><tspan dy="3"> B220</tspan><tspan font-size="5.6" dy="-3">+</tspan><tspan dy="3"> BM cells</tspan></text>
<rect x="201.30" y="247.70" width="8.60" height="5.70" fill="#e48a9a" />
<rect x="209.90" y="241.70" width="8.60" height="11.70" fill="#83a9c9" />
<line x1="214.20" y1="237.00" x2="214.20" y2="241.70" stroke="#222" stroke-width="0.9" />
<line x1="212.30" y1="237.00" x2="216.10" y2="237.00" stroke="#222" stroke-width="0.9" />
<circle cx="203.00" cy="246.70" r="1.25" fill="#c8102e"/>
<circle cx="207.00" cy="246.70" r="1.25" fill="#c8102e"/>
<circle cx="205.00" cy="248.80" r="1.25" fill="#c8102e"/>
<circle cx="203.00" cy="251.00" r="1.25" fill="#c8102e"/>
<circle cx="207.00" cy="251.00" r="1.25" fill="#c8102e"/>
<circle cx="214.50" cy="235.70" r="1.25" fill="#0a4c8c"/>
<circle cx="213.90" cy="238.70" r="1.25" fill="#0a4c8c"/>
<circle cx="215.30" cy="240.70" r="1.25" fill="#0a4c8c"/>
<circle cx="212.90" cy="242.70" r="1.25" fill="#0a4c8c"/>
<circle cx="216.50" cy="243.70" r="1.25" fill="#0a4c8c"/>
<circle cx="214.90" cy="244.70" r="1.25" fill="#0a4c8c"/>
<circle cx="212.50" cy="239.50" r="1.25" fill="#0a4c8c"/>
<circle cx="216.80" cy="241.00" r="1.25" fill="#0a4c8c"/>
<circle cx="213.50" cy="245.50" r="1.25" fill="#0a4c8c"/>
<rect x="228.80" y="195.90" width="8.60" height="57.50" fill="#e48a9a" />
<rect x="237.40" y="209.20" width="8.60" height="44.20" fill="#83a9c9" />
<line x1="233.10" y1="190.50" x2="233.10" y2="195.90" stroke="#222" stroke-width="0.9" />
<line x1="231.20" y1="190.50" x2="235.00" y2="190.50" stroke="#222" stroke-width="0.9" />
<line x1="241.70" y1="199.90" x2="241.70" y2="209.20" stroke="#222" stroke-width="0.9" />
<line x1="239.80" y1="199.90" x2="243.60" y2="199.90" stroke="#222" stroke-width="0.9" />
<circle cx="231.90" cy="190.30" r="1.25" fill="#c8102e"/>
<circle cx="236.20" cy="189.30" r="1.25" fill="#c8102e"/>
<circle cx="233.40" cy="195.30" r="1.25" fill="#c8102e"/>
<circle cx="230.50" cy="200.90" r="1.25" fill="#c8102e"/>
<circle cx="233.20" cy="201.50" r="1.25" fill="#c8102e"/>
<circle cx="235.80" cy="200.90" r="1.25" fill="#c8102e"/>
<circle cx="240.80" cy="200.90" r="1.25" fill="#0a4c8c"/>
<circle cx="244.80" cy="199.90" r="1.25" fill="#0a4c8c"/>
<circle cx="239.80" cy="203.80" r="1.25" fill="#0a4c8c"/>
<circle cx="244.80" cy="203.20" r="1.25" fill="#0a4c8c"/>
<circle cx="241.20" cy="207.20" r="1.25" fill="#0a4c8c"/>
<circle cx="242.80" cy="207.80" r="1.25" fill="#0a4c8c"/>
<circle cx="240.40" cy="212.80" r="1.25" fill="#0a4c8c"/>
<circle cx="242.80" cy="213.20" r="1.25" fill="#0a4c8c"/>
<circle cx="241.80" cy="228.70" r="1.25" fill="#0a4c8c"/>
<rect x="256.40" y="250.80" width="8.60" height="2.60" fill="#e48a9a" />
<rect x="265.00" y="247.20" width="8.60" height="6.20" fill="#83a9c9" />
<line x1="269.30" y1="243.60" x2="269.30" y2="247.20" stroke="#222" stroke-width="0.9" />
<line x1="267.40" y1="243.60" x2="271.20" y2="243.60" stroke="#222" stroke-width="0.9" />
<circle cx="257.80" cy="251.60" r="1.25" fill="#c8102e"/>
<circle cx="259.80" cy="251.40" r="1.25" fill="#c8102e"/>
<circle cx="261.80" cy="251.60" r="1.25" fill="#c8102e"/>
<circle cx="263.60" cy="251.40" r="1.25" fill="#c8102e"/>
<circle cx="269.40" cy="239.40" r="1.25" fill="#0a4c8c"/>
<circle cx="267.60" cy="246.70" r="1.25" fill="#0a4c8c"/>
<circle cx="269.10" cy="245.90" r="1.25" fill="#0a4c8c"/>
<circle cx="271.20" cy="246.70" r="1.25" fill="#0a4c8c"/>
<circle cx="266.50" cy="248.20" r="1.25" fill="#0a4c8c"/>
<circle cx="268.60" cy="248.40" r="1.25" fill="#0a4c8c"/>
<circle cx="270.50" cy="248.70" r="1.25" fill="#0a4c8c"/>
<circle cx="272.20" cy="248.40" r="1.25" fill="#0a4c8c"/>
<circle cx="269.70" cy="249.80" r="1.25" fill="#0a4c8c"/>
<rect x="284.10" y="237.30" width="8.60" height="16.10" fill="#e48a9a" />
<rect x="292.70" y="238.90" width="8.60" height="14.50" fill="#83a9c9" />
<line x1="288.40" y1="233.50" x2="288.40" y2="237.30" stroke="#222" stroke-width="0.9" />
<line x1="286.50" y1="233.50" x2="290.30" y2="233.50" stroke="#222" stroke-width="0.9" />
<line x1="297.00" y1="232.90" x2="297.00" y2="238.90" stroke="#222" stroke-width="0.9" />
<line x1="295.10" y1="232.90" x2="298.90" y2="232.90" stroke="#222" stroke-width="0.9" />
<circle cx="291.00" cy="231.60" r="1.25" fill="#c8102e"/>
<circle cx="285.20" cy="235.20" r="1.25" fill="#c8102e"/>
<circle cx="287.80" cy="234.70" r="1.25" fill="#c8102e"/>
<circle cx="291.30" cy="236.80" r="1.25" fill="#c8102e"/>
<circle cx="286.30" cy="241.00" r="1.25" fill="#c8102e"/>
<circle cx="288.90" cy="241.00" r="1.25" fill="#c8102e"/>
<circle cx="295.40" cy="228.00" r="1.25" fill="#0a4c8c"/>
<circle cx="297.20" cy="229.00" r="1.25" fill="#0a4c8c"/>
<circle cx="297.70" cy="236.80" r="1.25" fill="#0a4c8c"/>
<circle cx="294.60" cy="239.40" r="1.25" fill="#0a4c8c"/>
<circle cx="299.20" cy="241.00" r="1.25" fill="#0a4c8c"/>
<circle cx="296.60" cy="241.00" r="1.25" fill="#0a4c8c"/>
<circle cx="296.60" cy="246.20" r="1.25" fill="#0a4c8c"/>
<circle cx="294.80" cy="240.40" r="1.25" fill="#0a4c8c"/>
<polyline points="204.00,241.70 204.00,223.40 214.50,223.40 214.50,227.70" fill="none" stroke="#333" stroke-width="0.95"/>
<circle cx="204.90" cy="218.80" r="0.95" fill="#111"/>
<circle cx="207.80" cy="218.80" r="0.95" fill="#111"/>
<circle cx="210.70" cy="218.80" r="0.95" fill="#111"/>
<circle cx="213.60" cy="218.80" r="0.95" fill="#111"/>
<polyline points="231.90,184.90 231.90,178.50 241.80,178.50 241.80,196.90" fill="none" stroke="#333" stroke-width="0.95"/>
<circle cx="235.40" cy="174.00" r="0.95" fill="#111"/>
<circle cx="238.30" cy="174.00" r="0.95" fill="#111"/>
<polyline points="259.10,246.20 259.10,228.50 268.40,228.50 268.40,233.50" fill="none" stroke="#333" stroke-width="0.95"/>
<circle cx="260.85" cy="224.30" r="0.95" fill="#111"/>
<circle cx="263.75" cy="224.30" r="0.95" fill="#111"/>
<circle cx="266.65" cy="224.30" r="0.95" fill="#111"/>
<text x="211.80" y="258.70" font-size="7.7" text-anchor="end" font-weight="normal" font-style="normal" fill="#000" transform="rotate(-45 211.80 258.70)" >Pro-B</text>
<text x="239.30" y="258.70" font-size="7.7" text-anchor="end" font-weight="normal" font-style="normal" fill="#000" transform="rotate(-45 239.30 258.70)" >Pre-B</text>
<text x="266.90" y="258.70" font-size="7.7" text-anchor="end" font-weight="normal" font-style="normal" fill="#000" transform="rotate(-45 266.90 258.70)" >IgM<tspan font-size="5.4" dy="-2.8">+</tspan><tspan dy="2.8"> B</tspan></text>
<text x="294.60" y="258.70" font-size="7.7" text-anchor="end" font-weight="normal" font-style="normal" fill="#000" transform="rotate(-45 294.60 258.70)" >MR B</text>
<text x="312.60" y="157.80" font-size="10.4" text-anchor="start" font-weight="bold" font-style="normal" fill="#000" >D</text>
<line x1="343.50" y1="253.70" x2="343.50" y2="167.20" stroke="#1a1a1a" stroke-width="1.0" />
<line x1="340.50" y1="253.10" x2="343.50" y2="253.10" stroke="#1a1a1a" stroke-width="0.9" />
<text x="337.10" y="255.65" font-size="7.7" text-anchor="end" font-weight="normal" font-style="normal" fill="#000" >0</text>
<line x1="340.50" y1="236.00" x2="343.50" y2="236.00" stroke="#1a1a1a" stroke-width="0.9" />
<text x="337.10" y="238.55" font-size="7.7" text-anchor="end" font-weight="normal" font-style="normal" fill="#000" >5</text>
<line x1="340.50" y1="218.90" x2="343.50" y2="218.90" stroke="#1a1a1a" stroke-width="0.9" />
<text x="337.10" y="221.45" font-size="7.7" text-anchor="end" font-weight="normal" font-style="normal" fill="#000" >10</text>
<line x1="340.50" y1="201.80" x2="343.50" y2="201.80" stroke="#1a1a1a" stroke-width="0.9" />
<text x="337.10" y="204.35" font-size="7.7" text-anchor="end" font-weight="normal" font-style="normal" fill="#000" >15</text>
<line x1="340.50" y1="184.70" x2="343.50" y2="184.70" stroke="#1a1a1a" stroke-width="0.9" />
<text x="337.10" y="187.25" font-size="7.7" text-anchor="end" font-weight="normal" font-style="normal" fill="#000" >20</text>
<line x1="340.50" y1="167.60" x2="343.50" y2="167.60" stroke="#1a1a1a" stroke-width="0.9" />
<text x="337.10" y="170.15" font-size="7.7" text-anchor="end" font-weight="normal" font-style="normal" fill="#000" >25</text>
<line x1="343.00" y1="253.10" x2="406.50" y2="253.10" stroke="#1a1a1a" stroke-width="1.25" />
<text x="322.80" y="210.00" font-size="7.9" font-weight="normal" text-anchor="middle" fill="#000" stroke="#000" stroke-width="0.15" transform="rotate(-90 322.80 210.00)" textLength="78" lengthAdjust="spacingAndGlyphs">Number of BM cells (×10<tspan font-size="5.6" dy="-3">6</tspan><tspan dy="3">)</tspan></text>
<rect x="351.80" y="218.30" width="9.30" height="34.80" fill="#e48a9a" />
<rect x="361.10" y="202.20" width="9.30" height="50.90" fill="#83a9c9" />
<line x1="356.45" y1="210.20" x2="356.45" y2="218.30" stroke="#222" stroke-width="0.9" />
<line x1="354.55" y1="210.20" x2="358.35" y2="210.20" stroke="#222" stroke-width="0.9" />
<line x1="365.75" y1="184.50" x2="365.75" y2="202.20" stroke="#222" stroke-width="0.9" />
<line x1="363.85" y1="184.50" x2="367.65" y2="184.50" stroke="#222" stroke-width="0.9" />
<circle cx="353.30" cy="210.20" r="1.25" fill="#c8102e"/>
<circle cx="359.40" cy="210.20" r="1.25" fill="#c8102e"/>
<circle cx="353.30" cy="216.80" r="1.25" fill="#c8102e"/>
<circle cx="359.40" cy="216.30" r="1.25" fill="#c8102e"/>
<circle cx="356.30" cy="224.80" r="1.25" fill="#c8102e"/>
<circle cx="356.30" cy="228.70" r="1.25" fill="#c8102e"/>
<circle cx="365.60" cy="171.80" r="1.25" fill="#0a4c8c"/>
<circle cx="365.60" cy="192.60" r="1.25" fill="#0a4c8c"/>
<circle cx="363.30" cy="196.10" r="1.25" fill="#0a4c8c"/>
<circle cx="368.20" cy="196.10" r="1.25" fill="#0a4c8c"/>
<circle cx="362.60" cy="198.40" r="1.25" fill="#0a4c8c"/>
<circle cx="365.60" cy="208.40" r="1.25" fill="#0a4c8c"/>
<circle cx="365.60" cy="214.50" r="1.25" fill="#0a4c8c"/>
<circle cx="365.60" cy="219.40" r="1.25" fill="#0a4c8c"/>
<circle cx="365.60" cy="233.00" r="1.25" fill="#0a4c8c"/>
<rect x="381.20" y="251.00" width="9.30" height="2.10" fill="#e48a9a" />
<rect x="390.50" y="248.30" width="9.30" height="4.80" fill="#83a9c9" />
<line x1="395.15" y1="244.80" x2="395.15" y2="248.30" stroke="#222" stroke-width="0.9" />
<line x1="393.25" y1="244.80" x2="397.05" y2="244.80" stroke="#222" stroke-width="0.9" />
<circle cx="382.00" cy="250.50" r="1.25" fill="#c8102e"/>
<circle cx="384.00" cy="250.00" r="1.25" fill="#c8102e"/>
<circle cx="386.00" cy="250.60" r="1.25" fill="#c8102e"/>
<circle cx="388.00" cy="250.20" r="1.25" fill="#c8102e"/>
<circle cx="383.00" cy="251.50" r="1.25" fill="#c8102e"/>
<circle cx="387.00" cy="251.50" r="1.25" fill="#c8102e"/>
<circle cx="394.50" cy="241.60" r="1.25" fill="#0a4c8c"/>
<circle cx="392.50" cy="245.20" r="1.25" fill="#0a4c8c"/>
<circle cx="396.50" cy="245.20" r="1.25" fill="#0a4c8c"/>
<circle cx="391.00" cy="247.00" r="1.25" fill="#0a4c8c"/>
<circle cx="394.50" cy="247.50" r="1.25" fill="#0a4c8c"/>
<circle cx="398.00" cy="247.50" r="1.25" fill="#0a4c8c"/>
<circle cx="393.00" cy="249.50" r="1.25" fill="#0a4c8c"/>
<circle cx="395.50" cy="249.50" r="1.25" fill="#0a4c8c"/>
<circle cx="392.30" cy="251.20" r="1.25" fill="#0a4c8c"/>
<polyline points="356.00,196.50 356.00,163.00 365.70,163.00 365.70,170.00" fill="none" stroke="#333" stroke-width="0.95"/>
<circle cx="360.85" cy="158.40" r="0.95" fill="#111"/>
<polyline points="385.80,241.50 385.80,233.60 395.50,233.60 395.50,237.70" fill="none" stroke="#333" stroke-width="0.95"/>
<circle cx="389.20" cy="229.30" r="0.95" fill="#111"/>
<circle cx="392.10" cy="229.30" r="0.95" fill="#111"/>
<text x="362.80" y="258.30" font-size="7.7" text-anchor="end" font-weight="normal" font-style="normal" fill="#000" transform="rotate(-45 362.80 258.30)" >Neutrophils</text>
<text x="392.20" y="258.30" font-size="7.7" text-anchor="end" font-weight="normal" font-style="normal" fill="#000" transform="rotate(-45 392.20 258.30)" >Monocytes</text>
<text x="412.60" y="157.80" font-size="10.4" text-anchor="start" font-weight="bold" font-style="normal" fill="#000" >E</text>
<line x1="447.50" y1="253.70" x2="447.50" y2="167.20" stroke="#1a1a1a" stroke-width="1.0" />
<line x1="444.50" y1="253.10" x2="447.50" y2="253.10" stroke="#1a1a1a" stroke-width="0.9" />
<text x="441.10" y="255.65" font-size="7.7" text-anchor="end" font-weight="normal" font-style="normal" fill="#000" >0</text>
<line x1="444.50" y1="236.00" x2="447.50" y2="236.00" stroke="#1a1a1a" stroke-width="0.9" />
<text x="441.10" y="238.55" font-size="7.7" text-anchor="end" font-weight="normal" font-style="normal" fill="#000" >20</text>
<line x1="444.50" y1="218.90" x2="447.50" y2="218.90" stroke="#1a1a1a" stroke-width="0.9" />
<text x="441.10" y="221.45" font-size="7.7" text-anchor="end" font-weight="normal" font-style="normal" fill="#000" >40</text>
<line x1="444.50" y1="201.80" x2="447.50" y2="201.80" stroke="#1a1a1a" stroke-width="0.9" />
<text x="441.10" y="204.35" font-size="7.7" text-anchor="end" font-weight="normal" font-style="normal" fill="#000" >60</text>
<line x1="444.50" y1="184.70" x2="447.50" y2="184.70" stroke="#1a1a1a" stroke-width="0.9" />
<text x="441.10" y="187.25" font-size="7.7" text-anchor="end" font-weight="normal" font-style="normal" fill="#000" >80</text>
<line x1="444.50" y1="167.60" x2="447.50" y2="167.60" stroke="#1a1a1a" stroke-width="0.9" />
<text x="441.10" y="170.15" font-size="7.7" text-anchor="end" font-weight="normal" font-style="normal" fill="#000" >100</text>
<line x1="447.00" y1="253.10" x2="510.50" y2="253.10" stroke="#1a1a1a" stroke-width="1.25" />
<text x="423.90" y="209.50" font-size="8.6" font-weight="normal" text-anchor="middle" fill="#000" stroke="#000" stroke-width="0.15" transform="rotate(-90 423.90 209.50)" textLength="75" lengthAdjust="spacingAndGlyphs">% CD11b<tspan font-size="5.6" dy="-3">+</tspan><tspan dy="3"> CD19</tspan><tspan font-size="5.6" dy="-3">−</tspan><tspan dy="3"> BM cells</tspan></text>
<rect x="455.30" y="181.90" width="9.30" height="71.20" fill="#e48a9a" />
<rect x="464.60" y="182.60" width="9.30" height="70.50" fill="#83a9c9" />
<circle cx="456.70" cy="182.60" r="1.25" fill="#c8102e"/>
<circle cx="458.60" cy="181.30" r="1.25" fill="#c8102e"/>
<circle cx="460.90" cy="179.20" r="1.25" fill="#c8102e"/>
<circle cx="463.30" cy="182.50" r="1.25" fill="#c8102e"/>
<circle cx="460.50" cy="184.90" r="1.25" fill="#c8102e"/>
<circle cx="458.70" cy="186.80" r="1.25" fill="#c8102e"/>
<circle cx="465.50" cy="183.30" r="1.25" fill="#0a4c8c"/>
<circle cx="467.50" cy="182.80" r="1.25" fill="#0a4c8c"/>
<circle cx="469.50" cy="182.20" r="1.25" fill="#0a4c8c"/>
<circle cx="471.20" cy="181.60" r="1.25" fill="#0a4c8c"/>
<circle cx="465.50" cy="187.60" r="1.25" fill="#0a4c8c"/>
<circle cx="467.50" cy="187.20" r="1.25" fill="#0a4c8c"/>
<circle cx="469.50" cy="186.50" r="1.25" fill="#0a4c8c"/>
<circle cx="472.30" cy="185.20" r="1.25" fill="#0a4c8c"/>
<circle cx="470.00" cy="190.50" r="1.25" fill="#0a4c8c"/>
<circle cx="472.50" cy="189.00" r="1.25" fill="#0a4c8c"/>
<circle cx="466.00" cy="192.20" r="1.25" fill="#0a4c8c"/>
<rect x="484.60" y="248.00" width="9.30" height="5.10" fill="#e48a9a" />
<rect x="493.90" y="245.70" width="9.30" height="7.40" fill="#83a9c9" />
<line x1="498.55" y1="242.80" x2="498.55" y2="245.70" stroke="#222" stroke-width="0.9" />
<line x1="496.65" y1="242.80" x2="500.45" y2="242.80" stroke="#222" stroke-width="0.9" />
<circle cx="485.80" cy="248.80" r="1.25" fill="#c8102e"/>
<circle cx="487.70" cy="247.30" r="1.25" fill="#c8102e"/>
<circle cx="489.30" cy="246.20" r="1.25" fill="#c8102e"/>
<circle cx="491.00" cy="247.50" r="1.25" fill="#c8102e"/>
<circle cx="492.50" cy="244.60" r="1.25" fill="#c8102e"/>
<circle cx="492.20" cy="249.50" r="1.25" fill="#c8102e"/>
<circle cx="488.50" cy="249.50" r="1.25" fill="#c8102e"/>
<circle cx="498.50" cy="239.80" r="1.25" fill="#0a4c8c"/>
<circle cx="496.50" cy="245.30" r="1.25" fill="#0a4c8c"/>
<circle cx="500.50" cy="245.30" r="1.25" fill="#0a4c8c"/>
<circle cx="494.80" cy="247.00" r="1.25" fill="#0a4c8c"/>
<circle cx="497.00" cy="247.50" r="1.25" fill="#0a4c8c"/>
<circle cx="499.60" cy="247.80" r="1.25" fill="#0a4c8c"/>
<circle cx="502.00" cy="247.00" r="1.25" fill="#0a4c8c"/>
<circle cx="498.00" cy="249.50" r="1.25" fill="#0a4c8c"/>
<polyline points="459.00,175.20 459.00,173.50 468.90,173.50 468.90,177.00" fill="none" stroke="#333" stroke-width="0.95"/>
<circle cx="463.95" cy="169.00" r="0.95" fill="#111"/>
<polyline points="488.40,240.00 488.40,231.40 498.50,231.40 498.50,234.40" fill="none" stroke="#333" stroke-width="0.95"/>
<circle cx="493.45" cy="227.00" r="0.95" fill="#111"/>
<text x="466.30" y="258.30" font-size="7.7" text-anchor="end" font-weight="normal" font-style="normal" fill="#000" transform="rotate(-45 466.30 258.30)" >Neutrophils</text>
<text x="495.60" y="258.30" font-size="7.7" text-anchor="end" font-weight="normal" font-style="normal" fill="#000" transform="rotate(-45 495.60 258.30)" >Monocytes</text>
<text x="8.20" y="305.00" font-size="10.4" text-anchor="start" font-weight="bold" font-style="normal" fill="#000" >F</text>
<text x="56.60" y="322.00" font-size="8.4" text-anchor="middle" font-weight="normal" font-style="normal" fill="#000" >B220<tspan font-size="6.2" dy="-3.3">+</tspan><tspan dy="3.3"> CD19</tspan><tspan font-size="6.2" dy="-3.3">+</tspan></text>
<line x1="35.50" y1="417.10" x2="35.50" y2="330.50" stroke="#1a1a1a" stroke-width="1.0" />
<line x1="32.50" y1="416.50" x2="35.50" y2="416.50" stroke="#1a1a1a" stroke-width="0.9" />
<text x="29.10" y="419.05" font-size="7.7" text-anchor="end" font-weight="normal" font-style="normal" fill="#000" >0</text>
<line x1="32.50" y1="399.38" x2="35.50" y2="399.38" stroke="#1a1a1a" stroke-width="0.9" />
<text x="29.10" y="401.93" font-size="7.7" text-anchor="end" font-weight="normal" font-style="normal" fill="#000" >5</text>
<line x1="32.50" y1="382.26" x2="35.50" y2="382.26" stroke="#1a1a1a" stroke-width="0.9" />
<text x="29.10" y="384.81" font-size="7.7" text-anchor="end" font-weight="normal" font-style="normal" fill="#000" >10</text>
<line x1="32.50" y1="365.14" x2="35.50" y2="365.14" stroke="#1a1a1a" stroke-width="0.9" />
<text x="29.10" y="367.69" font-size="7.7" text-anchor="end" font-weight="normal" font-style="normal" fill="#000" >15</text>
<line x1="32.50" y1="348.02" x2="35.50" y2="348.02" stroke="#1a1a1a" stroke-width="0.9" />
<text x="29.10" y="350.57" font-size="7.7" text-anchor="end" font-weight="normal" font-style="normal" fill="#000" >20</text>
<line x1="32.50" y1="330.90" x2="35.50" y2="330.90" stroke="#1a1a1a" stroke-width="0.9" />
<text x="29.10" y="333.45" font-size="7.7" text-anchor="end" font-weight="normal" font-style="normal" fill="#000" >25</text>
<line x1="35.00" y1="416.50" x2="78.00" y2="416.50" stroke="#1a1a1a" stroke-width="1.25" />
<text x="15.80" y="374.20" font-size="8.2" font-weight="normal" text-anchor="middle" fill="#000" stroke="#000" stroke-width="0.15" transform="rotate(-90 15.80 374.20)" textLength="29.5" lengthAdjust="spacingAndGlyphs">% γH2AX<tspan font-size="5.6" dy="-3">+</tspan></text>
<rect x="45.30" y="401.00" width="11.90" height="15.50" fill="#e48a9a" />
<rect x="57.20" y="379.00" width="11.90" height="37.50" fill="#83a9c9" />
<line x1="51.25" y1="394.20" x2="51.25" y2="401.00" stroke="#222" stroke-width="0.9" />
<line x1="49.35" y1="394.20" x2="53.15" y2="394.20" stroke="#222" stroke-width="0.9" />
<line x1="63.15" y1="366.00" x2="63.15" y2="379.00" stroke="#222" stroke-width="0.9" />
<line x1="61.25" y1="366.00" x2="65.05" y2="366.00" stroke="#222" stroke-width="0.9" />
<circle cx="50.80" cy="389.30" r="1.3" fill="#c8102e"/>
<circle cx="46.90" cy="401.00" r="1.3" fill="#c8102e"/>
<circle cx="51.10" cy="399.60" r="1.3" fill="#c8102e"/>
<circle cx="55.00" cy="401.00" r="1.3" fill="#c8102e"/>
<circle cx="49.40" cy="406.50" r="1.3" fill="#c8102e"/>
<circle cx="53.30" cy="405.50" r="1.3" fill="#c8102e"/>
<circle cx="62.60" cy="350.40" r="1.3" fill="#0a4c8c"/>
<circle cx="63.00" cy="370.90" r="1.3" fill="#0a4c8c"/>
<circle cx="58.50" cy="375.70" r="1.3" fill="#0a4c8c"/>
<circle cx="63.00" cy="376.30" r="1.3" fill="#0a4c8c"/>
<circle cx="66.90" cy="376.70" r="1.3" fill="#0a4c8c"/>
<circle cx="60.50" cy="379.50" r="1.3" fill="#0a4c8c"/>
<circle cx="62.40" cy="384.50" r="1.3" fill="#0a4c8c"/>
<circle cx="66.30" cy="381.60" r="1.3" fill="#0a4c8c"/>
<circle cx="62.40" cy="392.60" r="1.3" fill="#0a4c8c"/>
<circle cx="62.40" cy="397.10" r="1.3" fill="#0a4c8c"/>
<polyline points="50.75,381.60 50.75,338.75 62.40,338.75 62.40,344.00" fill="none" stroke="#333" stroke-width="0.95"/>
<circle cx="53.68" cy="333.50" r="0.95" fill="#111"/>
<circle cx="56.58" cy="333.50" r="0.95" fill="#111"/>
<circle cx="59.48" cy="333.50" r="0.95" fill="#111"/>
<text x="90.00" y="305.00" font-size="10.4" text-anchor="start" font-weight="bold" font-style="normal" fill="#000" >G</text>
<line x1="115.50" y1="417.30" x2="115.50" y2="331.50" stroke="#1a1a1a" stroke-width="1.0" />
<line x1="112.50" y1="416.70" x2="115.50" y2="416.70" stroke="#1a1a1a" stroke-width="0.9" />
<text x="109.10" y="419.25" font-size="7.7" text-anchor="end" font-weight="normal" font-style="normal" fill="#000" >0</text>
<line x1="112.50" y1="399.75" x2="115.50" y2="399.75" stroke="#1a1a1a" stroke-width="0.9" />
<text x="109.10" y="402.30" font-size="7.7" text-anchor="end" font-weight="normal" font-style="normal" fill="#000" >10</text>
<line x1="112.50" y1="382.80" x2="115.50" y2="382.80" stroke="#1a1a1a" stroke-width="0.9" />
<text x="109.10" y="385.35" font-size="7.7" text-anchor="end" font-weight="normal" font-style="normal" fill="#000" >20</text>
<line x1="112.50" y1="365.85" x2="115.50" y2="365.85" stroke="#1a1a1a" stroke-width="0.9" />
<text x="109.10" y="368.40" font-size="7.7" text-anchor="end" font-weight="normal" font-style="normal" fill="#000" >30</text>
<line x1="112.50" y1="348.90" x2="115.50" y2="348.90" stroke="#1a1a1a" stroke-width="0.9" />
<text x="109.10" y="351.45" font-size="7.7" text-anchor="end" font-weight="normal" font-style="normal" fill="#000" >40</text>
<line x1="112.50" y1="331.95" x2="115.50" y2="331.95" stroke="#1a1a1a" stroke-width="0.9" />
<text x="109.10" y="334.50" font-size="7.7" text-anchor="end" font-weight="normal" font-style="normal" fill="#000" >50</text>
<line x1="115.00" y1="416.70" x2="228.40" y2="416.70" stroke="#1a1a1a" stroke-width="1.25" />
<text x="95.80" y="374.20" font-size="8.2" font-weight="normal" text-anchor="middle" fill="#000" stroke="#000" stroke-width="0.15" transform="rotate(-90 95.80 374.20)" textLength="29.5" lengthAdjust="spacingAndGlyphs">% γH2AX<tspan font-size="5.6" dy="-3">+</tspan></text>
<rect x="122.30" y="401.90" width="8.90" height="14.80" fill="#e48a9a" />
<rect x="131.20" y="389.80" width="8.90" height="26.90" fill="#83a9c9" />
<line x1="126.75" y1="394.70" x2="126.75" y2="401.90" stroke="#222" stroke-width="0.9" />
<line x1="124.85" y1="394.70" x2="128.65" y2="394.70" stroke="#222" stroke-width="0.9" />
<line x1="135.65" y1="378.60" x2="135.65" y2="389.80" stroke="#222" stroke-width="0.9" />
<line x1="133.75" y1="378.60" x2="137.55" y2="378.60" stroke="#222" stroke-width="0.9" />
<circle cx="126.60" cy="389.80" r="1.25" fill="#c8102e"/>
<circle cx="124.00" cy="398.10" r="1.25" fill="#c8102e"/>
<circle cx="127.80" cy="399.60" r="1.25" fill="#c8102e"/>
<circle cx="124.30" cy="403.80" r="1.25" fill="#c8102e"/>
<circle cx="127.00" cy="405.90" r="1.25" fill="#c8102e"/>
<circle cx="129.70" cy="406.80" r="1.25" fill="#c8102e"/>
<circle cx="135.60" cy="371.80" r="1.25" fill="#0a4c8c"/>
<circle cx="136.50" cy="376.80" r="1.25" fill="#0a4c8c"/>
<circle cx="134.80" cy="379.30" r="1.25" fill="#0a4c8c"/>
<circle cx="136.60" cy="382.30" r="1.25" fill="#0a4c8c"/>
<circle cx="135.70" cy="390.30" r="1.25" fill="#0a4c8c"/>
<circle cx="133.00" cy="397.80" r="1.25" fill="#0a4c8c"/>
<circle cx="138.00" cy="397.80" r="1.25" fill="#0a4c8c"/>
<circle cx="136.30" cy="399.60" r="1.25" fill="#0a4c8c"/>
<circle cx="134.80" cy="401.90" r="1.25" fill="#0a4c8c"/>
<rect x="149.70" y="407.90" width="8.90" height="8.80" fill="#e48a9a" />
<rect x="158.60" y="405.90" width="8.90" height="10.80" fill="#83a9c9" />
<line x1="154.15" y1="403.80" x2="154.15" y2="407.90" stroke="#222" stroke-width="0.9" />
<line x1="152.25" y1="403.80" x2="156.05" y2="403.80" stroke="#222" stroke-width="0.9" />
<line x1="163.05" y1="402.60" x2="163.05" y2="405.90" stroke="#222" stroke-width="0.9" />
<line x1="161.15" y1="402.60" x2="164.95" y2="402.60" stroke="#222" stroke-width="0.9" />
<circle cx="154.20" cy="401.90" r="1.25" fill="#c8102e"/>
<circle cx="151.40" cy="405.90" r="1.25" fill="#c8102e"/>
<circle cx="155.60" cy="406.80" r="1.25" fill="#c8102e"/>
<circle cx="157.80" cy="410.90" r="1.25" fill="#c8102e"/>
<circle cx="151.10" cy="412.00" r="1.25" fill="#c8102e"/>
<circle cx="154.10" cy="412.00" r="1.25" fill="#c8102e"/>
<circle cx="162.70" cy="398.90" r="1.25" fill="#0a4c8c"/>
<circle cx="160.60" cy="404.10" r="1.25" fill="#0a4c8c"/>
<circle cx="163.10" cy="404.90" r="1.25" fill="#0a4c8c"/>
<circle cx="165.40" cy="405.90" r="1.25" fill="#0a4c8c"/>
<circle cx="161.60" cy="407.60" r="1.25" fill="#0a4c8c"/>
<circle cx="163.90" cy="409.40" r="1.25" fill="#0a4c8c"/>
<circle cx="162.40" cy="412.40" r="1.25" fill="#0a4c8c"/>
<circle cx="163.10" cy="414.40" r="1.25" fill="#0a4c8c"/>
<rect x="177.30" y="393.90" width="8.90" height="22.80" fill="#e48a9a" />
<rect x="186.20" y="376.40" width="8.90" height="40.30" fill="#83a9c9" />
<line x1="181.75" y1="388.10" x2="181.75" y2="393.90" stroke="#222" stroke-width="0.9" />
<line x1="179.85" y1="388.10" x2="183.65" y2="388.10" stroke="#222" stroke-width="0.9" />
<line x1="190.65" y1="361.20" x2="190.65" y2="376.40" stroke="#222" stroke-width="0.9" />
<line x1="188.75" y1="361.20" x2="192.55" y2="361.20" stroke="#222" stroke-width="0.9" />
<circle cx="178.80" cy="388.10" r="1.25" fill="#c8102e"/>
<circle cx="185.00" cy="387.70" r="1.25" fill="#c8102e"/>
<circle cx="178.80" cy="394.30" r="1.25" fill="#c8102e"/>
<circle cx="178.80" cy="398.80" r="1.25" fill="#c8102e"/>
<circle cx="185.00" cy="398.80" r="1.25" fill="#c8102e"/>
<circle cx="182.00" cy="393.00" r="1.25" fill="#c8102e"/>
<circle cx="190.50" cy="349.90" r="1.25" fill="#0a4c8c"/>
<circle cx="190.50" cy="358.70" r="1.25" fill="#0a4c8c"/>
<circle cx="187.60" cy="368.40" r="1.25" fill="#0a4c8c"/>
<circle cx="193.40" cy="367.00" r="1.25" fill="#0a4c8c"/>
<circle cx="190.50" cy="377.40" r="1.25" fill="#0a4c8c"/>
<circle cx="187.60" cy="385.00" r="1.25" fill="#0a4c8c"/>
<circle cx="193.40" cy="385.00" r="1.25" fill="#0a4c8c"/>
<circle cx="187.60" cy="389.50" r="1.25" fill="#0a4c8c"/>
<circle cx="193.40" cy="389.50" r="1.25" fill="#0a4c8c"/>
<circle cx="190.50" cy="394.00" r="1.25" fill="#0a4c8c"/>
<rect x="205.00" y="402.10" width="8.90" height="14.60" fill="#e48a9a" />
<rect x="213.90" y="403.70" width="8.90" height="13.00" fill="#83a9c9" />
<line x1="209.45" y1="395.30" x2="209.45" y2="402.10" stroke="#222" stroke-width="0.9" />
<line x1="207.55" y1="395.30" x2="211.35" y2="395.30" stroke="#222" stroke-width="0.9" />
<line x1="218.35" y1="398.60" x2="218.35" y2="403.70" stroke="#222" stroke-width="0.9" />
<line x1="216.45" y1="398.60" x2="220.25" y2="398.60" stroke="#222" stroke-width="0.9" />
<circle cx="212.00" cy="393.40" r="1.25" fill="#c8102e"/>
<circle cx="207.10" cy="395.30" r="1.25" fill="#c8102e"/>
<circle cx="209.00" cy="399.20" r="1.25" fill="#c8102e"/>
<circle cx="209.00" cy="403.10" r="1.25" fill="#c8102e"/>
<circle cx="206.10" cy="408.00" r="1.25" fill="#c8102e"/>
<circle cx="209.00" cy="409.00" r="1.25" fill="#c8102e"/>
<circle cx="212.00" cy="408.00" r="1.25" fill="#c8102e"/>
<circle cx="219.80" cy="397.30" r="1.25" fill="#0a4c8c"/>
<circle cx="215.90" cy="399.20" r="1.25" fill="#0a4c8c"/>
<circle cx="215.90" cy="403.10" r="1.25" fill="#0a4c8c"/>
<circle cx="220.70" cy="403.70" r="1.25" fill="#0a4c8c"/>
<circle cx="217.20" cy="406.00" r="1.25" fill="#0a4c8c"/>
<circle cx="219.80" cy="408.00" r="1.25" fill="#0a4c8c"/>
<circle cx="215.90" cy="410.00" r="1.25" fill="#0a4c8c"/>
<circle cx="217.80" cy="412.80" r="1.25" fill="#0a4c8c"/>
<polyline points="126.30,382.30 126.30,360.50 136.00,360.50 136.00,365.80" fill="none" stroke="#333" stroke-width="0.95"/>
<circle cx="131.15" cy="356.50" r="0.95" fill="#111"/>
<polyline points="181.40,378.70 181.40,339.70 191.10,339.70 191.10,344.00" fill="none" stroke="#333" stroke-width="0.95"/>
<circle cx="184.80" cy="335.80" r="0.95" fill="#111"/>
<circle cx="187.70" cy="335.80" r="0.95" fill="#111"/>
<text x="134.50" y="423.40" font-size="7.7" text-anchor="end" font-weight="normal" font-style="normal" fill="#000" transform="rotate(-45 134.50 423.40)" >Pro-B</text>
<text x="161.90" y="423.40" font-size="7.7" text-anchor="end" font-weight="normal" font-style="normal" fill="#000" transform="rotate(-45 161.90 423.40)" >Pre-B</text>
<text x="189.50" y="423.40" font-size="7.7" text-anchor="end" font-weight="normal" font-style="normal" fill="#000" transform="rotate(-45 189.50 423.40)" >IgM<tspan font-size="5.4" dy="-2.8">+</tspan><tspan dy="2.8"> B</tspan></text>
<text x="217.20" y="423.40" font-size="7.7" text-anchor="end" font-weight="normal" font-style="normal" fill="#000" transform="rotate(-45 217.20 423.40)" >MR B</text>
<text x="232.60" y="305.00" font-size="10.4" text-anchor="start" font-weight="bold" font-style="normal" fill="#000" >H</text>
<line x1="272.50" y1="417.20" x2="272.50" y2="345.50" stroke="#1a1a1a" stroke-width="1.0" />
<line x1="269.50" y1="416.60" x2="272.50" y2="416.60" stroke="#1a1a1a" stroke-width="0.9" />
<text x="266.50" y="419.15" font-size="7.7" text-anchor="end" font-weight="normal" font-style="normal" fill="#000" >0.1</text>
<line x1="269.50" y1="402.53" x2="272.50" y2="402.53" stroke="#1a1a1a" stroke-width="0.9" />
<text x="266.50" y="405.08" font-size="7.7" text-anchor="end" font-weight="normal" font-style="normal" fill="#000" >1</text>
<line x1="269.50" y1="388.46" x2="272.50" y2="388.46" stroke="#1a1a1a" stroke-width="0.9" />
<text x="266.50" y="391.01" font-size="7.7" text-anchor="end" font-weight="normal" font-style="normal" fill="#000" >10</text>
<line x1="269.50" y1="374.39" x2="272.50" y2="374.39" stroke="#1a1a1a" stroke-width="0.9" />
<text x="266.50" y="376.94" font-size="7.7" text-anchor="end" font-weight="normal" font-style="normal" fill="#000" >100</text>
<line x1="269.50" y1="360.32" x2="272.50" y2="360.32" stroke="#1a1a1a" stroke-width="0.9" />
<text x="266.50" y="362.87" font-size="7.7" text-anchor="end" font-weight="normal" font-style="normal" fill="#000" >1000</text>
<line x1="269.50" y1="346.25" x2="272.50" y2="346.25" stroke="#1a1a1a" stroke-width="0.9" />
<text x="266.50" y="348.80" font-size="7.7" text-anchor="end" font-weight="normal" font-style="normal" fill="#000" >10000</text>
<line x1="272.00" y1="416.60" x2="511.00" y2="416.60" stroke="#1a1a1a" stroke-width="1.25" />
<text x="240.60" y="381.60" font-size="7.6" font-weight="normal" text-anchor="middle" fill="#000" stroke="#000" stroke-width="0.15" transform="rotate(-90 240.60 381.60)" textLength="19.5" lengthAdjust="spacingAndGlyphs">pg/mL</text>
<text x="306.80" y="324.40" font-size="8.8" text-anchor="middle" font-weight="normal" font-style="normal" fill="#000" >Myeloid</text>
<text x="375.00" y="324.40" font-size="8.8" text-anchor="middle" font-weight="normal" font-style="normal" fill="#000" >Proinflammatory</text>
<text x="460.50" y="324.40" font-size="8.8" text-anchor="middle" font-weight="normal" font-style="normal" fill="#000" >T-cell function</text>
<line x1="341.25" y1="343.50" x2="341.25" y2="416.00" stroke="#444" stroke-width="0.75" stroke-dasharray="3,2"/>
<line x1="409.25" y1="343.50" x2="409.25" y2="416.00" stroke="#444" stroke-width="0.75" stroke-dasharray="3,2"/>
<rect x="276.20" y="371.70" width="5.25" height="44.90" fill="#e48a9a" />
<rect x="281.45" y="346.60" width="5.25" height="70.00" fill="#83a9c9" />
<line x1="278.82" y1="367.50" x2="278.82" y2="371.70" stroke="#222" stroke-width="0.9" />
<line x1="277.32" y1="367.50" x2="280.32" y2="367.50" stroke="#222" stroke-width="0.9" />
<circle cx="278.60" cy="365.50" r="1.1" fill="#c8102e"/>
<circle cx="277.00" cy="372.50" r="1.1" fill="#c8102e"/>
<circle cx="279.00" cy="373.00" r="1.1" fill="#c8102e"/>
<circle cx="281.00" cy="372.50" r="1.1" fill="#c8102e"/>
<circle cx="278.60" cy="379.60" r="1.1" fill="#c8102e"/>
<circle cx="283.50" cy="347.00" r="1.1" fill="#0a4c8c"/>
<circle cx="285.50" cy="346.50" r="1.1" fill="#0a4c8c"/>
<circle cx="284.00" cy="349.50" r="1.1" fill="#0a4c8c"/>
<circle cx="286.00" cy="350.00" r="1.1" fill="#0a4c8c"/>
<circle cx="283.50" cy="352.00" r="1.1" fill="#0a4c8c"/>
<circle cx="285.00" cy="353.50" r="1.1" fill="#0a4c8c"/>
<circle cx="284.50" cy="345.00" r="1.1" fill="#0a4c8c"/>
<text x="284.05" y="423.80" font-size="7.7" text-anchor="end" font-weight="normal" font-style="normal" fill="#000" transform="rotate(-45 284.05 423.80)" >G-CSF</text>
<rect x="293.25" y="373.60" width="5.25" height="43.00" fill="#e48a9a" />
<rect x="298.50" y="369.90" width="5.25" height="46.70" fill="#83a9c9" />
<line x1="295.88" y1="370.50" x2="295.88" y2="373.60" stroke="#222" stroke-width="0.9" />
<line x1="294.38" y1="370.50" x2="297.38" y2="370.50" stroke="#222" stroke-width="0.9" />
<line x1="301.12" y1="368.00" x2="301.12" y2="369.90" stroke="#222" stroke-width="0.9" />
<line x1="299.62" y1="368.00" x2="302.62" y2="368.00" stroke="#222" stroke-width="0.9" />
<circle cx="293.80" cy="369.50" r="1.1" fill="#c8102e"/>
<circle cx="297.20" cy="369.50" r="1.1" fill="#c8102e"/>
<circle cx="295.50" cy="380.50" r="1.1" fill="#c8102e"/>
<circle cx="295.50" cy="397.50" r="1.1" fill="#c8102e"/>
<circle cx="295.50" cy="373.00" r="1.1" fill="#c8102e"/>
<circle cx="299.50" cy="368.50" r="1.1" fill="#0a4c8c"/>
<circle cx="301.50" cy="368.00" r="1.1" fill="#0a4c8c"/>
<circle cx="303.00" cy="369.50" r="1.1" fill="#0a4c8c"/>
<circle cx="300.00" cy="371.50" r="1.1" fill="#0a4c8c"/>
<circle cx="302.00" cy="372.50" r="1.1" fill="#0a4c8c"/>
<circle cx="300.50" cy="374.50" r="1.1" fill="#0a4c8c"/>
<circle cx="302.50" cy="375.00" r="1.1" fill="#0a4c8c"/>
<text x="301.10" y="423.80" font-size="7.7" text-anchor="end" font-weight="normal" font-style="normal" fill="#000" transform="rotate(-45 301.10 423.80)" >GM-CSF</text>
<rect x="310.30" y="349.70" width="5.25" height="66.90" fill="#e48a9a" />
<rect x="315.55" y="348.80" width="5.25" height="67.80" fill="#83a9c9" />
<circle cx="310.50" cy="349.50" r="1.1" fill="#c8102e"/>
<circle cx="312.50" cy="349.30" r="1.1" fill="#c8102e"/>
<circle cx="314.50" cy="349.50" r="1.1" fill="#c8102e"/>
<circle cx="311.50" cy="350.50" r="1.1" fill="#c8102e"/>
<circle cx="316.50" cy="348.30" r="1.1" fill="#0a4c8c"/>
<circle cx="318.50" cy="348.00" r="1.1" fill="#0a4c8c"/>
<circle cx="320.00" cy="348.50" r="1.1" fill="#0a4c8c"/>
<circle cx="317.50" cy="349.00" r="1.1" fill="#0a4c8c"/>
<text x="318.15" y="423.80" font-size="7.7" text-anchor="end" font-weight="normal" font-style="normal" fill="#000" transform="rotate(-45 318.15 423.80)" >M-CSF</text>
<rect x="327.35" y="395.60" width="5.25" height="21.00" fill="#e48a9a" />
<rect x="332.60" y="393.50" width="5.25" height="23.10" fill="#83a9c9" />
<line x1="329.98" y1="390.50" x2="329.98" y2="395.60" stroke="#222" stroke-width="0.9" />
<line x1="328.48" y1="390.50" x2="331.48" y2="390.50" stroke="#222" stroke-width="0.9" />
<line x1="335.23" y1="388.50" x2="335.23" y2="393.50" stroke="#222" stroke-width="0.9" />
<line x1="333.73" y1="388.50" x2="336.73" y2="388.50" stroke="#222" stroke-width="0.9" />
<circle cx="327.80" cy="391.50" r="1.1" fill="#c8102e"/>
<circle cx="330.60" cy="391.20" r="1.1" fill="#c8102e"/>
<circle cx="330.00" cy="395.00" r="1.1" fill="#c8102e"/>
<circle cx="330.00" cy="402.50" r="1.1" fill="#c8102e"/>
<circle cx="330.00" cy="411.00" r="1.1" fill="#c8102e"/>
<circle cx="333.50" cy="391.00" r="1.1" fill="#0a4c8c"/>
<circle cx="335.50" cy="389.00" r="1.1" fill="#0a4c8c"/>
<circle cx="337.00" cy="388.50" r="1.1" fill="#0a4c8c"/>
<circle cx="334.50" cy="394.00" r="1.1" fill="#0a4c8c"/>
<circle cx="336.00" cy="396.00" r="1.1" fill="#0a4c8c"/>
<circle cx="334.00" cy="399.00" r="1.1" fill="#0a4c8c"/>
<circle cx="336.50" cy="401.50" r="1.1" fill="#0a4c8c"/>
<text x="335.20" y="423.80" font-size="7.7" text-anchor="end" font-weight="normal" font-style="normal" fill="#000" transform="rotate(-45 335.20 423.80)" >IL-3</text>
<rect x="344.40" y="386.80" width="5.25" height="29.80" fill="#e48a9a" />
<rect x="349.65" y="378.00" width="5.25" height="38.60" fill="#83a9c9" />
<line x1="347.02" y1="385.00" x2="347.02" y2="386.80" stroke="#222" stroke-width="0.9" />
<line x1="345.52" y1="385.00" x2="348.52" y2="385.00" stroke="#222" stroke-width="0.9" />
<line x1="352.27" y1="375.00" x2="352.27" y2="378.00" stroke="#222" stroke-width="0.9" />
<line x1="350.77" y1="375.00" x2="353.77" y2="375.00" stroke="#222" stroke-width="0.9" />
<circle cx="345.50" cy="386.50" r="1.1" fill="#c8102e"/>
<circle cx="347.50" cy="385.50" r="1.1" fill="#c8102e"/>
<circle cx="349.00" cy="387.00" r="1.1" fill="#c8102e"/>
<circle cx="347.00" cy="401.50" r="1.1" fill="#c8102e"/>
<circle cx="350.50" cy="377.00" r="1.1" fill="#0a4c8c"/>
<circle cx="352.00" cy="376.00" r="1.1" fill="#0a4c8c"/>
<circle cx="353.50" cy="377.50" r="1.1" fill="#0a4c8c"/>
<circle cx="351.00" cy="379.50" r="1.1" fill="#0a4c8c"/>
<circle cx="353.00" cy="380.00" r="1.1" fill="#0a4c8c"/>
<circle cx="351.50" cy="381.50" r="1.1" fill="#0a4c8c"/>
<circle cx="353.50" cy="382.50" r="1.1" fill="#0a4c8c"/>
<circle cx="352.00" cy="378.00" r="1.1" fill="#0a4c8c"/>
<text x="352.25" y="423.80" font-size="7.7" text-anchor="end" font-weight="normal" font-style="normal" fill="#000" transform="rotate(-45 352.25 423.80)" >IL-1a</text>
<rect x="361.45" y="392.70" width="5.25" height="23.90" fill="#e48a9a" />
<rect x="366.70" y="387.80" width="5.25" height="28.80" fill="#83a9c9" />
<line x1="364.07" y1="388.50" x2="364.07" y2="392.70" stroke="#222" stroke-width="0.9" />
<line x1="362.57" y1="388.50" x2="365.57" y2="388.50" stroke="#222" stroke-width="0.9" />
<line x1="369.32" y1="385.00" x2="369.32" y2="387.80" stroke="#222" stroke-width="0.9" />
<line x1="367.82" y1="385.00" x2="370.82" y2="385.00" stroke="#222" stroke-width="0.9" />
<circle cx="362.00" cy="388.50" r="1.1" fill="#c8102e"/>
<circle cx="364.50" cy="388.00" r="1.1" fill="#c8102e"/>
<circle cx="364.00" cy="396.00" r="1.1" fill="#c8102e"/>
<circle cx="362.00" cy="404.00" r="1.1" fill="#c8102e"/>
<circle cx="365.50" cy="403.00" r="1.1" fill="#c8102e"/>
<circle cx="368.00" cy="386.50" r="1.1" fill="#0a4c8c"/>
<circle cx="370.00" cy="386.00" r="1.1" fill="#0a4c8c"/>
<circle cx="371.50" cy="388.00" r="1.1" fill="#0a4c8c"/>
<circle cx="368.50" cy="390.00" r="1.1" fill="#0a4c8c"/>
<circle cx="370.50" cy="391.50" r="1.1" fill="#0a4c8c"/>
<circle cx="369.00" cy="394.00" r="1.1" fill="#0a4c8c"/>
<circle cx="371.00" cy="396.00" r="1.1" fill="#0a4c8c"/>
<circle cx="370.00" cy="398.00" r="1.1" fill="#0a4c8c"/>
<text x="369.30" y="423.80" font-size="7.7" text-anchor="end" font-weight="normal" font-style="normal" fill="#000" transform="rotate(-45 369.30 423.80)" >IL1b</text>
<rect x="378.50" y="386.80" width="5.25" height="29.80" fill="#e48a9a" />
<rect x="383.75" y="373.00" width="5.25" height="43.60" fill="#83a9c9" />
<line x1="381.12" y1="381.20" x2="381.12" y2="386.80" stroke="#222" stroke-width="0.9" />
<line x1="379.62" y1="381.20" x2="382.62" y2="381.20" stroke="#222" stroke-width="0.9" />
<line x1="386.38" y1="368.00" x2="386.38" y2="373.00" stroke="#222" stroke-width="0.9" />
<line x1="384.88" y1="368.00" x2="387.88" y2="368.00" stroke="#222" stroke-width="0.9" />
<circle cx="380.50" cy="383.00" r="1.1" fill="#c8102e"/>
<circle cx="380.50" cy="387.50" r="1.1" fill="#c8102e"/>
<circle cx="382.50" cy="387.50" r="1.1" fill="#c8102e"/>
<circle cx="380.50" cy="410.50" r="1.1" fill="#c8102e"/>
<circle cx="385.00" cy="368.50" r="1.1" fill="#0a4c8c"/>
<circle cx="387.00" cy="369.50" r="1.1" fill="#0a4c8c"/>
<circle cx="385.50" cy="371.50" r="1.1" fill="#0a4c8c"/>
<circle cx="387.50" cy="373.00" r="1.1" fill="#0a4c8c"/>
<circle cx="386.00" cy="375.00" r="1.1" fill="#0a4c8c"/>
<circle cx="388.00" cy="376.00" r="1.1" fill="#0a4c8c"/>
<circle cx="385.00" cy="377.00" r="1.1" fill="#0a4c8c"/>
<circle cx="386.50" cy="378.00" r="1.1" fill="#0a4c8c"/>
<text x="386.35" y="423.80" font-size="7.7" text-anchor="end" font-weight="normal" font-style="normal" fill="#000" transform="rotate(-45 386.35 423.80)" >IL-6</text>
<rect x="395.55" y="381.20" width="5.25" height="35.40" fill="#e48a9a" />
<rect x="400.80" y="376.00" width="5.25" height="40.60" fill="#83a9c9" />
<line x1="398.18" y1="377.00" x2="398.18" y2="381.20" stroke="#222" stroke-width="0.9" />
<line x1="396.68" y1="377.00" x2="399.68" y2="377.00" stroke="#222" stroke-width="0.9" />
<line x1="403.43" y1="375.00" x2="403.43" y2="376.00" stroke="#222" stroke-width="0.9" />
<line x1="401.93" y1="375.00" x2="404.93" y2="375.00" stroke="#222" stroke-width="0.9" />
<circle cx="396.50" cy="377.50" r="1.1" fill="#c8102e"/>
<circle cx="400.00" cy="377.00" r="1.1" fill="#c8102e"/>
<circle cx="398.00" cy="384.00" r="1.1" fill="#c8102e"/>
<circle cx="398.00" cy="389.00" r="1.1" fill="#c8102e"/>
<circle cx="398.00" cy="405.50" r="1.1" fill="#c8102e"/>
<circle cx="402.00" cy="375.50" r="1.1" fill="#0a4c8c"/>
<circle cx="404.00" cy="375.00" r="1.1" fill="#0a4c8c"/>
<circle cx="405.50" cy="376.50" r="1.1" fill="#0a4c8c"/>
<circle cx="402.50" cy="378.50" r="1.1" fill="#0a4c8c"/>
<circle cx="404.50" cy="380.00" r="1.1" fill="#0a4c8c"/>
<circle cx="403.00" cy="382.50" r="1.1" fill="#0a4c8c"/>
<circle cx="405.00" cy="384.50" r="1.1" fill="#0a4c8c"/>
<circle cx="403.50" cy="387.00" r="1.1" fill="#0a4c8c"/>
<text x="403.40" y="423.80" font-size="7.7" text-anchor="end" font-weight="normal" font-style="normal" fill="#000" transform="rotate(-45 403.40 423.80)" >TNFα</text>
<rect x="412.60" y="380.20" width="5.25" height="36.40" fill="#e48a9a" />
<rect x="417.85" y="378.00" width="5.25" height="38.60" fill="#83a9c9" />
<line x1="415.23" y1="376.00" x2="415.23" y2="380.20" stroke="#222" stroke-width="0.9" />
<line x1="413.73" y1="376.00" x2="416.73" y2="376.00" stroke="#222" stroke-width="0.9" />
<line x1="420.48" y1="375.00" x2="420.48" y2="378.00" stroke="#222" stroke-width="0.9" />
<line x1="418.98" y1="375.00" x2="421.98" y2="375.00" stroke="#222" stroke-width="0.9" />
<circle cx="413.50" cy="376.50" r="1.1" fill="#c8102e"/>
<circle cx="416.50" cy="378.00" r="1.1" fill="#c8102e"/>
<circle cx="414.50" cy="384.00" r="1.1" fill="#c8102e"/>
<circle cx="415.00" cy="392.50" r="1.1" fill="#c8102e"/>
<circle cx="415.00" cy="408.50" r="1.1" fill="#c8102e"/>
<circle cx="419.00" cy="376.00" r="1.1" fill="#0a4c8c"/>
<circle cx="421.00" cy="374.50" r="1.1" fill="#0a4c8c"/>
<circle cx="422.50" cy="376.00" r="1.1" fill="#0a4c8c"/>
<circle cx="419.50" cy="378.50" r="1.1" fill="#0a4c8c"/>
<circle cx="421.50" cy="380.00" r="1.1" fill="#0a4c8c"/>
<circle cx="420.00" cy="383.00" r="1.1" fill="#0a4c8c"/>
<circle cx="422.00" cy="385.00" r="1.1" fill="#0a4c8c"/>
<circle cx="420.50" cy="387.00" r="1.1" fill="#0a4c8c"/>
<text x="420.45" y="423.80" font-size="7.7" text-anchor="end" font-weight="normal" font-style="normal" fill="#000" transform="rotate(-45 420.45 423.80)" >IFNγ</text>
<rect x="429.65" y="380.50" width="5.25" height="36.10" fill="#e48a9a" />
<rect x="434.90" y="379.00" width="5.25" height="37.60" fill="#83a9c9" />
<line x1="432.27" y1="377.50" x2="432.27" y2="380.50" stroke="#222" stroke-width="0.9" />
<line x1="430.77" y1="377.50" x2="433.77" y2="377.50" stroke="#222" stroke-width="0.9" />
<line x1="437.52" y1="377.00" x2="437.52" y2="379.00" stroke="#222" stroke-width="0.9" />
<line x1="436.02" y1="377.00" x2="439.02" y2="377.00" stroke="#222" stroke-width="0.9" />
<circle cx="431.00" cy="377.50" r="1.1" fill="#c8102e"/>
<circle cx="433.00" cy="378.00" r="1.1" fill="#c8102e"/>
<circle cx="432.00" cy="380.00" r="1.1" fill="#c8102e"/>
<circle cx="432.00" cy="397.50" r="1.1" fill="#c8102e"/>
<circle cx="436.50" cy="377.50" r="1.1" fill="#0a4c8c"/>
<circle cx="438.50" cy="377.00" r="1.1" fill="#0a4c8c"/>
<circle cx="440.00" cy="378.50" r="1.1" fill="#0a4c8c"/>
<circle cx="437.00" cy="380.00" r="1.1" fill="#0a4c8c"/>
<circle cx="439.00" cy="381.00" r="1.1" fill="#0a4c8c"/>
<circle cx="438.00" cy="383.50" r="1.1" fill="#0a4c8c"/>
<text x="437.50" y="423.80" font-size="7.7" text-anchor="end" font-weight="normal" font-style="normal" fill="#000" transform="rotate(-45 437.50 423.80)" >IL-2</text>
<rect x="446.70" y="391.80" width="5.25" height="24.80" fill="#e48a9a" />
<rect x="451.95" y="388.30" width="5.25" height="28.30" fill="#83a9c9" />
<line x1="449.32" y1="388.00" x2="449.32" y2="391.80" stroke="#222" stroke-width="0.9" />
<line x1="447.82" y1="388.00" x2="450.82" y2="388.00" stroke="#222" stroke-width="0.9" />
<line x1="454.57" y1="381.80" x2="454.57" y2="388.30" stroke="#222" stroke-width="0.9" />
<line x1="453.07" y1="381.80" x2="456.07" y2="381.80" stroke="#222" stroke-width="0.9" />
<circle cx="448.50" cy="387.50" r="1.1" fill="#c8102e"/>
<circle cx="451.00" cy="387.00" r="1.1" fill="#c8102e"/>
<circle cx="447.50" cy="395.50" r="1.1" fill="#c8102e"/>
<circle cx="451.50" cy="397.00" r="1.1" fill="#c8102e"/>
<circle cx="449.00" cy="414.50" r="1.1" fill="#c8102e"/>
<circle cx="454.50" cy="377.00" r="1.1" fill="#0a4c8c"/>
<circle cx="455.00" cy="392.00" r="1.1" fill="#0a4c8c"/>
<circle cx="454.00" cy="395.00" r="1.1" fill="#0a4c8c"/>
<circle cx="456.00" cy="396.00" r="1.1" fill="#0a4c8c"/>
<circle cx="455.00" cy="403.00" r="1.1" fill="#0a4c8c"/>
<circle cx="454.00" cy="404.50" r="1.1" fill="#0a4c8c"/>
<circle cx="453.50" cy="406.00" r="1.1" fill="#0a4c8c"/>
<circle cx="456.00" cy="389.00" r="1.1" fill="#0a4c8c"/>
<text x="454.55" y="423.80" font-size="7.7" text-anchor="end" font-weight="normal" font-style="normal" fill="#000" transform="rotate(-45 454.55 423.80)" >IL-4</text>
<rect x="463.75" y="385.40" width="5.25" height="31.20" fill="#e48a9a" />
<rect x="469.00" y="383.80" width="5.25" height="32.80" fill="#83a9c9" />
<line x1="466.38" y1="381.00" x2="466.38" y2="385.40" stroke="#222" stroke-width="0.9" />
<line x1="464.88" y1="381.00" x2="467.88" y2="381.00" stroke="#222" stroke-width="0.9" />
<line x1="471.62" y1="380.00" x2="471.62" y2="383.80" stroke="#222" stroke-width="0.9" />
<line x1="470.12" y1="380.00" x2="473.12" y2="380.00" stroke="#222" stroke-width="0.9" />
<circle cx="466.00" cy="381.00" r="1.1" fill="#c8102e"/>
<circle cx="468.00" cy="382.00" r="1.1" fill="#c8102e"/>
<circle cx="466.00" cy="388.50" r="1.1" fill="#c8102e"/>
<circle cx="466.00" cy="394.50" r="1.1" fill="#c8102e"/>
<circle cx="466.00" cy="407.00" r="1.1" fill="#c8102e"/>
<circle cx="471.00" cy="380.50" r="1.1" fill="#0a4c8c"/>
<circle cx="473.00" cy="380.00" r="1.1" fill="#0a4c8c"/>
<circle cx="474.00" cy="382.00" r="1.1" fill="#0a4c8c"/>
<circle cx="471.50" cy="384.50" r="1.1" fill="#0a4c8c"/>
<circle cx="473.50" cy="386.00" r="1.1" fill="#0a4c8c"/>
<circle cx="472.00" cy="389.00" r="1.1" fill="#0a4c8c"/>
<circle cx="473.00" cy="392.00" r="1.1" fill="#0a4c8c"/>
<circle cx="472.50" cy="395.00" r="1.1" fill="#0a4c8c"/>
<text x="471.60" y="423.80" font-size="7.7" text-anchor="end" font-weight="normal" font-style="normal" fill="#000" transform="rotate(-45 471.60 423.80)" >IL-5</text>
<rect x="480.80" y="378.10" width="5.25" height="38.50" fill="#e48a9a" />
<rect x="486.05" y="368.40" width="5.25" height="48.20" fill="#83a9c9" />
<line x1="483.43" y1="374.50" x2="483.43" y2="378.10" stroke="#222" stroke-width="0.9" />
<line x1="481.93" y1="374.50" x2="484.93" y2="374.50" stroke="#222" stroke-width="0.9" />
<line x1="488.68" y1="362.40" x2="488.68" y2="368.40" stroke="#222" stroke-width="0.9" />
<line x1="487.18" y1="362.40" x2="490.18" y2="362.40" stroke="#222" stroke-width="0.9" />
<circle cx="482.50" cy="374.50" r="1.1" fill="#c8102e"/>
<circle cx="485.00" cy="374.50" r="1.1" fill="#c8102e"/>
<circle cx="482.00" cy="392.20" r="1.1" fill="#c8102e"/>
<circle cx="483.70" cy="392.20" r="1.1" fill="#c8102e"/>
<circle cx="485.40" cy="392.20" r="1.1" fill="#c8102e"/>
<circle cx="488.50" cy="362.00" r="1.1" fill="#0a4c8c"/>
<circle cx="490.00" cy="364.00" r="1.1" fill="#0a4c8c"/>
<circle cx="489.00" cy="366.50" r="1.1" fill="#0a4c8c"/>
<circle cx="490.50" cy="368.00" r="1.1" fill="#0a4c8c"/>
<circle cx="488.00" cy="369.50" r="1.1" fill="#0a4c8c"/>
<circle cx="489.50" cy="371.00" r="1.1" fill="#0a4c8c"/>
<circle cx="491.00" cy="372.00" r="1.1" fill="#0a4c8c"/>
<circle cx="488.50" cy="374.50" r="1.1" fill="#0a4c8c"/>
<circle cx="489.50" cy="376.00" r="1.1" fill="#0a4c8c"/>
<text x="488.65" y="423.80" font-size="7.7" text-anchor="end" font-weight="normal" font-style="normal" fill="#000" transform="rotate(-45 488.65 423.80)" >IL-13</text>
<rect x="497.85" y="381.80" width="5.25" height="34.80" fill="#e48a9a" />
<rect x="503.10" y="379.00" width="5.25" height="37.60" fill="#83a9c9" />
<line x1="500.48" y1="380.00" x2="500.48" y2="381.80" stroke="#222" stroke-width="0.9" />
<line x1="498.98" y1="380.00" x2="501.98" y2="380.00" stroke="#222" stroke-width="0.9" />
<line x1="505.73" y1="374.00" x2="505.73" y2="379.00" stroke="#222" stroke-width="0.9" />
<line x1="504.23" y1="374.00" x2="507.23" y2="374.00" stroke="#222" stroke-width="0.9" />
<circle cx="499.00" cy="380.50" r="1.1" fill="#c8102e"/>
<circle cx="500.50" cy="383.00" r="1.1" fill="#c8102e"/>
<circle cx="501.50" cy="385.50" r="1.1" fill="#c8102e"/>
<circle cx="500.00" cy="413.50" r="1.1" fill="#c8102e"/>
<circle cx="502.00" cy="381.00" r="1.1" fill="#c8102e"/>
<circle cx="504.50" cy="374.50" r="1.1" fill="#0a4c8c"/>
<circle cx="506.00" cy="376.00" r="1.1" fill="#0a4c8c"/>
<circle cx="505.00" cy="378.00" r="1.1" fill="#0a4c8c"/>
<circle cx="506.50" cy="379.00" r="1.1" fill="#0a4c8c"/>
<circle cx="504.00" cy="380.00" r="1.1" fill="#0a4c8c"/>
<circle cx="505.50" cy="381.00" r="1.1" fill="#0a4c8c"/>
<text x="505.70" y="423.80" font-size="7.7" text-anchor="end" font-weight="normal" font-style="normal" fill="#000" transform="rotate(-45 505.70 423.80)" >IL-17A</text>
<polyline points="277.50,363.75 277.50,335.50 283.25,335.50 283.25,340.00" fill="none" stroke="#333" stroke-width="0.95"/>
<circle cx="276.02" cy="330.90" r="0.95" fill="#111"/>
<circle cx="278.93" cy="330.90" r="0.95" fill="#111"/>
<circle cx="281.82" cy="330.90" r="0.95" fill="#111"/>
<circle cx="284.73" cy="330.90" r="0.95" fill="#111"/>
<polyline points="311.75,345.00 311.75,342.50 318.25,342.50 318.25,345.00" fill="none" stroke="#333" stroke-width="0.95"/>
<circle cx="313.55" cy="337.90" r="0.95" fill="#111"/>
<circle cx="316.45" cy="337.90" r="0.95" fill="#111"/>
<polyline points="328.75,388.75 328.75,381.25 335.00,381.25 335.00,386.25" fill="none" stroke="#333" stroke-width="0.95"/>
<circle cx="330.43" cy="376.65" r="0.95" fill="#111"/>
<circle cx="333.32" cy="376.65" r="0.95" fill="#111"/>
<polyline points="346.25,383.75 346.25,368.75 352.50,368.75 352.50,373.75" fill="none" stroke="#333" stroke-width="0.95"/>
<circle cx="345.02" cy="364.15" r="0.95" fill="#111"/>
<circle cx="347.93" cy="364.15" r="0.95" fill="#111"/>
<circle cx="350.82" cy="364.15" r="0.95" fill="#111"/>
<circle cx="353.73" cy="364.15" r="0.95" fill="#111"/>
<polyline points="380.00,377.00 380.00,361.25 386.25,361.25 386.25,366.25" fill="none" stroke="#333" stroke-width="0.95"/>
<circle cx="380.23" cy="356.65" r="0.95" fill="#111"/>
<circle cx="383.12" cy="356.65" r="0.95" fill="#111"/>
<circle cx="386.02" cy="356.65" r="0.95" fill="#111"/>
<polyline points="483.25,370.00 483.25,355.00 488.75,355.00 488.75,362.50" fill="none" stroke="#333" stroke-width="0.95"/>
<circle cx="484.55" cy="350.40" r="0.95" fill="#111"/>
<circle cx="487.45" cy="350.40" r="0.95" fill="#111"/>
<polyline points="500.75,376.25 500.75,368.75 507.50,368.75 507.50,373.75" fill="none" stroke="#333" stroke-width="0.95"/>
<circle cx="502.68" cy="364.15" r="0.95" fill="#111"/>
<circle cx="505.57" cy="364.15" r="0.95" fill="#111"/>
<rect x="0.5" y="0.5" width="519" height="451" fill="none" stroke="#000" stroke-width="1.2"/>
</svg>
</body></html>
